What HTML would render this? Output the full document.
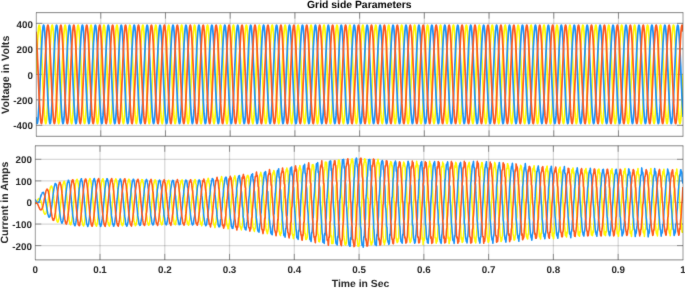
<!DOCTYPE html>
<html><head><meta charset="utf-8"><title>Grid side Parameters</title>
<style>html,body{margin:0;padding:0;background:#fff;overflow:hidden}svg{display:block}</style>
</head><body>
<svg width="685" height="288" viewBox="0 0 685 288" text-rendering="geometricPrecision">
<defs><clipPath id="c1"><rect x="36.3" y="12.65" width="646.7" height="123.65"/></clipPath><clipPath id="c2"><rect x="35.3" y="145.8" width="647.7" height="114.09999999999997"/></clipPath><filter id="sm" x="0" y="0" width="1" height="1" color-interpolation-filters="sRGB"><feConvolveMatrix order="3" kernelMatrix="1 10 1 10 100 10 1 10 1" divisor="144" edgeMode="duplicate"/></filter></defs>
<g filter="url(#sm)">
<rect width="685" height="288" fill="#fff"/>
<g stroke="rgba(38,38,38,0.18)" stroke-width="1.25"><line x1="100.76" y1="12.65" x2="100.76" y2="136.3"/><line x1="165.47" y1="12.65" x2="165.47" y2="136.3"/><line x1="230.18" y1="12.65" x2="230.18" y2="136.3"/><line x1="294.90" y1="12.65" x2="294.90" y2="136.3"/><line x1="359.61" y1="12.65" x2="359.61" y2="136.3"/><line x1="424.32" y1="12.65" x2="424.32" y2="136.3"/><line x1="489.04" y1="12.65" x2="489.04" y2="136.3"/><line x1="553.75" y1="12.65" x2="553.75" y2="136.3"/><line x1="618.46" y1="12.65" x2="618.46" y2="136.3"/><line x1="36.3" y1="23.35" x2="683.0" y2="23.35"/><line x1="36.3" y1="48.85" x2="683.0" y2="48.85"/><line x1="36.3" y1="74.35" x2="683.0" y2="74.35"/><line x1="36.3" y1="99.85" x2="683.0" y2="99.85"/><line x1="36.3" y1="125.35" x2="683.0" y2="125.35"/></g>
<g stroke="rgba(38,38,38,0.18)" stroke-width="1.25"><line x1="100.00" y1="145.8" x2="100.00" y2="259.9"/><line x1="164.77" y1="145.8" x2="164.77" y2="259.9"/><line x1="229.54" y1="145.8" x2="229.54" y2="259.9"/><line x1="294.31" y1="145.8" x2="294.31" y2="259.9"/><line x1="359.08" y1="145.8" x2="359.08" y2="259.9"/><line x1="423.85" y1="145.8" x2="423.85" y2="259.9"/><line x1="488.62" y1="145.8" x2="488.62" y2="259.9"/><line x1="553.39" y1="145.8" x2="553.39" y2="259.9"/><line x1="618.16" y1="145.8" x2="618.16" y2="259.9"/><line x1="35.3" y1="159.31" x2="683.0" y2="159.31"/><line x1="35.3" y1="180.88" x2="683.0" y2="180.88"/><line x1="35.3" y1="202.45" x2="683.0" y2="202.45"/><line x1="35.3" y1="224.02" x2="683.0" y2="224.02"/><line x1="35.3" y1="245.59" x2="683.0" y2="245.59"/></g>
<g stroke="#333333" stroke-width="0.45"><line x1="100.76" y1="12.65" x2="100.76" y2="18.65"/><line x1="100.76" y1="136.3" x2="100.76" y2="130.3"/><line x1="165.47" y1="12.65" x2="165.47" y2="18.65"/><line x1="165.47" y1="136.3" x2="165.47" y2="130.3"/><line x1="230.18" y1="12.65" x2="230.18" y2="18.65"/><line x1="230.18" y1="136.3" x2="230.18" y2="130.3"/><line x1="294.90" y1="12.65" x2="294.90" y2="18.65"/><line x1="294.90" y1="136.3" x2="294.90" y2="130.3"/><line x1="359.61" y1="12.65" x2="359.61" y2="18.65"/><line x1="359.61" y1="136.3" x2="359.61" y2="130.3"/><line x1="424.32" y1="12.65" x2="424.32" y2="18.65"/><line x1="424.32" y1="136.3" x2="424.32" y2="130.3"/><line x1="489.04" y1="12.65" x2="489.04" y2="18.65"/><line x1="489.04" y1="136.3" x2="489.04" y2="130.3"/><line x1="553.75" y1="12.65" x2="553.75" y2="18.65"/><line x1="553.75" y1="136.3" x2="553.75" y2="130.3"/><line x1="618.46" y1="12.65" x2="618.46" y2="18.65"/><line x1="618.46" y1="136.3" x2="618.46" y2="130.3"/><line x1="36.3" y1="23.35" x2="42.3" y2="23.35"/><line x1="683.0" y1="23.35" x2="677.0" y2="23.35"/><line x1="36.3" y1="48.85" x2="42.3" y2="48.85"/><line x1="683.0" y1="48.85" x2="677.0" y2="48.85"/><line x1="36.3" y1="74.35" x2="42.3" y2="74.35"/><line x1="683.0" y1="74.35" x2="677.0" y2="74.35"/><line x1="36.3" y1="99.85" x2="42.3" y2="99.85"/><line x1="683.0" y1="99.85" x2="677.0" y2="99.85"/><line x1="36.3" y1="125.35" x2="42.3" y2="125.35"/><line x1="683.0" y1="125.35" x2="677.0" y2="125.35"/></g>
<g stroke="#333333" stroke-width="0.45"><line x1="100.00" y1="145.8" x2="100.00" y2="151.8"/><line x1="100.00" y1="259.9" x2="100.00" y2="253.89999999999998"/><line x1="164.77" y1="145.8" x2="164.77" y2="151.8"/><line x1="164.77" y1="259.9" x2="164.77" y2="253.89999999999998"/><line x1="229.54" y1="145.8" x2="229.54" y2="151.8"/><line x1="229.54" y1="259.9" x2="229.54" y2="253.89999999999998"/><line x1="294.31" y1="145.8" x2="294.31" y2="151.8"/><line x1="294.31" y1="259.9" x2="294.31" y2="253.89999999999998"/><line x1="359.08" y1="145.8" x2="359.08" y2="151.8"/><line x1="359.08" y1="259.9" x2="359.08" y2="253.89999999999998"/><line x1="423.85" y1="145.8" x2="423.85" y2="151.8"/><line x1="423.85" y1="259.9" x2="423.85" y2="253.89999999999998"/><line x1="488.62" y1="145.8" x2="488.62" y2="151.8"/><line x1="488.62" y1="259.9" x2="488.62" y2="253.89999999999998"/><line x1="553.39" y1="145.8" x2="553.39" y2="151.8"/><line x1="553.39" y1="259.9" x2="553.39" y2="253.89999999999998"/><line x1="618.16" y1="145.8" x2="618.16" y2="151.8"/><line x1="618.16" y1="259.9" x2="618.16" y2="253.89999999999998"/><line x1="35.3" y1="159.31" x2="41.3" y2="159.31"/><line x1="683.0" y1="159.31" x2="677.0" y2="159.31"/><line x1="35.3" y1="180.88" x2="41.3" y2="180.88"/><line x1="683.0" y1="180.88" x2="677.0" y2="180.88"/><line x1="35.3" y1="202.45" x2="41.3" y2="202.45"/><line x1="683.0" y1="202.45" x2="677.0" y2="202.45"/><line x1="35.3" y1="224.02" x2="41.3" y2="224.02"/><line x1="683.0" y1="224.02" x2="677.0" y2="224.02"/><line x1="35.3" y1="245.59" x2="41.3" y2="245.59"/><line x1="683.0" y1="245.59" x2="677.0" y2="245.59"/></g>
<g clip-path="url(#c1)"><polyline points="36.0,74.3 36.3,68.4 36.5,62.6 36.8,56.9 37.0,51.5 37.3,46.4 37.5,41.7 37.8,37.5 38.0,33.8 38.3,30.8 38.5,28.3 38.8,26.6 39.0,25.5 39.3,25.1 39.5,25.5 39.8,26.6 40.0,28.3 40.3,30.8 40.5,33.8 40.8,37.5 41.0,41.7 41.3,46.4 41.5,51.5 41.8,56.9 42.0,62.6 42.3,68.4 42.5,74.3 42.8,80.3 43.0,86.1 43.3,91.8 43.5,97.2 43.8,102.3 44.0,107.0 44.3,111.2 44.5,114.9 44.8,117.9 45.0,120.4 45.3,122.1 45.5,123.2 45.8,123.6 46.0,123.2 46.2,122.1 46.5,120.4 46.7,117.9 47.0,114.9 47.2,111.2 47.5,107.0 47.7,102.3 48.0,97.2 48.2,91.8 48.5,86.1 48.7,80.3 49.0,74.4 49.2,68.4 49.5,62.6 49.7,56.9 50.0,51.5 50.2,46.4 50.5,41.7 50.7,37.5 51.0,33.8 51.2,30.8 51.5,28.3 51.7,26.6 52.0,25.5 52.2,25.1 52.5,25.5 52.7,26.6 53.0,28.3 53.2,30.8 53.5,33.8 53.7,37.5 54.0,41.7 54.2,46.4 54.5,51.5 54.7,56.9 55.0,62.6 55.2,68.4 55.5,74.3 55.7,80.3 56.0,86.1 56.2,91.8 56.5,97.2 56.7,102.3 57.0,107.0 57.2,111.2 57.5,114.9 57.7,117.9 57.9,120.4 58.2,122.1 58.4,123.2 58.7,123.6 58.9,123.2 59.2,122.1 59.4,120.4 59.7,117.9 59.9,114.9 60.2,111.2 60.4,107.0 60.7,102.3 60.9,97.2 61.2,91.8 61.4,86.1 61.7,80.3 61.9,74.4 62.2,68.4 62.4,62.6 62.7,56.9 62.9,51.5 63.2,46.4 63.4,41.7 63.7,37.5 63.9,33.8 64.2,30.8 64.4,28.3 64.7,26.6 64.9,25.5 65.2,25.1 65.4,25.5 65.7,26.6 65.9,28.3 66.2,30.8 66.4,33.8 66.7,37.5 66.9,41.7 67.2,46.4 67.4,51.5 67.7,56.9 67.9,62.6 68.2,68.4 68.4,74.4 68.7,80.3 68.9,86.1 69.1,91.8 69.4,97.2 69.6,102.3 69.9,107.0 70.1,111.2 70.4,114.9 70.6,117.9 70.9,120.4 71.1,122.1 71.4,123.2 71.6,123.6 71.9,123.2 72.1,122.1 72.4,120.4 72.6,117.9 72.9,114.9 73.1,111.2 73.4,107.0 73.6,102.3 73.9,97.2 74.1,91.8 74.4,86.1 74.6,80.3 74.9,74.4 75.1,68.4 75.4,62.6 75.6,56.9 75.9,51.5 76.1,46.4 76.4,41.7 76.6,37.5 76.9,33.8 77.1,30.8 77.4,28.3 77.6,26.6 77.9,25.5 78.1,25.1 78.4,25.5 78.6,26.6 78.9,28.3 79.1,30.8 79.4,33.8 79.6,37.5 79.9,41.7 80.1,46.4 80.3,51.5 80.6,56.9 80.8,62.6 81.1,68.4 81.3,74.4 81.6,80.3 81.8,86.1 82.1,91.8 82.3,97.2 82.6,102.3 82.8,107.0 83.1,111.2 83.3,114.9 83.6,117.9 83.8,120.4 84.1,122.1 84.3,123.2 84.6,123.6 84.8,123.2 85.1,122.1 85.3,120.4 85.6,117.9 85.8,114.9 86.1,111.2 86.3,107.0 86.6,102.3 86.8,97.2 87.1,91.8 87.3,86.1 87.6,80.3 87.8,74.4 88.1,68.4 88.3,62.6 88.6,56.9 88.8,51.5 89.1,46.4 89.3,41.7 89.6,37.5 89.8,33.8 90.1,30.8 90.3,28.3 90.6,26.6 90.8,25.5 91.1,25.1 91.3,25.5 91.5,26.6 91.8,28.3 92.0,30.8 92.3,33.8 92.5,37.5 92.8,41.7 93.0,46.4 93.3,51.5 93.5,56.9 93.8,62.6 94.0,68.4 94.3,74.3 94.5,80.3 94.8,86.1 95.0,91.8 95.3,97.2 95.5,102.3 95.8,107.0 96.0,111.2 96.3,114.9 96.5,117.9 96.8,120.4 97.0,122.1 97.3,123.2 97.5,123.6 97.8,123.2 98.0,122.1 98.3,120.4 98.5,117.9 98.8,114.9 99.0,111.2 99.3,107.0 99.5,102.3 99.8,97.2 100.0,91.8 100.3,86.1 100.5,80.3 100.8,74.3 101.0,68.4 101.3,62.6 101.5,56.9 101.8,51.5 102.0,46.4 102.3,41.7 102.5,37.5 102.7,33.8 103.0,30.8 103.2,28.3 103.5,26.6 103.7,25.5 104.0,25.1 104.2,25.5 104.5,26.6 104.7,28.3 105.0,30.8 105.2,33.8 105.5,37.5 105.7,41.7 106.0,46.4 106.2,51.5 106.5,56.9 106.7,62.6 107.0,68.4 107.2,74.4 107.5,80.3 107.7,86.1 108.0,91.8 108.2,97.2 108.5,102.3 108.7,107.0 109.0,111.2 109.2,114.9 109.5,117.9 109.7,120.4 110.0,122.1 110.2,123.2 110.5,123.6 110.7,123.2 111.0,122.1 111.2,120.4 111.5,117.9 111.7,114.9 112.0,111.2 112.2,107.0 112.5,102.3 112.7,97.2 113.0,91.8 113.2,86.1 113.5,80.3 113.7,74.4 113.9,68.4 114.2,62.6 114.4,56.9 114.7,51.5 114.9,46.4 115.2,41.7 115.4,37.5 115.7,33.8 115.9,30.8 116.2,28.3 116.4,26.6 116.7,25.5 116.9,25.1 117.2,25.5 117.4,26.6 117.7,28.3 117.9,30.8 118.2,33.8 118.4,37.5 118.7,41.7 118.9,46.4 119.2,51.5 119.4,56.9 119.7,62.6 119.9,68.4 120.2,74.4 120.4,80.3 120.7,86.1 120.9,91.8 121.2,97.2 121.4,102.3 121.7,107.0 121.9,111.2 122.2,114.9 122.4,117.9 122.7,120.4 122.9,122.1 123.2,123.2 123.4,123.6 123.7,123.2 123.9,122.1 124.2,120.4 124.4,117.9 124.7,114.9 124.9,111.2 125.1,107.0 125.4,102.3 125.6,97.2 125.9,91.8 126.1,86.1 126.4,80.3 126.6,74.3 126.9,68.4 127.1,62.6 127.4,56.9 127.6,51.5 127.9,46.4 128.1,41.7 128.4,37.5 128.6,33.8 128.9,30.8 129.1,28.3 129.4,26.6 129.6,25.5 129.9,25.1 130.1,25.5 130.4,26.6 130.6,28.3 130.9,30.8 131.1,33.8 131.4,37.5 131.6,41.7 131.9,46.4 132.1,51.5 132.4,56.9 132.6,62.6 132.9,68.4 133.1,74.4 133.4,80.3 133.6,86.1 133.9,91.8 134.1,97.2 134.4,102.3 134.6,107.0 134.9,111.2 135.1,114.9 135.4,117.9 135.6,120.4 135.9,122.1 136.1,123.2 136.4,123.6 136.6,123.2 136.8,122.1 137.1,120.4 137.3,117.9 137.6,114.9 137.8,111.2 138.1,107.0 138.3,102.3 138.6,97.2 138.8,91.8 139.1,86.1 139.3,80.3 139.6,74.4 139.8,68.4 140.1,62.6 140.3,56.9 140.6,51.5 140.8,46.4 141.1,41.7 141.3,37.5 141.6,33.8 141.8,30.8 142.1,28.3 142.3,26.6 142.6,25.5 142.8,25.1 143.1,25.5 143.3,26.6 143.6,28.3 143.8,30.8 144.1,33.8 144.3,37.5 144.6,41.7 144.8,46.4 145.1,51.5 145.3,56.9 145.6,62.6 145.8,68.4 146.1,74.4 146.3,80.3 146.6,86.1 146.8,91.8 147.1,97.2 147.3,102.3 147.6,107.0 147.8,111.2 148.0,114.9 148.3,117.9 148.5,120.4 148.8,122.1 149.0,123.2 149.3,123.6 149.5,123.2 149.8,122.1 150.0,120.4 150.3,117.9 150.5,114.9 150.8,111.2 151.0,107.0 151.3,102.3 151.5,97.2 151.8,91.8 152.0,86.1 152.3,80.3 152.5,74.4 152.8,68.4 153.0,62.6 153.3,56.9 153.5,51.5 153.8,46.4 154.0,41.7 154.3,37.5 154.5,33.8 154.8,30.8 155.0,28.3 155.3,26.6 155.5,25.5 155.8,25.1 156.0,25.5 156.3,26.6 156.5,28.3 156.8,30.8 157.0,33.8 157.3,37.5 157.5,41.7 157.8,46.4 158.0,51.5 158.3,56.9 158.5,62.6 158.8,68.4 159.0,74.4 159.2,80.3 159.5,86.1 159.7,91.8 160.0,97.2 160.2,102.3 160.5,107.0 160.7,111.2 161.0,114.9 161.2,117.9 161.5,120.4 161.7,122.1 162.0,123.2 162.2,123.6 162.5,123.2 162.7,122.1 163.0,120.4 163.2,117.9 163.5,114.9 163.7,111.2 164.0,107.0 164.2,102.3 164.5,97.2 164.7,91.8 165.0,86.1 165.2,80.3 165.5,74.3 165.7,68.4 166.0,62.6 166.2,56.9 166.5,51.5 166.7,46.4 167.0,41.7 167.2,37.5 167.5,33.8 167.7,30.8 168.0,28.3 168.2,26.6 168.5,25.5 168.7,25.1 169.0,25.5 169.2,26.6 169.5,28.3 169.7,30.8 170.0,33.8 170.2,37.5 170.4,41.7 170.7,46.4 170.9,51.5 171.2,56.9 171.4,62.6 171.7,68.4 171.9,74.4 172.2,80.3 172.4,86.1 172.7,91.8 172.9,97.2 173.2,102.3 173.4,107.0 173.7,111.2 173.9,114.9 174.2,117.9 174.4,120.4 174.7,122.1 174.9,123.2 175.2,123.6 175.4,123.2 175.7,122.1 175.9,120.4 176.2,117.9 176.4,114.9 176.7,111.2 176.9,107.0 177.2,102.3 177.4,97.2 177.7,91.8 177.9,86.1 178.2,80.3 178.4,74.3 178.7,68.4 178.9,62.6 179.2,56.9 179.4,51.5 179.7,46.4 179.9,41.7 180.2,37.5 180.4,33.8 180.7,30.8 180.9,28.3 181.2,26.6 181.4,25.5 181.6,25.1 181.9,25.5 182.1,26.6 182.4,28.3 182.6,30.8 182.9,33.8 183.1,37.5 183.4,41.7 183.6,46.4 183.9,51.5 184.1,56.9 184.4,62.6 184.6,68.4 184.9,74.4 185.1,80.3 185.4,86.1 185.6,91.8 185.9,97.2 186.1,102.3 186.4,107.0 186.6,111.2 186.9,114.9 187.1,117.9 187.4,120.4 187.6,122.1 187.9,123.2 188.1,123.6 188.4,123.2 188.6,122.1 188.9,120.4 189.1,117.9 189.4,114.9 189.6,111.2 189.9,107.0 190.1,102.3 190.4,97.2 190.6,91.8 190.9,86.1 191.1,80.3 191.4,74.4 191.6,68.4 191.9,62.6 192.1,56.9 192.4,51.5 192.6,46.4 192.8,41.7 193.1,37.5 193.3,33.8 193.6,30.8 193.8,28.3 194.1,26.6 194.3,25.5 194.6,25.1 194.8,25.5 195.1,26.6 195.3,28.3 195.6,30.8 195.8,33.8 196.1,37.5 196.3,41.7 196.6,46.4 196.8,51.5 197.1,56.9 197.3,62.6 197.6,68.4 197.8,74.4 198.1,80.3 198.3,86.1 198.6,91.8 198.8,97.2 199.1,102.3 199.3,107.0 199.6,111.2 199.8,114.9 200.1,117.9 200.3,120.4 200.6,122.1 200.8,123.2 201.1,123.6 201.3,123.2 201.6,122.1 201.8,120.4 202.1,117.9 202.3,114.9 202.6,111.2 202.8,107.0 203.1,102.3 203.3,97.2 203.6,91.8 203.8,86.1 204.0,80.3 204.3,74.3 204.5,68.4 204.8,62.6 205.0,56.9 205.3,51.5 205.5,46.4 205.8,41.7 206.0,37.5 206.3,33.8 206.5,30.8 206.8,28.3 207.0,26.6 207.3,25.5 207.5,25.1 207.8,25.5 208.0,26.6 208.3,28.3 208.5,30.8 208.8,33.8 209.0,37.5 209.3,41.7 209.5,46.4 209.8,51.5 210.0,56.9 210.3,62.6 210.5,68.4 210.8,74.4 211.0,80.3 211.3,86.1 211.5,91.8 211.8,97.2 212.0,102.3 212.3,107.0 212.5,111.2 212.8,114.9 213.0,117.9 213.3,120.4 213.5,122.1 213.8,123.2 214.0,123.6 214.3,123.2 214.5,122.1 214.8,120.4 215.0,117.9 215.3,114.9 215.5,111.2 215.7,107.0 216.0,102.3 216.2,97.2 216.5,91.8 216.7,86.1 217.0,80.3 217.2,74.3 217.5,68.4 217.7,62.6 218.0,56.9 218.2,51.5 218.5,46.4 218.7,41.7 219.0,37.5 219.2,33.8 219.5,30.8 219.7,28.3 220.0,26.6 220.2,25.5 220.5,25.1 220.7,25.5 221.0,26.6 221.2,28.3 221.5,30.8 221.7,33.8 222.0,37.5 222.2,41.7 222.5,46.4 222.7,51.5 223.0,56.9 223.2,62.6 223.5,68.4 223.7,74.3 224.0,80.3 224.2,86.1 224.5,91.8 224.7,97.2 225.0,102.3 225.2,107.0 225.5,111.2 225.7,114.9 226.0,117.9 226.2,120.4 226.5,122.1 226.7,123.2 226.9,123.6 227.2,123.2 227.4,122.1 227.7,120.4 227.9,117.9 228.2,114.9 228.4,111.2 228.7,107.0 228.9,102.3 229.2,97.2 229.4,91.8 229.7,86.1 229.9,80.3 230.2,74.3 230.4,68.4 230.7,62.6 230.9,56.9 231.2,51.5 231.4,46.4 231.7,41.7 231.9,37.5 232.2,33.8 232.4,30.8 232.7,28.3 232.9,26.6 233.2,25.5 233.4,25.1 233.7,25.5 233.9,26.6 234.2,28.3 234.4,30.8 234.7,33.8 234.9,37.5 235.2,41.7 235.4,46.4 235.7,51.5 235.9,56.9 236.2,62.6 236.4,68.4 236.7,74.4 236.9,80.3 237.2,86.1 237.4,91.8 237.7,97.2 237.9,102.3 238.1,107.0 238.4,111.2 238.6,114.9 238.9,117.9 239.1,120.4 239.4,122.1 239.6,123.2 239.9,123.6 240.1,123.2 240.4,122.1 240.6,120.4 240.9,117.9 241.1,114.9 241.4,111.2 241.6,107.0 241.9,102.3 242.1,97.2 242.4,91.8 242.6,86.1 242.9,80.3 243.1,74.4 243.4,68.4 243.6,62.6 243.9,56.9 244.1,51.5 244.4,46.4 244.6,41.7 244.9,37.5 245.1,33.8 245.4,30.8 245.6,28.3 245.9,26.6 246.1,25.5 246.4,25.1 246.6,25.5 246.9,26.6 247.1,28.3 247.4,30.8 247.6,33.8 247.9,37.5 248.1,41.7 248.4,46.4 248.6,51.5 248.9,56.9 249.1,62.6 249.3,68.4 249.6,74.3 249.8,80.3 250.1,86.1 250.3,91.8 250.6,97.2 250.8,102.3 251.1,107.0 251.3,111.2 251.6,114.9 251.8,117.9 252.1,120.4 252.3,122.1 252.6,123.2 252.8,123.6 253.1,123.2 253.3,122.1 253.6,120.4 253.8,117.9 254.1,114.9 254.3,111.2 254.6,107.0 254.8,102.3 255.1,97.2 255.3,91.8 255.6,86.1 255.8,80.3 256.1,74.3 256.3,68.4 256.6,62.6 256.8,56.9 257.1,51.5 257.3,46.4 257.6,41.7 257.8,37.5 258.1,33.8 258.3,30.8 258.6,28.3 258.8,26.6 259.1,25.5 259.3,25.1 259.6,25.5 259.8,26.6 260.1,28.3 260.3,30.8 260.5,33.8 260.8,37.5 261.0,41.7 261.3,46.4 261.5,51.5 261.8,56.9 262.0,62.6 262.3,68.4 262.5,74.3 262.8,80.3 263.0,86.1 263.3,91.8 263.5,97.2 263.8,102.3 264.0,107.0 264.3,111.2 264.5,114.9 264.8,117.9 265.0,120.4 265.3,122.1 265.5,123.2 265.8,123.6 266.0,123.2 266.3,122.1 266.5,120.4 266.8,117.9 267.0,114.9 267.3,111.2 267.5,107.0 267.8,102.3 268.0,97.2 268.3,91.8 268.5,86.1 268.8,80.3 269.0,74.4 269.3,68.4 269.5,62.6 269.8,56.9 270.0,51.5 270.3,46.4 270.5,41.7 270.8,37.5 271.0,33.8 271.3,30.8 271.5,28.3 271.7,26.6 272.0,25.5 272.2,25.1 272.5,25.5 272.7,26.6 273.0,28.3 273.2,30.8 273.5,33.8 273.7,37.5 274.0,41.7 274.2,46.4 274.5,51.5 274.7,56.9 275.0,62.6 275.2,68.4 275.5,74.3 275.7,80.3 276.0,86.1 276.2,91.8 276.5,97.2 276.7,102.3 277.0,107.0 277.2,111.2 277.5,114.9 277.7,117.9 278.0,120.4 278.2,122.1 278.5,123.2 278.7,123.6 279.0,123.2 279.2,122.1 279.5,120.4 279.7,117.9 280.0,114.9 280.2,111.2 280.5,107.0 280.7,102.3 281.0,97.2 281.2,91.8 281.5,86.1 281.7,80.3 282.0,74.3 282.2,68.4 282.5,62.6 282.7,56.9 282.9,51.5 283.2,46.4 283.4,41.7 283.7,37.5 283.9,33.8 284.2,30.8 284.4,28.3 284.7,26.6 284.9,25.5 285.2,25.1 285.4,25.5 285.7,26.6 285.9,28.3 286.2,30.8 286.4,33.8 286.7,37.5 286.9,41.7 287.2,46.4 287.4,51.5 287.7,56.9 287.9,62.6 288.2,68.4 288.4,74.4 288.7,80.3 288.9,86.1 289.2,91.8 289.4,97.2 289.7,102.3 289.9,107.0 290.2,111.2 290.4,114.9 290.7,117.9 290.9,120.4 291.2,122.1 291.4,123.2 291.7,123.6 291.9,123.2 292.2,122.1 292.4,120.4 292.7,117.9 292.9,114.9 293.2,111.2 293.4,107.0 293.7,102.3 293.9,97.2 294.2,91.8 294.4,86.1 294.6,80.3 294.9,74.3 295.1,68.4 295.4,62.6 295.6,56.9 295.9,51.5 296.1,46.4 296.4,41.7 296.6,37.5 296.9,33.8 297.1,30.8 297.4,28.3 297.6,26.6 297.9,25.5 298.1,25.1 298.4,25.5 298.6,26.6 298.9,28.3 299.1,30.8 299.4,33.8 299.6,37.5 299.9,41.7 300.1,46.4 300.4,51.5 300.6,56.9 300.9,62.6 301.1,68.4 301.4,74.3 301.6,80.3 301.9,86.1 302.1,91.8 302.4,97.2 302.6,102.3 302.9,107.0 303.1,111.2 303.4,114.9 303.6,117.9 303.9,120.4 304.1,122.1 304.4,123.2 304.6,123.6 304.9,123.2 305.1,122.1 305.4,120.4 305.6,117.9 305.8,114.9 306.1,111.2 306.3,107.0 306.6,102.3 306.8,97.2 307.1,91.8 307.3,86.1 307.6,80.3 307.8,74.3 308.1,68.4 308.3,62.6 308.6,56.9 308.8,51.5 309.1,46.4 309.3,41.7 309.6,37.5 309.8,33.8 310.1,30.8 310.3,28.3 310.6,26.6 310.8,25.5 311.1,25.1 311.3,25.5 311.6,26.6 311.8,28.3 312.1,30.8 312.3,33.8 312.6,37.5 312.8,41.7 313.1,46.4 313.3,51.5 313.6,56.9 313.8,62.6 314.1,68.4 314.3,74.3 314.6,80.3 314.8,86.1 315.1,91.8 315.3,97.2 315.6,102.3 315.8,107.0 316.1,111.2 316.3,114.9 316.6,117.9 316.8,120.4 317.0,122.1 317.3,123.2 317.5,123.6 317.8,123.2 318.0,122.1 318.3,120.4 318.5,117.9 318.8,114.9 319.0,111.2 319.3,107.0 319.5,102.3 319.8,97.2 320.0,91.8 320.3,86.1 320.5,80.3 320.8,74.3 321.0,68.4 321.3,62.6 321.5,56.9 321.8,51.5 322.0,46.4 322.3,41.7 322.5,37.5 322.8,33.8 323.0,30.8 323.3,28.3 323.5,26.6 323.8,25.5 324.0,25.1 324.3,25.5 324.5,26.6 324.8,28.3 325.0,30.8 325.3,33.8 325.5,37.5 325.8,41.7 326.0,46.4 326.3,51.5 326.5,56.9 326.8,62.6 327.0,68.4 327.3,74.3 327.5,80.3 327.8,86.1 328.0,91.8 328.2,97.2 328.5,102.3 328.7,107.0 329.0,111.2 329.2,114.9 329.5,117.9 329.7,120.4 330.0,122.1 330.2,123.2 330.5,123.6 330.7,123.2 331.0,122.1 331.2,120.4 331.5,117.9 331.7,114.9 332.0,111.2 332.2,107.0 332.5,102.3 332.7,97.2 333.0,91.8 333.2,86.1 333.5,80.3 333.7,74.3 334.0,68.4 334.2,62.6 334.5,56.9 334.7,51.5 335.0,46.4 335.2,41.7 335.5,37.5 335.7,33.8 336.0,30.8 336.2,28.3 336.5,26.6 336.7,25.5 337.0,25.1 337.2,25.5 337.5,26.6 337.7,28.3 338.0,30.8 338.2,33.8 338.5,37.5 338.7,41.7 339.0,46.4 339.2,51.5 339.4,56.9 339.7,62.6 339.9,68.4 340.2,74.4 340.4,80.3 340.7,86.1 340.9,91.8 341.2,97.2 341.4,102.3 341.7,107.0 341.9,111.2 342.2,114.9 342.4,117.9 342.7,120.4 342.9,122.1 343.2,123.2 343.4,123.6 343.7,123.2 343.9,122.1 344.2,120.4 344.4,117.9 344.7,114.9 344.9,111.2 345.2,107.0 345.4,102.3 345.7,97.2 345.9,91.8 346.2,86.1 346.4,80.3 346.7,74.4 346.9,68.4 347.2,62.6 347.4,56.9 347.7,51.5 347.9,46.4 348.2,41.7 348.4,37.5 348.7,33.8 348.9,30.8 349.2,28.3 349.4,26.6 349.7,25.5 349.9,25.1 350.2,25.5 350.4,26.6 350.6,28.3 350.9,30.8 351.1,33.8 351.4,37.5 351.6,41.7 351.9,46.4 352.1,51.5 352.4,56.9 352.6,62.6 352.9,68.4 353.1,74.4 353.4,80.3 353.6,86.1 353.9,91.8 354.1,97.2 354.4,102.3 354.6,107.0 354.9,111.2 355.1,114.9 355.4,117.9 355.6,120.4 355.9,122.1 356.1,123.2 356.4,123.6 356.6,123.2 356.9,122.1 357.1,120.4 357.4,117.9 357.6,114.9 357.9,111.2 358.1,107.0 358.4,102.3 358.6,97.2 358.9,91.8 359.1,86.1 359.4,80.3 359.6,74.3 359.9,68.4 360.1,62.6 360.4,56.9 360.6,51.5 360.9,46.4 361.1,41.7 361.4,37.5 361.6,33.8 361.9,30.8 362.1,28.3 362.3,26.6 362.6,25.5 362.8,25.1 363.1,25.5 363.3,26.6 363.6,28.3 363.8,30.8 364.1,33.8 364.3,37.5 364.6,41.7 364.8,46.4 365.1,51.5 365.3,56.9 365.6,62.6 365.8,68.4 366.1,74.3 366.3,80.3 366.6,86.1 366.8,91.8 367.1,97.2 367.3,102.3 367.6,107.0 367.8,111.2 368.1,114.9 368.3,117.9 368.6,120.4 368.8,122.1 369.1,123.2 369.3,123.6 369.6,123.2 369.8,122.1 370.1,120.4 370.3,117.9 370.6,114.9 370.8,111.2 371.1,107.0 371.3,102.3 371.6,97.2 371.8,91.8 372.1,86.1 372.3,80.3 372.6,74.3 372.8,68.4 373.1,62.6 373.3,56.9 373.5,51.5 373.8,46.4 374.0,41.7 374.3,37.5 374.5,33.8 374.8,30.8 375.0,28.3 375.3,26.6 375.5,25.5 375.8,25.1 376.0,25.5 376.3,26.6 376.5,28.3 376.8,30.8 377.0,33.8 377.3,37.5 377.5,41.7 377.8,46.4 378.0,51.5 378.3,56.9 378.5,62.6 378.8,68.4 379.0,74.3 379.3,80.3 379.5,86.1 379.8,91.8 380.0,97.2 380.3,102.3 380.5,107.0 380.8,111.2 381.0,114.9 381.3,117.9 381.5,120.4 381.8,122.1 382.0,123.2 382.3,123.6 382.5,123.2 382.8,122.1 383.0,120.4 383.3,117.9 383.5,114.9 383.8,111.2 384.0,107.0 384.3,102.3 384.5,97.2 384.7,91.8 385.0,86.1 385.2,80.3 385.5,74.3 385.7,68.4 386.0,62.6 386.2,56.9 386.5,51.5 386.7,46.4 387.0,41.7 387.2,37.5 387.5,33.8 387.7,30.8 388.0,28.3 388.2,26.6 388.5,25.5 388.7,25.1 389.0,25.5 389.2,26.6 389.5,28.3 389.7,30.8 390.0,33.8 390.2,37.5 390.5,41.7 390.7,46.4 391.0,51.5 391.2,56.9 391.5,62.6 391.7,68.4 392.0,74.4 392.2,80.3 392.5,86.1 392.7,91.8 393.0,97.2 393.2,102.3 393.5,107.0 393.7,111.2 394.0,114.9 394.2,117.9 394.5,120.4 394.7,122.1 395.0,123.2 395.2,123.6 395.5,123.2 395.7,122.1 395.9,120.4 396.2,117.9 396.4,114.9 396.7,111.2 396.9,107.0 397.2,102.3 397.4,97.2 397.7,91.8 397.9,86.1 398.2,80.3 398.4,74.3 398.7,68.4 398.9,62.6 399.2,56.9 399.4,51.5 399.7,46.4 399.9,41.7 400.2,37.5 400.4,33.8 400.7,30.8 400.9,28.3 401.2,26.6 401.4,25.5 401.7,25.1 401.9,25.5 402.2,26.6 402.4,28.3 402.7,30.8 402.9,33.8 403.2,37.5 403.4,41.7 403.7,46.4 403.9,51.5 404.2,56.9 404.4,62.6 404.7,68.4 404.9,74.3 405.2,80.3 405.4,86.1 405.7,91.8 405.9,97.2 406.2,102.3 406.4,107.0 406.7,111.2 406.9,114.9 407.1,117.9 407.4,120.4 407.6,122.1 407.9,123.2 408.1,123.6 408.4,123.2 408.6,122.1 408.9,120.4 409.1,117.9 409.4,114.9 409.6,111.2 409.9,107.0 410.1,102.3 410.4,97.2 410.6,91.8 410.9,86.1 411.1,80.3 411.4,74.3 411.6,68.4 411.9,62.6 412.1,56.9 412.4,51.5 412.6,46.4 412.9,41.7 413.1,37.5 413.4,33.8 413.6,30.8 413.9,28.3 414.1,26.6 414.4,25.5 414.6,25.1 414.9,25.5 415.1,26.6 415.4,28.3 415.6,30.8 415.9,33.8 416.1,37.5 416.4,41.7 416.6,46.4 416.9,51.5 417.1,56.9 417.4,62.6 417.6,68.4 417.9,74.3 418.1,80.3 418.3,86.1 418.6,91.8 418.8,97.2 419.1,102.3 419.3,107.0 419.6,111.2 419.8,114.9 420.1,117.9 420.3,120.4 420.6,122.1 420.8,123.2 421.1,123.6 421.3,123.2 421.6,122.1 421.8,120.4 422.1,117.9 422.3,114.9 422.6,111.2 422.8,107.0 423.1,102.3 423.3,97.2 423.6,91.8 423.8,86.1 424.1,80.3 424.3,74.3 424.6,68.4 424.8,62.6 425.1,56.9 425.3,51.5 425.6,46.4 425.8,41.7 426.1,37.5 426.3,33.8 426.6,30.8 426.8,28.3 427.1,26.6 427.3,25.5 427.6,25.1 427.8,25.5 428.1,26.6 428.3,28.3 428.6,30.8 428.8,33.8 429.1,37.5 429.3,41.7 429.5,46.4 429.8,51.5 430.0,56.9 430.3,62.6 430.5,68.4 430.8,74.3 431.0,80.3 431.3,86.1 431.5,91.8 431.8,97.2 432.0,102.3 432.3,107.0 432.5,111.2 432.8,114.9 433.0,117.9 433.3,120.4 433.5,122.1 433.8,123.2 434.0,123.6 434.3,123.2 434.5,122.1 434.8,120.4 435.0,117.9 435.3,114.9 435.5,111.2 435.8,107.0 436.0,102.3 436.3,97.2 436.5,91.8 436.8,86.1 437.0,80.3 437.3,74.3 437.5,68.4 437.8,62.6 438.0,56.9 438.3,51.5 438.5,46.4 438.8,41.7 439.0,37.5 439.3,33.8 439.5,30.8 439.8,28.3 440.0,26.6 440.3,25.5 440.5,25.1 440.8,25.5 441.0,26.6 441.2,28.3 441.5,30.8 441.7,33.8 442.0,37.5 442.2,41.7 442.5,46.4 442.7,51.5 443.0,56.9 443.2,62.6 443.5,68.4 443.7,74.4 444.0,80.3 444.2,86.1 444.5,91.8 444.7,97.2 445.0,102.3 445.2,107.0 445.5,111.2 445.7,114.9 446.0,117.9 446.2,120.4 446.5,122.1 446.7,123.2 447.0,123.6 447.2,123.2 447.5,122.1 447.7,120.4 448.0,117.9 448.2,114.9 448.5,111.2 448.7,107.0 449.0,102.3 449.2,97.2 449.5,91.8 449.7,86.1 450.0,80.3 450.2,74.4 450.5,68.4 450.7,62.6 451.0,56.9 451.2,51.5 451.5,46.4 451.7,41.7 452.0,37.5 452.2,33.8 452.4,30.8 452.7,28.3 452.9,26.6 453.2,25.5 453.4,25.1 453.7,25.5 453.9,26.6 454.2,28.3 454.4,30.8 454.7,33.8 454.9,37.5 455.2,41.7 455.4,46.4 455.7,51.5 455.9,56.9 456.2,62.6 456.4,68.4 456.7,74.4 456.9,80.3 457.2,86.1 457.4,91.8 457.7,97.2 457.9,102.3 458.2,107.0 458.4,111.2 458.7,114.9 458.9,117.9 459.2,120.4 459.4,122.1 459.7,123.2 459.9,123.6 460.2,123.2 460.4,122.1 460.7,120.4 460.9,117.9 461.2,114.9 461.4,111.2 461.7,107.0 461.9,102.3 462.2,97.2 462.4,91.8 462.7,86.1 462.9,80.3 463.2,74.4 463.4,68.4 463.6,62.6 463.9,56.9 464.1,51.5 464.4,46.4 464.6,41.7 464.9,37.5 465.1,33.8 465.4,30.8 465.6,28.3 465.9,26.6 466.1,25.5 466.4,25.1 466.6,25.5 466.9,26.6 467.1,28.3 467.4,30.8 467.6,33.8 467.9,37.5 468.1,41.7 468.4,46.4 468.6,51.5 468.9,56.9 469.1,62.6 469.4,68.4 469.6,74.4 469.9,80.3 470.1,86.1 470.4,91.8 470.6,97.2 470.9,102.3 471.1,107.0 471.4,111.2 471.6,114.9 471.9,117.9 472.1,120.4 472.4,122.1 472.6,123.2 472.9,123.6 473.1,123.2 473.4,122.1 473.6,120.4 473.9,117.9 474.1,114.9 474.4,111.2 474.6,107.0 474.8,102.3 475.1,97.2 475.3,91.8 475.6,86.1 475.8,80.3 476.1,74.3 476.3,68.4 476.6,62.6 476.8,56.9 477.1,51.5 477.3,46.4 477.6,41.7 477.8,37.5 478.1,33.8 478.3,30.8 478.6,28.3 478.8,26.6 479.1,25.5 479.3,25.1 479.6,25.5 479.8,26.6 480.1,28.3 480.3,30.8 480.6,33.8 480.8,37.5 481.1,41.7 481.3,46.4 481.6,51.5 481.8,56.9 482.1,62.6 482.3,68.4 482.6,74.3 482.8,80.3 483.1,86.1 483.3,91.8 483.6,97.2 483.8,102.3 484.1,107.0 484.3,111.2 484.6,114.9 484.8,117.9 485.1,120.4 485.3,122.1 485.6,123.2 485.8,123.6 486.0,123.2 486.3,122.1 486.5,120.4 486.8,117.9 487.0,114.9 487.3,111.2 487.5,107.0 487.8,102.3 488.0,97.2 488.3,91.8 488.5,86.1 488.8,80.3 489.0,74.4 489.3,68.4 489.5,62.6 489.8,56.9 490.0,51.5 490.3,46.4 490.5,41.7 490.8,37.5 491.0,33.8 491.3,30.8 491.5,28.3 491.8,26.6 492.0,25.5 492.3,25.1 492.5,25.5 492.8,26.6 493.0,28.3 493.3,30.8 493.5,33.8 493.8,37.5 494.0,41.7 494.3,46.4 494.5,51.5 494.8,56.9 495.0,62.6 495.3,68.4 495.5,74.4 495.8,80.3 496.0,86.1 496.3,91.8 496.5,97.2 496.8,102.3 497.0,107.0 497.2,111.2 497.5,114.9 497.7,117.9 498.0,120.4 498.2,122.1 498.5,123.2 498.7,123.6 499.0,123.2 499.2,122.1 499.5,120.4 499.7,117.9 500.0,114.9 500.2,111.2 500.5,107.0 500.7,102.3 501.0,97.2 501.2,91.8 501.5,86.1 501.7,80.3 502.0,74.4 502.2,68.4 502.5,62.6 502.7,56.9 503.0,51.5 503.2,46.4 503.5,41.7 503.7,37.5 504.0,33.8 504.2,30.8 504.5,28.3 504.7,26.6 505.0,25.5 505.2,25.1 505.5,25.5 505.7,26.6 506.0,28.3 506.2,30.8 506.5,33.8 506.7,37.5 507.0,41.7 507.2,46.4 507.5,51.5 507.7,56.9 508.0,62.6 508.2,68.4 508.4,74.4 508.7,80.3 508.9,86.1 509.2,91.8 509.4,97.2 509.7,102.3 509.9,107.0 510.2,111.2 510.4,114.9 510.7,117.9 510.9,120.4 511.2,122.1 511.4,123.2 511.7,123.6 511.9,123.2 512.2,122.1 512.4,120.4 512.7,117.9 512.9,114.9 513.2,111.2 513.4,107.0 513.7,102.3 513.9,97.2 514.2,91.8 514.4,86.1 514.7,80.3 514.9,74.4 515.2,68.4 515.4,62.6 515.7,56.9 515.9,51.5 516.2,46.4 516.4,41.7 516.7,37.5 516.9,33.8 517.2,30.8 517.4,28.3 517.7,26.6 517.9,25.5 518.2,25.1 518.4,25.5 518.7,26.6 518.9,28.3 519.2,30.8 519.4,33.8 519.7,37.5 519.9,41.7 520.1,46.4 520.4,51.5 520.6,56.9 520.9,62.6 521.1,68.4 521.4,74.3 521.6,80.3 521.9,86.1 522.1,91.8 522.4,97.2 522.6,102.3 522.9,107.0 523.1,111.2 523.4,114.9 523.6,117.9 523.9,120.4 524.1,122.1 524.4,123.2 524.6,123.6 524.9,123.2 525.1,122.1 525.4,120.4 525.6,117.9 525.9,114.9 526.1,111.2 526.4,107.0 526.6,102.3 526.9,97.2 527.1,91.8 527.4,86.1 527.6,80.3 527.9,74.3 528.1,68.4 528.4,62.6 528.6,56.9 528.9,51.5 529.1,46.4 529.4,41.7 529.6,37.5 529.9,33.8 530.1,30.8 530.4,28.3 530.6,26.6 530.9,25.5 531.1,25.1 531.3,25.5 531.6,26.6 531.8,28.3 532.1,30.8 532.3,33.8 532.6,37.5 532.8,41.7 533.1,46.4 533.3,51.5 533.6,56.9 533.8,62.6 534.1,68.4 534.3,74.3 534.6,80.3 534.8,86.1 535.1,91.8 535.3,97.2 535.6,102.3 535.8,107.0 536.1,111.2 536.3,114.9 536.6,117.9 536.8,120.4 537.1,122.1 537.3,123.2 537.6,123.6 537.8,123.2 538.1,122.1 538.3,120.4 538.6,117.9 538.8,114.9 539.1,111.2 539.3,107.0 539.6,102.3 539.8,97.2 540.1,91.8 540.3,86.1 540.6,80.3 540.8,74.3 541.1,68.4 541.3,62.6 541.6,56.9 541.8,51.5 542.1,46.4 542.3,41.7 542.5,37.5 542.8,33.8 543.0,30.8 543.3,28.3 543.5,26.6 543.8,25.5 544.0,25.1 544.3,25.5 544.5,26.6 544.8,28.3 545.0,30.8 545.3,33.8 545.5,37.5 545.8,41.7 546.0,46.4 546.3,51.5 546.5,56.9 546.8,62.6 547.0,68.4 547.3,74.4 547.5,80.3 547.8,86.1 548.0,91.8 548.3,97.2 548.5,102.3 548.8,107.0 549.0,111.2 549.3,114.9 549.5,117.9 549.8,120.4 550.0,122.1 550.3,123.2 550.5,123.6 550.8,123.2 551.0,122.1 551.3,120.4 551.5,117.9 551.8,114.9 552.0,111.2 552.3,107.0 552.5,102.3 552.8,97.2 553.0,91.8 553.3,86.1 553.5,80.3 553.7,74.3 554.0,68.4 554.2,62.6 554.5,56.9 554.7,51.5 555.0,46.4 555.2,41.7 555.5,37.5 555.7,33.8 556.0,30.8 556.2,28.3 556.5,26.6 556.7,25.5 557.0,25.1 557.2,25.5 557.5,26.6 557.7,28.3 558.0,30.8 558.2,33.8 558.5,37.5 558.7,41.7 559.0,46.4 559.2,51.5 559.5,56.9 559.7,62.6 560.0,68.4 560.2,74.4 560.5,80.3 560.7,86.1 561.0,91.8 561.2,97.2 561.5,102.3 561.7,107.0 562.0,111.2 562.2,114.9 562.5,117.9 562.7,120.4 563.0,122.1 563.2,123.2 563.5,123.6 563.7,123.2 564.0,122.1 564.2,120.4 564.5,117.9 564.7,114.9 564.9,111.2 565.2,107.0 565.4,102.3 565.7,97.2 565.9,91.8 566.2,86.1 566.4,80.3 566.7,74.4 566.9,68.4 567.2,62.6 567.4,56.9 567.7,51.5 567.9,46.4 568.2,41.7 568.4,37.5 568.7,33.8 568.9,30.8 569.2,28.3 569.4,26.6 569.7,25.5 569.9,25.1 570.2,25.5 570.4,26.6 570.7,28.3 570.9,30.8 571.2,33.8 571.4,37.5 571.7,41.7 571.9,46.4 572.2,51.5 572.4,56.9 572.7,62.6 572.9,68.4 573.2,74.4 573.4,80.3 573.7,86.1 573.9,91.8 574.2,97.2 574.4,102.3 574.7,107.0 574.9,111.2 575.2,114.9 575.4,117.9 575.7,120.4 575.9,122.1 576.1,123.2 576.4,123.6 576.6,123.2 576.9,122.1 577.1,120.4 577.4,117.9 577.6,114.9 577.9,111.2 578.1,107.0 578.4,102.3 578.6,97.2 578.9,91.8 579.1,86.1 579.4,80.3 579.6,74.3 579.9,68.4 580.1,62.6 580.4,56.9 580.6,51.5 580.9,46.4 581.1,41.7 581.4,37.5 581.6,33.8 581.9,30.8 582.1,28.3 582.4,26.6 582.6,25.5 582.9,25.1 583.1,25.5 583.4,26.6 583.6,28.3 583.9,30.8 584.1,33.8 584.4,37.5 584.6,41.7 584.9,46.4 585.1,51.5 585.4,56.9 585.6,62.6 585.9,68.4 586.1,74.3 586.4,80.3 586.6,86.1 586.9,91.8 587.1,97.2 587.3,102.3 587.6,107.0 587.8,111.2 588.1,114.9 588.3,117.9 588.6,120.4 588.8,122.1 589.1,123.2 589.3,123.6 589.6,123.2 589.8,122.1 590.1,120.4 590.3,117.9 590.6,114.9 590.8,111.2 591.1,107.0 591.3,102.3 591.6,97.2 591.8,91.8 592.1,86.1 592.3,80.3 592.6,74.4 592.8,68.4 593.1,62.6 593.3,56.9 593.6,51.5 593.8,46.4 594.1,41.7 594.3,37.5 594.6,33.8 594.8,30.8 595.1,28.3 595.3,26.6 595.6,25.5 595.8,25.1 596.1,25.5 596.3,26.6 596.6,28.3 596.8,30.8 597.1,33.8 597.3,37.5 597.6,41.7 597.8,46.4 598.1,51.5 598.3,56.9 598.6,62.6 598.8,68.4 599.0,74.4 599.3,80.3 599.5,86.1 599.8,91.8 600.0,97.2 600.3,102.3 600.5,107.0 600.8,111.2 601.0,114.9 601.3,117.9 601.5,120.4 601.8,122.1 602.0,123.2 602.3,123.6 602.5,123.2 602.8,122.1 603.0,120.4 603.3,117.9 603.5,114.9 603.8,111.2 604.0,107.0 604.3,102.3 604.5,97.2 604.8,91.8 605.0,86.1 605.3,80.3 605.5,74.3 605.8,68.4 606.0,62.6 606.3,56.9 606.5,51.5 606.8,46.4 607.0,41.7 607.3,37.5 607.5,33.8 607.8,30.8 608.0,28.3 608.3,26.6 608.5,25.5 608.8,25.1 609.0,25.5 609.3,26.6 609.5,28.3 609.8,30.8 610.0,33.8 610.2,37.5 610.5,41.7 610.7,46.4 611.0,51.5 611.2,56.9 611.5,62.6 611.7,68.4 612.0,74.4 612.2,80.3 612.5,86.1 612.7,91.8 613.0,97.2 613.2,102.3 613.5,107.0 613.7,111.2 614.0,114.9 614.2,117.9 614.5,120.4 614.7,122.1 615.0,123.2 615.2,123.6 615.5,123.2 615.7,122.1 616.0,120.4 616.2,117.9 616.5,114.9 616.7,111.2 617.0,107.0 617.2,102.3 617.5,97.2 617.7,91.8 618.0,86.1 618.2,80.3 618.5,74.4 618.7,68.4 619.0,62.6 619.2,56.9 619.5,51.5 619.7,46.4 620.0,41.7 620.2,37.5 620.5,33.8 620.7,30.8 621.0,28.3 621.2,26.6 621.4,25.5 621.7,25.1 621.9,25.5 622.2,26.6 622.4,28.3 622.7,30.8 622.9,33.8 623.2,37.5 623.4,41.7 623.7,46.4 623.9,51.5 624.2,56.9 624.4,62.6 624.7,68.4 624.9,74.3 625.2,80.3 625.4,86.1 625.7,91.8 625.9,97.2 626.2,102.3 626.4,107.0 626.7,111.2 626.9,114.9 627.2,117.9 627.4,120.4 627.7,122.1 627.9,123.2 628.2,123.6 628.4,123.2 628.7,122.1 628.9,120.4 629.2,117.9 629.4,114.9 629.7,111.2 629.9,107.0 630.2,102.3 630.4,97.2 630.7,91.8 630.9,86.1 631.2,80.3 631.4,74.3 631.7,68.4 631.9,62.6 632.2,56.9 632.4,51.5 632.6,46.4 632.9,41.7 633.1,37.5 633.4,33.8 633.6,30.8 633.9,28.3 634.1,26.6 634.4,25.5 634.6,25.1 634.9,25.5 635.1,26.6 635.4,28.3 635.6,30.8 635.9,33.8 636.1,37.5 636.4,41.7 636.6,46.4 636.9,51.5 637.1,56.9 637.4,62.6 637.6,68.4 637.9,74.4 638.1,80.3 638.4,86.1 638.6,91.8 638.9,97.2 639.1,102.3 639.4,107.0 639.6,111.2 639.9,114.9 640.1,117.9 640.4,120.4 640.6,122.1 640.9,123.2 641.1,123.6 641.4,123.2 641.6,122.1 641.9,120.4 642.1,117.9 642.4,114.9 642.6,111.2 642.9,107.0 643.1,102.3 643.4,97.2 643.6,91.8 643.8,86.1 644.1,80.3 644.3,74.3 644.6,68.4 644.8,62.6 645.1,56.9 645.3,51.5 645.6,46.4 645.8,41.7 646.1,37.5 646.3,33.8 646.6,30.8 646.8,28.3 647.1,26.6 647.3,25.5 647.6,25.1 647.8,25.5 648.1,26.6 648.3,28.3 648.6,30.8 648.8,33.8 649.1,37.5 649.3,41.7 649.6,46.4 649.8,51.5 650.1,56.9 650.3,62.6 650.6,68.4 650.8,74.3 651.1,80.3 651.3,86.1 651.6,91.8 651.8,97.2 652.1,102.3 652.3,107.0 652.6,111.2 652.8,114.9 653.1,117.9 653.3,120.4 653.6,122.1 653.8,123.2 654.1,123.6 654.3,123.2 654.6,122.1 654.8,120.4 655.0,117.9 655.3,114.9 655.5,111.2 655.8,107.0 656.0,102.3 656.3,97.2 656.5,91.8 656.8,86.1 657.0,80.3 657.3,74.4 657.5,68.4 657.8,62.6 658.0,56.9 658.3,51.5 658.5,46.4 658.8,41.7 659.0,37.5 659.3,33.8 659.5,30.8 659.8,28.3 660.0,26.6 660.3,25.5 660.5,25.1 660.8,25.5 661.0,26.6 661.3,28.3 661.5,30.8 661.8,33.8 662.0,37.5 662.3,41.7 662.5,46.4 662.8,51.5 663.0,56.9 663.3,62.6 663.5,68.4 663.8,74.3 664.0,80.3 664.3,86.1 664.5,91.8 664.8,97.2 665.0,102.3 665.3,107.0 665.5,111.2 665.8,114.9 666.0,117.9 666.3,120.4 666.5,122.1 666.7,123.2 667.0,123.6 667.2,123.2 667.5,122.1 667.7,120.4 668.0,117.9 668.2,114.9 668.5,111.2 668.7,107.0 669.0,102.3 669.2,97.2 669.5,91.8 669.7,86.1 670.0,80.3 670.2,74.3 670.5,68.4 670.7,62.6 671.0,56.9 671.2,51.5 671.5,46.4 671.7,41.7 672.0,37.5 672.2,33.8 672.5,30.8 672.7,28.3 673.0,26.6 673.2,25.5 673.5,25.1 673.7,25.5 674.0,26.6 674.2,28.3 674.5,30.8 674.7,33.8 675.0,37.5 675.2,41.7 675.5,46.4 675.7,51.5 676.0,56.9 676.2,62.6 676.5,68.4 676.7,74.4 677.0,80.3 677.2,86.1 677.5,91.8 677.7,97.2 677.9,102.3 678.2,107.0 678.4,111.2 678.7,114.9 678.9,117.9 679.2,120.4 679.4,122.1 679.7,123.2 679.9,123.6 680.2,123.2 680.4,122.1 680.7,120.4 680.9,117.9 681.2,114.9 681.4,111.2 681.7,107.0 681.9,102.3 682.2,97.2 682.4,91.8 682.7,86.1 682.9,80.3 683.2,74.3" fill="none" stroke="#FFF900" stroke-width="1.75" stroke-linejoin="round"/><polyline points="36.0,117.0 36.3,119.6 36.5,121.6 36.8,122.9 37.0,123.5 37.3,123.4 37.5,122.6 37.8,121.0 38.0,118.8 38.3,115.9 38.5,112.5 38.8,108.4 39.0,103.9 39.3,99.0 39.5,93.6 39.8,88.0 40.0,82.2 40.3,76.3 40.5,70.4 40.8,64.5 41.0,58.8 41.3,53.3 41.5,48.0 41.8,43.2 42.0,38.9 42.3,35.0 42.5,31.7 42.8,29.1 43.0,27.1 43.3,25.8 43.5,25.2 43.8,25.3 44.0,26.1 44.3,27.7 44.5,29.9 44.8,32.8 45.0,36.2 45.3,40.3 45.5,44.8 45.8,49.7 46.0,55.1 46.2,60.7 46.5,66.5 46.7,72.4 47.0,78.3 47.2,84.2 47.5,89.9 47.7,95.4 48.0,100.7 48.2,105.5 48.5,109.8 48.7,113.7 49.0,117.0 49.2,119.6 49.5,121.6 49.7,122.9 50.0,123.5 50.2,123.4 50.5,122.6 50.7,121.0 51.0,118.8 51.2,115.9 51.5,112.5 51.7,108.4 52.0,103.9 52.2,99.0 52.5,93.6 52.7,88.0 53.0,82.2 53.2,76.3 53.5,70.4 53.7,64.5 54.0,58.8 54.2,53.3 54.5,48.0 54.7,43.2 55.0,38.9 55.2,35.0 55.5,31.7 55.7,29.1 56.0,27.1 56.2,25.8 56.5,25.2 56.7,25.3 57.0,26.1 57.2,27.7 57.5,29.9 57.7,32.8 57.9,36.2 58.2,40.3 58.4,44.8 58.7,49.7 58.9,55.1 59.2,60.7 59.4,66.5 59.7,72.4 59.9,78.3 60.2,84.2 60.4,89.9 60.7,95.4 60.9,100.7 61.2,105.5 61.4,109.8 61.7,113.7 61.9,117.0 62.2,119.6 62.4,121.6 62.7,122.9 62.9,123.5 63.2,123.4 63.4,122.6 63.7,121.0 63.9,118.8 64.2,115.9 64.4,112.5 64.7,108.4 64.9,103.9 65.2,99.0 65.4,93.6 65.7,88.0 65.9,82.2 66.2,76.3 66.4,70.4 66.7,64.5 66.9,58.8 67.2,53.3 67.4,48.0 67.7,43.2 67.9,38.9 68.2,35.0 68.4,31.7 68.7,29.1 68.9,27.1 69.1,25.8 69.4,25.2 69.6,25.3 69.9,26.1 70.1,27.7 70.4,29.9 70.6,32.8 70.9,36.2 71.1,40.3 71.4,44.8 71.6,49.7 71.9,55.1 72.1,60.7 72.4,66.5 72.6,72.4 72.9,78.3 73.1,84.2 73.4,89.9 73.6,95.4 73.9,100.7 74.1,105.5 74.4,109.8 74.6,113.7 74.9,117.0 75.1,119.6 75.4,121.6 75.6,122.9 75.9,123.5 76.1,123.4 76.4,122.6 76.6,121.0 76.9,118.8 77.1,115.9 77.4,112.5 77.6,108.4 77.9,103.9 78.1,99.0 78.4,93.6 78.6,88.0 78.9,82.2 79.1,76.3 79.4,70.4 79.6,64.5 79.9,58.8 80.1,53.3 80.3,48.0 80.6,43.2 80.8,38.9 81.1,35.0 81.3,31.7 81.6,29.1 81.8,27.1 82.1,25.8 82.3,25.2 82.6,25.3 82.8,26.1 83.1,27.7 83.3,29.9 83.6,32.8 83.8,36.2 84.1,40.3 84.3,44.8 84.6,49.7 84.8,55.1 85.1,60.7 85.3,66.5 85.6,72.4 85.8,78.3 86.1,84.2 86.3,89.9 86.6,95.4 86.8,100.7 87.1,105.5 87.3,109.8 87.6,113.7 87.8,117.0 88.1,119.6 88.3,121.6 88.6,122.9 88.8,123.5 89.1,123.4 89.3,122.6 89.6,121.0 89.8,118.8 90.1,115.9 90.3,112.5 90.6,108.4 90.8,103.9 91.1,99.0 91.3,93.6 91.5,88.0 91.8,82.2 92.0,76.3 92.3,70.4 92.5,64.5 92.8,58.8 93.0,53.3 93.3,48.0 93.5,43.2 93.8,38.9 94.0,35.0 94.3,31.7 94.5,29.1 94.8,27.1 95.0,25.8 95.3,25.2 95.5,25.3 95.8,26.1 96.0,27.7 96.3,29.9 96.5,32.8 96.8,36.2 97.0,40.3 97.3,44.8 97.5,49.7 97.8,55.1 98.0,60.7 98.3,66.5 98.5,72.4 98.8,78.3 99.0,84.2 99.3,89.9 99.5,95.4 99.8,100.7 100.0,105.5 100.3,109.8 100.5,113.7 100.8,117.0 101.0,119.6 101.3,121.6 101.5,122.9 101.8,123.5 102.0,123.4 102.3,122.6 102.5,121.0 102.7,118.8 103.0,115.9 103.2,112.5 103.5,108.4 103.7,103.9 104.0,99.0 104.2,93.6 104.5,88.0 104.7,82.2 105.0,76.3 105.2,70.4 105.5,64.5 105.7,58.8 106.0,53.3 106.2,48.0 106.5,43.2 106.7,38.9 107.0,35.0 107.2,31.7 107.5,29.1 107.7,27.1 108.0,25.8 108.2,25.2 108.5,25.3 108.7,26.1 109.0,27.7 109.2,29.9 109.5,32.8 109.7,36.2 110.0,40.3 110.2,44.8 110.5,49.7 110.7,55.1 111.0,60.7 111.2,66.5 111.5,72.4 111.7,78.3 112.0,84.2 112.2,89.9 112.5,95.4 112.7,100.7 113.0,105.5 113.2,109.8 113.5,113.7 113.7,117.0 113.9,119.6 114.2,121.6 114.4,122.9 114.7,123.5 114.9,123.4 115.2,122.6 115.4,121.0 115.7,118.8 115.9,115.9 116.2,112.5 116.4,108.4 116.7,103.9 116.9,99.0 117.2,93.6 117.4,88.0 117.7,82.2 117.9,76.3 118.2,70.4 118.4,64.5 118.7,58.8 118.9,53.3 119.2,48.0 119.4,43.2 119.7,38.9 119.9,35.0 120.2,31.7 120.4,29.1 120.7,27.1 120.9,25.8 121.2,25.2 121.4,25.3 121.7,26.1 121.9,27.7 122.2,29.9 122.4,32.8 122.7,36.2 122.9,40.3 123.2,44.8 123.4,49.7 123.7,55.1 123.9,60.7 124.2,66.5 124.4,72.4 124.7,78.3 124.9,84.2 125.1,89.9 125.4,95.4 125.6,100.7 125.9,105.5 126.1,109.8 126.4,113.7 126.6,117.0 126.9,119.6 127.1,121.6 127.4,122.9 127.6,123.5 127.9,123.4 128.1,122.6 128.4,121.0 128.6,118.8 128.9,115.9 129.1,112.5 129.4,108.4 129.6,103.9 129.9,99.0 130.1,93.6 130.4,88.0 130.6,82.2 130.9,76.3 131.1,70.4 131.4,64.5 131.6,58.8 131.9,53.3 132.1,48.0 132.4,43.2 132.6,38.9 132.9,35.0 133.1,31.7 133.4,29.1 133.6,27.1 133.9,25.8 134.1,25.2 134.4,25.3 134.6,26.1 134.9,27.7 135.1,29.9 135.4,32.8 135.6,36.2 135.9,40.3 136.1,44.8 136.4,49.7 136.6,55.1 136.8,60.7 137.1,66.5 137.3,72.4 137.6,78.3 137.8,84.2 138.1,89.9 138.3,95.4 138.6,100.7 138.8,105.5 139.1,109.8 139.3,113.7 139.6,117.0 139.8,119.6 140.1,121.6 140.3,122.9 140.6,123.5 140.8,123.4 141.1,122.6 141.3,121.0 141.6,118.8 141.8,115.9 142.1,112.5 142.3,108.4 142.6,103.9 142.8,99.0 143.1,93.6 143.3,88.0 143.6,82.2 143.8,76.3 144.1,70.4 144.3,64.5 144.6,58.8 144.8,53.3 145.1,48.0 145.3,43.2 145.6,38.9 145.8,35.0 146.1,31.7 146.3,29.1 146.6,27.1 146.8,25.8 147.1,25.2 147.3,25.3 147.6,26.1 147.8,27.7 148.0,29.9 148.3,32.8 148.5,36.2 148.8,40.3 149.0,44.8 149.3,49.7 149.5,55.1 149.8,60.7 150.0,66.5 150.3,72.4 150.5,78.3 150.8,84.2 151.0,89.9 151.3,95.4 151.5,100.7 151.8,105.5 152.0,109.8 152.3,113.7 152.5,117.0 152.8,119.6 153.0,121.6 153.3,122.9 153.5,123.5 153.8,123.4 154.0,122.6 154.3,121.0 154.5,118.8 154.8,115.9 155.0,112.5 155.3,108.4 155.5,103.9 155.8,99.0 156.0,93.6 156.3,88.0 156.5,82.2 156.8,76.3 157.0,70.4 157.3,64.5 157.5,58.8 157.8,53.3 158.0,48.0 158.3,43.2 158.5,38.9 158.8,35.0 159.0,31.7 159.2,29.1 159.5,27.1 159.7,25.8 160.0,25.2 160.2,25.3 160.5,26.1 160.7,27.7 161.0,29.9 161.2,32.8 161.5,36.2 161.7,40.3 162.0,44.8 162.2,49.7 162.5,55.1 162.7,60.7 163.0,66.5 163.2,72.4 163.5,78.3 163.7,84.2 164.0,89.9 164.2,95.4 164.5,100.7 164.7,105.5 165.0,109.8 165.2,113.7 165.5,117.0 165.7,119.6 166.0,121.6 166.2,122.9 166.5,123.5 166.7,123.4 167.0,122.6 167.2,121.0 167.5,118.8 167.7,115.9 168.0,112.5 168.2,108.4 168.5,103.9 168.7,99.0 169.0,93.6 169.2,88.0 169.5,82.2 169.7,76.3 170.0,70.4 170.2,64.5 170.4,58.8 170.7,53.3 170.9,48.0 171.2,43.2 171.4,38.9 171.7,35.0 171.9,31.7 172.2,29.1 172.4,27.1 172.7,25.8 172.9,25.2 173.2,25.3 173.4,26.1 173.7,27.7 173.9,29.9 174.2,32.8 174.4,36.2 174.7,40.3 174.9,44.8 175.2,49.7 175.4,55.1 175.7,60.7 175.9,66.5 176.2,72.4 176.4,78.3 176.7,84.2 176.9,89.9 177.2,95.4 177.4,100.7 177.7,105.5 177.9,109.8 178.2,113.7 178.4,117.0 178.7,119.6 178.9,121.6 179.2,122.9 179.4,123.5 179.7,123.4 179.9,122.6 180.2,121.0 180.4,118.8 180.7,115.9 180.9,112.5 181.2,108.4 181.4,103.9 181.6,99.0 181.9,93.6 182.1,88.0 182.4,82.2 182.6,76.3 182.9,70.4 183.1,64.5 183.4,58.8 183.6,53.3 183.9,48.0 184.1,43.2 184.4,38.9 184.6,35.0 184.9,31.7 185.1,29.1 185.4,27.1 185.6,25.8 185.9,25.2 186.1,25.3 186.4,26.1 186.6,27.7 186.9,29.9 187.1,32.8 187.4,36.2 187.6,40.3 187.9,44.8 188.1,49.7 188.4,55.1 188.6,60.7 188.9,66.5 189.1,72.4 189.4,78.3 189.6,84.2 189.9,89.9 190.1,95.4 190.4,100.7 190.6,105.5 190.9,109.8 191.1,113.7 191.4,117.0 191.6,119.6 191.9,121.6 192.1,122.9 192.4,123.5 192.6,123.4 192.8,122.6 193.1,121.0 193.3,118.8 193.6,115.9 193.8,112.5 194.1,108.4 194.3,103.9 194.6,99.0 194.8,93.6 195.1,88.0 195.3,82.2 195.6,76.3 195.8,70.4 196.1,64.5 196.3,58.8 196.6,53.3 196.8,48.0 197.1,43.2 197.3,38.9 197.6,35.0 197.8,31.7 198.1,29.1 198.3,27.1 198.6,25.8 198.8,25.2 199.1,25.3 199.3,26.1 199.6,27.7 199.8,29.9 200.1,32.8 200.3,36.2 200.6,40.3 200.8,44.8 201.1,49.7 201.3,55.1 201.6,60.7 201.8,66.5 202.1,72.4 202.3,78.3 202.6,84.2 202.8,89.9 203.1,95.4 203.3,100.7 203.6,105.5 203.8,109.8 204.0,113.7 204.3,117.0 204.5,119.6 204.8,121.6 205.0,122.9 205.3,123.5 205.5,123.4 205.8,122.6 206.0,121.0 206.3,118.8 206.5,115.9 206.8,112.5 207.0,108.4 207.3,103.9 207.5,99.0 207.8,93.6 208.0,88.0 208.3,82.2 208.5,76.3 208.8,70.4 209.0,64.5 209.3,58.8 209.5,53.3 209.8,48.0 210.0,43.2 210.3,38.9 210.5,35.0 210.8,31.7 211.0,29.1 211.3,27.1 211.5,25.8 211.8,25.2 212.0,25.3 212.3,26.1 212.5,27.7 212.8,29.9 213.0,32.8 213.3,36.2 213.5,40.3 213.8,44.8 214.0,49.7 214.3,55.1 214.5,60.7 214.8,66.5 215.0,72.4 215.3,78.3 215.5,84.2 215.7,89.9 216.0,95.4 216.2,100.7 216.5,105.5 216.7,109.8 217.0,113.7 217.2,117.0 217.5,119.6 217.7,121.6 218.0,122.9 218.2,123.5 218.5,123.4 218.7,122.6 219.0,121.0 219.2,118.8 219.5,115.9 219.7,112.5 220.0,108.4 220.2,103.9 220.5,99.0 220.7,93.6 221.0,88.0 221.2,82.2 221.5,76.3 221.7,70.4 222.0,64.5 222.2,58.8 222.5,53.3 222.7,48.0 223.0,43.2 223.2,38.9 223.5,35.0 223.7,31.7 224.0,29.1 224.2,27.1 224.5,25.8 224.7,25.2 225.0,25.3 225.2,26.1 225.5,27.7 225.7,29.9 226.0,32.8 226.2,36.2 226.5,40.3 226.7,44.8 226.9,49.7 227.2,55.1 227.4,60.7 227.7,66.5 227.9,72.4 228.2,78.3 228.4,84.2 228.7,89.9 228.9,95.4 229.2,100.7 229.4,105.5 229.7,109.8 229.9,113.7 230.2,117.0 230.4,119.6 230.7,121.6 230.9,122.9 231.2,123.5 231.4,123.4 231.7,122.6 231.9,121.0 232.2,118.8 232.4,115.9 232.7,112.5 232.9,108.4 233.2,103.9 233.4,99.0 233.7,93.6 233.9,88.0 234.2,82.2 234.4,76.3 234.7,70.4 234.9,64.5 235.2,58.8 235.4,53.3 235.7,48.0 235.9,43.2 236.2,38.9 236.4,35.0 236.7,31.7 236.9,29.1 237.2,27.1 237.4,25.8 237.7,25.2 237.9,25.3 238.1,26.1 238.4,27.7 238.6,29.9 238.9,32.8 239.1,36.2 239.4,40.3 239.6,44.8 239.9,49.7 240.1,55.1 240.4,60.7 240.6,66.5 240.9,72.4 241.1,78.3 241.4,84.2 241.6,89.9 241.9,95.4 242.1,100.7 242.4,105.5 242.6,109.8 242.9,113.7 243.1,117.0 243.4,119.6 243.6,121.6 243.9,122.9 244.1,123.5 244.4,123.4 244.6,122.6 244.9,121.0 245.1,118.8 245.4,115.9 245.6,112.5 245.9,108.4 246.1,103.9 246.4,99.0 246.6,93.6 246.9,88.0 247.1,82.2 247.4,76.3 247.6,70.4 247.9,64.5 248.1,58.8 248.4,53.3 248.6,48.0 248.9,43.2 249.1,38.9 249.3,35.0 249.6,31.7 249.8,29.1 250.1,27.1 250.3,25.8 250.6,25.2 250.8,25.3 251.1,26.1 251.3,27.7 251.6,29.9 251.8,32.8 252.1,36.2 252.3,40.3 252.6,44.8 252.8,49.7 253.1,55.1 253.3,60.7 253.6,66.5 253.8,72.4 254.1,78.3 254.3,84.2 254.6,89.9 254.8,95.4 255.1,100.7 255.3,105.5 255.6,109.8 255.8,113.7 256.1,117.0 256.3,119.6 256.6,121.6 256.8,122.9 257.1,123.5 257.3,123.4 257.6,122.6 257.8,121.0 258.1,118.8 258.3,115.9 258.6,112.5 258.8,108.4 259.1,103.9 259.3,99.0 259.6,93.6 259.8,88.0 260.1,82.2 260.3,76.3 260.5,70.4 260.8,64.5 261.0,58.8 261.3,53.3 261.5,48.0 261.8,43.2 262.0,38.9 262.3,35.0 262.5,31.7 262.8,29.1 263.0,27.1 263.3,25.8 263.5,25.2 263.8,25.3 264.0,26.1 264.3,27.7 264.5,29.9 264.8,32.8 265.0,36.2 265.3,40.3 265.5,44.8 265.8,49.7 266.0,55.1 266.3,60.7 266.5,66.5 266.8,72.4 267.0,78.3 267.3,84.2 267.5,89.9 267.8,95.4 268.0,100.7 268.3,105.5 268.5,109.8 268.8,113.7 269.0,117.0 269.3,119.6 269.5,121.6 269.8,122.9 270.0,123.5 270.3,123.4 270.5,122.6 270.8,121.0 271.0,118.8 271.3,115.9 271.5,112.5 271.7,108.4 272.0,103.9 272.2,99.0 272.5,93.6 272.7,88.0 273.0,82.2 273.2,76.3 273.5,70.4 273.7,64.5 274.0,58.8 274.2,53.3 274.5,48.0 274.7,43.2 275.0,38.9 275.2,35.0 275.5,31.7 275.7,29.1 276.0,27.1 276.2,25.8 276.5,25.2 276.7,25.3 277.0,26.1 277.2,27.7 277.5,29.9 277.7,32.8 278.0,36.2 278.2,40.3 278.5,44.8 278.7,49.7 279.0,55.1 279.2,60.7 279.5,66.5 279.7,72.4 280.0,78.3 280.2,84.2 280.5,89.9 280.7,95.4 281.0,100.7 281.2,105.5 281.5,109.8 281.7,113.7 282.0,117.0 282.2,119.6 282.5,121.6 282.7,122.9 282.9,123.5 283.2,123.4 283.4,122.6 283.7,121.0 283.9,118.8 284.2,115.9 284.4,112.5 284.7,108.4 284.9,103.9 285.2,99.0 285.4,93.6 285.7,88.0 285.9,82.2 286.2,76.3 286.4,70.4 286.7,64.5 286.9,58.8 287.2,53.3 287.4,48.0 287.7,43.2 287.9,38.9 288.2,35.0 288.4,31.7 288.7,29.1 288.9,27.1 289.2,25.8 289.4,25.2 289.7,25.3 289.9,26.1 290.2,27.7 290.4,29.9 290.7,32.8 290.9,36.2 291.2,40.3 291.4,44.8 291.7,49.7 291.9,55.1 292.2,60.7 292.4,66.5 292.7,72.4 292.9,78.3 293.2,84.2 293.4,89.9 293.7,95.4 293.9,100.7 294.2,105.5 294.4,109.8 294.6,113.7 294.9,117.0 295.1,119.6 295.4,121.6 295.6,122.9 295.9,123.5 296.1,123.4 296.4,122.6 296.6,121.0 296.9,118.8 297.1,115.9 297.4,112.5 297.6,108.4 297.9,103.9 298.1,99.0 298.4,93.6 298.6,88.0 298.9,82.2 299.1,76.3 299.4,70.4 299.6,64.5 299.9,58.8 300.1,53.3 300.4,48.0 300.6,43.2 300.9,38.9 301.1,35.0 301.4,31.7 301.6,29.1 301.9,27.1 302.1,25.8 302.4,25.2 302.6,25.3 302.9,26.1 303.1,27.7 303.4,29.9 303.6,32.8 303.9,36.2 304.1,40.3 304.4,44.8 304.6,49.7 304.9,55.1 305.1,60.7 305.4,66.5 305.6,72.4 305.8,78.3 306.1,84.2 306.3,89.9 306.6,95.4 306.8,100.7 307.1,105.5 307.3,109.8 307.6,113.7 307.8,117.0 308.1,119.6 308.3,121.6 308.6,122.9 308.8,123.5 309.1,123.4 309.3,122.6 309.6,121.0 309.8,118.8 310.1,115.9 310.3,112.5 310.6,108.4 310.8,103.9 311.1,99.0 311.3,93.6 311.6,88.0 311.8,82.2 312.1,76.3 312.3,70.4 312.6,64.5 312.8,58.8 313.1,53.3 313.3,48.0 313.6,43.2 313.8,38.9 314.1,35.0 314.3,31.7 314.6,29.1 314.8,27.1 315.1,25.8 315.3,25.2 315.6,25.3 315.8,26.1 316.1,27.7 316.3,29.9 316.6,32.8 316.8,36.2 317.0,40.3 317.3,44.8 317.5,49.7 317.8,55.1 318.0,60.7 318.3,66.5 318.5,72.4 318.8,78.3 319.0,84.2 319.3,89.9 319.5,95.4 319.8,100.7 320.0,105.5 320.3,109.8 320.5,113.7 320.8,117.0 321.0,119.6 321.3,121.6 321.5,122.9 321.8,123.5 322.0,123.4 322.3,122.6 322.5,121.0 322.8,118.8 323.0,115.9 323.3,112.5 323.5,108.4 323.8,103.9 324.0,99.0 324.3,93.6 324.5,88.0 324.8,82.2 325.0,76.3 325.3,70.4 325.5,64.5 325.8,58.8 326.0,53.3 326.3,48.0 326.5,43.2 326.8,38.9 327.0,35.0 327.3,31.7 327.5,29.1 327.8,27.1 328.0,25.8 328.2,25.2 328.5,25.3 328.7,26.1 329.0,27.7 329.2,29.9 329.5,32.8 329.7,36.2 330.0,40.3 330.2,44.8 330.5,49.7 330.7,55.1 331.0,60.7 331.2,66.5 331.5,72.4 331.7,78.3 332.0,84.2 332.2,89.9 332.5,95.4 332.7,100.7 333.0,105.5 333.2,109.8 333.5,113.7 333.7,117.0 334.0,119.6 334.2,121.6 334.5,122.9 334.7,123.5 335.0,123.4 335.2,122.6 335.5,121.0 335.7,118.8 336.0,115.9 336.2,112.5 336.5,108.4 336.7,103.9 337.0,99.0 337.2,93.6 337.5,88.0 337.7,82.2 338.0,76.3 338.2,70.4 338.5,64.5 338.7,58.8 339.0,53.3 339.2,48.0 339.4,43.2 339.7,38.9 339.9,35.0 340.2,31.7 340.4,29.1 340.7,27.1 340.9,25.8 341.2,25.2 341.4,25.3 341.7,26.1 341.9,27.7 342.2,29.9 342.4,32.8 342.7,36.2 342.9,40.3 343.2,44.8 343.4,49.7 343.7,55.1 343.9,60.7 344.2,66.5 344.4,72.4 344.7,78.3 344.9,84.2 345.2,89.9 345.4,95.4 345.7,100.7 345.9,105.5 346.2,109.8 346.4,113.7 346.7,117.0 346.9,119.6 347.2,121.6 347.4,122.9 347.7,123.5 347.9,123.4 348.2,122.6 348.4,121.0 348.7,118.8 348.9,115.9 349.2,112.5 349.4,108.4 349.7,103.9 349.9,99.0 350.2,93.6 350.4,88.0 350.6,82.2 350.9,76.3 351.1,70.4 351.4,64.5 351.6,58.8 351.9,53.3 352.1,48.0 352.4,43.2 352.6,38.9 352.9,35.0 353.1,31.7 353.4,29.1 353.6,27.1 353.9,25.8 354.1,25.2 354.4,25.3 354.6,26.1 354.9,27.7 355.1,29.9 355.4,32.8 355.6,36.2 355.9,40.3 356.1,44.8 356.4,49.7 356.6,55.1 356.9,60.7 357.1,66.5 357.4,72.4 357.6,78.3 357.9,84.2 358.1,89.9 358.4,95.4 358.6,100.7 358.9,105.5 359.1,109.8 359.4,113.7 359.6,117.0 359.9,119.6 360.1,121.6 360.4,122.9 360.6,123.5 360.9,123.4 361.1,122.6 361.4,121.0 361.6,118.8 361.9,115.9 362.1,112.5 362.3,108.4 362.6,103.9 362.8,99.0 363.1,93.6 363.3,88.0 363.6,82.2 363.8,76.3 364.1,70.4 364.3,64.5 364.6,58.8 364.8,53.3 365.1,48.0 365.3,43.2 365.6,38.9 365.8,35.0 366.1,31.7 366.3,29.1 366.6,27.1 366.8,25.8 367.1,25.2 367.3,25.3 367.6,26.1 367.8,27.7 368.1,29.9 368.3,32.8 368.6,36.2 368.8,40.3 369.1,44.8 369.3,49.7 369.6,55.1 369.8,60.7 370.1,66.5 370.3,72.4 370.6,78.3 370.8,84.2 371.1,89.9 371.3,95.4 371.6,100.7 371.8,105.5 372.1,109.8 372.3,113.7 372.6,117.0 372.8,119.6 373.1,121.6 373.3,122.9 373.5,123.5 373.8,123.4 374.0,122.6 374.3,121.0 374.5,118.8 374.8,115.9 375.0,112.5 375.3,108.4 375.5,103.9 375.8,99.0 376.0,93.6 376.3,88.0 376.5,82.2 376.8,76.3 377.0,70.4 377.3,64.5 377.5,58.8 377.8,53.3 378.0,48.0 378.3,43.2 378.5,38.9 378.8,35.0 379.0,31.7 379.3,29.1 379.5,27.1 379.8,25.8 380.0,25.2 380.3,25.3 380.5,26.1 380.8,27.7 381.0,29.9 381.3,32.8 381.5,36.2 381.8,40.3 382.0,44.8 382.3,49.7 382.5,55.1 382.8,60.7 383.0,66.5 383.3,72.4 383.5,78.3 383.8,84.2 384.0,89.9 384.3,95.4 384.5,100.7 384.7,105.5 385.0,109.8 385.2,113.7 385.5,117.0 385.7,119.6 386.0,121.6 386.2,122.9 386.5,123.5 386.7,123.4 387.0,122.6 387.2,121.0 387.5,118.8 387.7,115.9 388.0,112.5 388.2,108.4 388.5,103.9 388.7,99.0 389.0,93.6 389.2,88.0 389.5,82.2 389.7,76.3 390.0,70.4 390.2,64.5 390.5,58.8 390.7,53.3 391.0,48.0 391.2,43.2 391.5,38.9 391.7,35.0 392.0,31.7 392.2,29.1 392.5,27.1 392.7,25.8 393.0,25.2 393.2,25.3 393.5,26.1 393.7,27.7 394.0,29.9 394.2,32.8 394.5,36.2 394.7,40.3 395.0,44.8 395.2,49.7 395.5,55.1 395.7,60.7 395.9,66.5 396.2,72.4 396.4,78.3 396.7,84.2 396.9,89.9 397.2,95.4 397.4,100.7 397.7,105.5 397.9,109.8 398.2,113.7 398.4,117.0 398.7,119.6 398.9,121.6 399.2,122.9 399.4,123.5 399.7,123.4 399.9,122.6 400.2,121.0 400.4,118.8 400.7,115.9 400.9,112.5 401.2,108.4 401.4,103.9 401.7,99.0 401.9,93.6 402.2,88.0 402.4,82.2 402.7,76.3 402.9,70.4 403.2,64.5 403.4,58.8 403.7,53.3 403.9,48.0 404.2,43.2 404.4,38.9 404.7,35.0 404.9,31.7 405.2,29.1 405.4,27.1 405.7,25.8 405.9,25.2 406.2,25.3 406.4,26.1 406.7,27.7 406.9,29.9 407.1,32.8 407.4,36.2 407.6,40.3 407.9,44.8 408.1,49.7 408.4,55.1 408.6,60.7 408.9,66.5 409.1,72.4 409.4,78.3 409.6,84.2 409.9,89.9 410.1,95.4 410.4,100.7 410.6,105.5 410.9,109.8 411.1,113.7 411.4,117.0 411.6,119.6 411.9,121.6 412.1,122.9 412.4,123.5 412.6,123.4 412.9,122.6 413.1,121.0 413.4,118.8 413.6,115.9 413.9,112.5 414.1,108.4 414.4,103.9 414.6,99.0 414.9,93.6 415.1,88.0 415.4,82.2 415.6,76.3 415.9,70.4 416.1,64.5 416.4,58.8 416.6,53.3 416.9,48.0 417.1,43.2 417.4,38.9 417.6,35.0 417.9,31.7 418.1,29.1 418.3,27.1 418.6,25.8 418.8,25.2 419.1,25.3 419.3,26.1 419.6,27.7 419.8,29.9 420.1,32.8 420.3,36.2 420.6,40.3 420.8,44.8 421.1,49.7 421.3,55.1 421.6,60.7 421.8,66.5 422.1,72.4 422.3,78.3 422.6,84.2 422.8,89.9 423.1,95.4 423.3,100.7 423.6,105.5 423.8,109.8 424.1,113.7 424.3,117.0 424.6,119.6 424.8,121.6 425.1,122.9 425.3,123.5 425.6,123.4 425.8,122.6 426.1,121.0 426.3,118.8 426.6,115.9 426.8,112.5 427.1,108.4 427.3,103.9 427.6,99.0 427.8,93.6 428.1,88.0 428.3,82.2 428.6,76.3 428.8,70.4 429.1,64.5 429.3,58.8 429.5,53.3 429.8,48.0 430.0,43.2 430.3,38.9 430.5,35.0 430.8,31.7 431.0,29.1 431.3,27.1 431.5,25.8 431.8,25.2 432.0,25.3 432.3,26.1 432.5,27.7 432.8,29.9 433.0,32.8 433.3,36.2 433.5,40.3 433.8,44.8 434.0,49.7 434.3,55.1 434.5,60.7 434.8,66.5 435.0,72.4 435.3,78.3 435.5,84.2 435.8,89.9 436.0,95.4 436.3,100.7 436.5,105.5 436.8,109.8 437.0,113.7 437.3,117.0 437.5,119.6 437.8,121.6 438.0,122.9 438.3,123.5 438.5,123.4 438.8,122.6 439.0,121.0 439.3,118.8 439.5,115.9 439.8,112.5 440.0,108.4 440.3,103.9 440.5,99.0 440.8,93.6 441.0,88.0 441.2,82.2 441.5,76.3 441.7,70.4 442.0,64.5 442.2,58.8 442.5,53.3 442.7,48.0 443.0,43.2 443.2,38.9 443.5,35.0 443.7,31.7 444.0,29.1 444.2,27.1 444.5,25.8 444.7,25.2 445.0,25.3 445.2,26.1 445.5,27.7 445.7,29.9 446.0,32.8 446.2,36.2 446.5,40.3 446.7,44.8 447.0,49.7 447.2,55.1 447.5,60.7 447.7,66.5 448.0,72.4 448.2,78.3 448.5,84.2 448.7,89.9 449.0,95.4 449.2,100.7 449.5,105.5 449.7,109.8 450.0,113.7 450.2,117.0 450.5,119.6 450.7,121.6 451.0,122.9 451.2,123.5 451.5,123.4 451.7,122.6 452.0,121.0 452.2,118.8 452.4,115.9 452.7,112.5 452.9,108.4 453.2,103.9 453.4,99.0 453.7,93.6 453.9,88.0 454.2,82.2 454.4,76.3 454.7,70.4 454.9,64.5 455.2,58.8 455.4,53.3 455.7,48.0 455.9,43.2 456.2,38.9 456.4,35.0 456.7,31.7 456.9,29.1 457.2,27.1 457.4,25.8 457.7,25.2 457.9,25.3 458.2,26.1 458.4,27.7 458.7,29.9 458.9,32.8 459.2,36.2 459.4,40.3 459.7,44.8 459.9,49.7 460.2,55.1 460.4,60.7 460.7,66.5 460.9,72.4 461.2,78.3 461.4,84.2 461.7,89.9 461.9,95.4 462.2,100.7 462.4,105.5 462.7,109.8 462.9,113.7 463.2,117.0 463.4,119.6 463.6,121.6 463.9,122.9 464.1,123.5 464.4,123.4 464.6,122.6 464.9,121.0 465.1,118.8 465.4,115.9 465.6,112.5 465.9,108.4 466.1,103.9 466.4,99.0 466.6,93.6 466.9,88.0 467.1,82.2 467.4,76.3 467.6,70.4 467.9,64.5 468.1,58.8 468.4,53.3 468.6,48.0 468.9,43.2 469.1,38.9 469.4,35.0 469.6,31.7 469.9,29.1 470.1,27.1 470.4,25.8 470.6,25.2 470.9,25.3 471.1,26.1 471.4,27.7 471.6,29.9 471.9,32.8 472.1,36.2 472.4,40.3 472.6,44.8 472.9,49.7 473.1,55.1 473.4,60.7 473.6,66.5 473.9,72.4 474.1,78.3 474.4,84.2 474.6,89.9 474.8,95.4 475.1,100.7 475.3,105.5 475.6,109.8 475.8,113.7 476.1,117.0 476.3,119.6 476.6,121.6 476.8,122.9 477.1,123.5 477.3,123.4 477.6,122.6 477.8,121.0 478.1,118.8 478.3,115.9 478.6,112.5 478.8,108.4 479.1,103.9 479.3,99.0 479.6,93.6 479.8,88.0 480.1,82.2 480.3,76.3 480.6,70.4 480.8,64.5 481.1,58.8 481.3,53.3 481.6,48.0 481.8,43.2 482.1,38.9 482.3,35.0 482.6,31.7 482.8,29.1 483.1,27.1 483.3,25.8 483.6,25.2 483.8,25.3 484.1,26.1 484.3,27.7 484.6,29.9 484.8,32.8 485.1,36.2 485.3,40.3 485.6,44.8 485.8,49.7 486.0,55.1 486.3,60.7 486.5,66.5 486.8,72.4 487.0,78.3 487.3,84.2 487.5,89.9 487.8,95.4 488.0,100.7 488.3,105.5 488.5,109.8 488.8,113.7 489.0,117.0 489.3,119.6 489.5,121.6 489.8,122.9 490.0,123.5 490.3,123.4 490.5,122.6 490.8,121.0 491.0,118.8 491.3,115.9 491.5,112.5 491.8,108.4 492.0,103.9 492.3,99.0 492.5,93.6 492.8,88.0 493.0,82.2 493.3,76.3 493.5,70.4 493.8,64.5 494.0,58.8 494.3,53.3 494.5,48.0 494.8,43.2 495.0,38.9 495.3,35.0 495.5,31.7 495.8,29.1 496.0,27.1 496.3,25.8 496.5,25.2 496.8,25.3 497.0,26.1 497.2,27.7 497.5,29.9 497.7,32.8 498.0,36.2 498.2,40.3 498.5,44.8 498.7,49.7 499.0,55.1 499.2,60.7 499.5,66.5 499.7,72.4 500.0,78.3 500.2,84.2 500.5,89.9 500.7,95.4 501.0,100.7 501.2,105.5 501.5,109.8 501.7,113.7 502.0,117.0 502.2,119.6 502.5,121.6 502.7,122.9 503.0,123.5 503.2,123.4 503.5,122.6 503.7,121.0 504.0,118.8 504.2,115.9 504.5,112.5 504.7,108.4 505.0,103.9 505.2,99.0 505.5,93.6 505.7,88.0 506.0,82.2 506.2,76.3 506.5,70.4 506.7,64.5 507.0,58.8 507.2,53.3 507.5,48.0 507.7,43.2 508.0,38.9 508.2,35.0 508.4,31.7 508.7,29.1 508.9,27.1 509.2,25.8 509.4,25.2 509.7,25.3 509.9,26.1 510.2,27.7 510.4,29.9 510.7,32.8 510.9,36.2 511.2,40.3 511.4,44.8 511.7,49.7 511.9,55.1 512.2,60.7 512.4,66.5 512.7,72.4 512.9,78.3 513.2,84.2 513.4,89.9 513.7,95.4 513.9,100.7 514.2,105.5 514.4,109.8 514.7,113.7 514.9,117.0 515.2,119.6 515.4,121.6 515.7,122.9 515.9,123.5 516.2,123.4 516.4,122.6 516.7,121.0 516.9,118.8 517.2,115.9 517.4,112.5 517.7,108.4 517.9,103.9 518.2,99.0 518.4,93.6 518.7,88.0 518.9,82.2 519.2,76.3 519.4,70.4 519.7,64.5 519.9,58.8 520.1,53.3 520.4,48.0 520.6,43.2 520.9,38.9 521.1,35.0 521.4,31.7 521.6,29.1 521.9,27.1 522.1,25.8 522.4,25.2 522.6,25.3 522.9,26.1 523.1,27.7 523.4,29.9 523.6,32.8 523.9,36.2 524.1,40.3 524.4,44.8 524.6,49.7 524.9,55.1 525.1,60.7 525.4,66.5 525.6,72.4 525.9,78.3 526.1,84.2 526.4,89.9 526.6,95.4 526.9,100.7 527.1,105.5 527.4,109.8 527.6,113.7 527.9,117.0 528.1,119.6 528.4,121.6 528.6,122.9 528.9,123.5 529.1,123.4 529.4,122.6 529.6,121.0 529.9,118.8 530.1,115.9 530.4,112.5 530.6,108.4 530.9,103.9 531.1,99.0 531.3,93.6 531.6,88.0 531.8,82.2 532.1,76.3 532.3,70.4 532.6,64.5 532.8,58.8 533.1,53.3 533.3,48.0 533.6,43.2 533.8,38.9 534.1,35.0 534.3,31.7 534.6,29.1 534.8,27.1 535.1,25.8 535.3,25.2 535.6,25.3 535.8,26.1 536.1,27.7 536.3,29.9 536.6,32.8 536.8,36.2 537.1,40.3 537.3,44.8 537.6,49.7 537.8,55.1 538.1,60.7 538.3,66.5 538.6,72.4 538.8,78.3 539.1,84.2 539.3,89.9 539.6,95.4 539.8,100.7 540.1,105.5 540.3,109.8 540.6,113.7 540.8,117.0 541.1,119.6 541.3,121.6 541.6,122.9 541.8,123.5 542.1,123.4 542.3,122.6 542.5,121.0 542.8,118.8 543.0,115.9 543.3,112.5 543.5,108.4 543.8,103.9 544.0,99.0 544.3,93.6 544.5,88.0 544.8,82.2 545.0,76.3 545.3,70.4 545.5,64.5 545.8,58.8 546.0,53.3 546.3,48.0 546.5,43.2 546.8,38.9 547.0,35.0 547.3,31.7 547.5,29.1 547.8,27.1 548.0,25.8 548.3,25.2 548.5,25.3 548.8,26.1 549.0,27.7 549.3,29.9 549.5,32.8 549.8,36.2 550.0,40.3 550.3,44.8 550.5,49.7 550.8,55.1 551.0,60.7 551.3,66.5 551.5,72.4 551.8,78.3 552.0,84.2 552.3,89.9 552.5,95.4 552.8,100.7 553.0,105.5 553.3,109.8 553.5,113.7 553.7,117.0 554.0,119.6 554.2,121.6 554.5,122.9 554.7,123.5 555.0,123.4 555.2,122.6 555.5,121.0 555.7,118.8 556.0,115.9 556.2,112.5 556.5,108.4 556.7,103.9 557.0,99.0 557.2,93.6 557.5,88.0 557.7,82.2 558.0,76.3 558.2,70.4 558.5,64.5 558.7,58.8 559.0,53.3 559.2,48.0 559.5,43.2 559.7,38.9 560.0,35.0 560.2,31.7 560.5,29.1 560.7,27.1 561.0,25.8 561.2,25.2 561.5,25.3 561.7,26.1 562.0,27.7 562.2,29.9 562.5,32.8 562.7,36.2 563.0,40.3 563.2,44.8 563.5,49.7 563.7,55.1 564.0,60.7 564.2,66.5 564.5,72.4 564.7,78.3 564.9,84.2 565.2,89.9 565.4,95.4 565.7,100.7 565.9,105.5 566.2,109.8 566.4,113.7 566.7,117.0 566.9,119.6 567.2,121.6 567.4,122.9 567.7,123.5 567.9,123.4 568.2,122.6 568.4,121.0 568.7,118.8 568.9,115.9 569.2,112.5 569.4,108.4 569.7,103.9 569.9,99.0 570.2,93.6 570.4,88.0 570.7,82.2 570.9,76.3 571.2,70.4 571.4,64.5 571.7,58.8 571.9,53.3 572.2,48.0 572.4,43.2 572.7,38.9 572.9,35.0 573.2,31.7 573.4,29.1 573.7,27.1 573.9,25.8 574.2,25.2 574.4,25.3 574.7,26.1 574.9,27.7 575.2,29.9 575.4,32.8 575.7,36.2 575.9,40.3 576.1,44.8 576.4,49.7 576.6,55.1 576.9,60.7 577.1,66.5 577.4,72.4 577.6,78.3 577.9,84.2 578.1,89.9 578.4,95.4 578.6,100.7 578.9,105.5 579.1,109.8 579.4,113.7 579.6,117.0 579.9,119.6 580.1,121.6 580.4,122.9 580.6,123.5 580.9,123.4 581.1,122.6 581.4,121.0 581.6,118.8 581.9,115.9 582.1,112.5 582.4,108.4 582.6,103.9 582.9,99.0 583.1,93.6 583.4,88.0 583.6,82.2 583.9,76.3 584.1,70.4 584.4,64.5 584.6,58.8 584.9,53.3 585.1,48.0 585.4,43.2 585.6,38.9 585.9,35.0 586.1,31.7 586.4,29.1 586.6,27.1 586.9,25.8 587.1,25.2 587.3,25.3 587.6,26.1 587.8,27.7 588.1,29.9 588.3,32.8 588.6,36.2 588.8,40.3 589.1,44.8 589.3,49.7 589.6,55.1 589.8,60.7 590.1,66.5 590.3,72.4 590.6,78.3 590.8,84.2 591.1,89.9 591.3,95.4 591.6,100.7 591.8,105.5 592.1,109.8 592.3,113.7 592.6,117.0 592.8,119.6 593.1,121.6 593.3,122.9 593.6,123.5 593.8,123.4 594.1,122.6 594.3,121.0 594.6,118.8 594.8,115.9 595.1,112.5 595.3,108.4 595.6,103.9 595.8,99.0 596.1,93.6 596.3,88.0 596.6,82.2 596.8,76.3 597.1,70.4 597.3,64.5 597.6,58.8 597.8,53.3 598.1,48.0 598.3,43.2 598.6,38.9 598.8,35.0 599.0,31.7 599.3,29.1 599.5,27.1 599.8,25.8 600.0,25.2 600.3,25.3 600.5,26.1 600.8,27.7 601.0,29.9 601.3,32.8 601.5,36.2 601.8,40.3 602.0,44.8 602.3,49.7 602.5,55.1 602.8,60.7 603.0,66.5 603.3,72.4 603.5,78.3 603.8,84.2 604.0,89.9 604.3,95.4 604.5,100.7 604.8,105.5 605.0,109.8 605.3,113.7 605.5,117.0 605.8,119.6 606.0,121.6 606.3,122.9 606.5,123.5 606.8,123.4 607.0,122.6 607.3,121.0 607.5,118.8 607.8,115.9 608.0,112.5 608.3,108.4 608.5,103.9 608.8,99.0 609.0,93.6 609.3,88.0 609.5,82.2 609.8,76.3 610.0,70.4 610.2,64.5 610.5,58.8 610.7,53.3 611.0,48.0 611.2,43.2 611.5,38.9 611.7,35.0 612.0,31.7 612.2,29.1 612.5,27.1 612.7,25.8 613.0,25.2 613.2,25.3 613.5,26.1 613.7,27.7 614.0,29.9 614.2,32.8 614.5,36.2 614.7,40.3 615.0,44.8 615.2,49.7 615.5,55.1 615.7,60.7 616.0,66.5 616.2,72.4 616.5,78.3 616.7,84.2 617.0,89.9 617.2,95.4 617.5,100.7 617.7,105.5 618.0,109.8 618.2,113.7 618.5,117.0 618.7,119.6 619.0,121.6 619.2,122.9 619.5,123.5 619.7,123.4 620.0,122.6 620.2,121.0 620.5,118.8 620.7,115.9 621.0,112.5 621.2,108.4 621.4,103.9 621.7,99.0 621.9,93.6 622.2,88.0 622.4,82.2 622.7,76.3 622.9,70.4 623.2,64.5 623.4,58.8 623.7,53.3 623.9,48.0 624.2,43.2 624.4,38.9 624.7,35.0 624.9,31.7 625.2,29.1 625.4,27.1 625.7,25.8 625.9,25.2 626.2,25.3 626.4,26.1 626.7,27.7 626.9,29.9 627.2,32.8 627.4,36.2 627.7,40.3 627.9,44.8 628.2,49.7 628.4,55.1 628.7,60.7 628.9,66.5 629.2,72.4 629.4,78.3 629.7,84.2 629.9,89.9 630.2,95.4 630.4,100.7 630.7,105.5 630.9,109.8 631.2,113.7 631.4,117.0 631.7,119.6 631.9,121.6 632.2,122.9 632.4,123.5 632.6,123.4 632.9,122.6 633.1,121.0 633.4,118.8 633.6,115.9 633.9,112.5 634.1,108.4 634.4,103.9 634.6,99.0 634.9,93.6 635.1,88.0 635.4,82.2 635.6,76.3 635.9,70.4 636.1,64.5 636.4,58.8 636.6,53.3 636.9,48.0 637.1,43.2 637.4,38.9 637.6,35.0 637.9,31.7 638.1,29.1 638.4,27.1 638.6,25.8 638.9,25.2 639.1,25.3 639.4,26.1 639.6,27.7 639.9,29.9 640.1,32.8 640.4,36.2 640.6,40.3 640.9,44.8 641.1,49.7 641.4,55.1 641.6,60.7 641.9,66.5 642.1,72.4 642.4,78.3 642.6,84.2 642.9,89.9 643.1,95.4 643.4,100.7 643.6,105.5 643.8,109.8 644.1,113.7 644.3,117.0 644.6,119.6 644.8,121.6 645.1,122.9 645.3,123.5 645.6,123.4 645.8,122.6 646.1,121.0 646.3,118.8 646.6,115.9 646.8,112.5 647.1,108.4 647.3,103.9 647.6,99.0 647.8,93.6 648.1,88.0 648.3,82.2 648.6,76.3 648.8,70.4 649.1,64.5 649.3,58.8 649.6,53.3 649.8,48.0 650.1,43.2 650.3,38.9 650.6,35.0 650.8,31.7 651.1,29.1 651.3,27.1 651.6,25.8 651.8,25.2 652.1,25.3 652.3,26.1 652.6,27.7 652.8,29.9 653.1,32.8 653.3,36.2 653.6,40.3 653.8,44.8 654.1,49.7 654.3,55.1 654.6,60.7 654.8,66.5 655.0,72.4 655.3,78.3 655.5,84.2 655.8,89.9 656.0,95.4 656.3,100.7 656.5,105.5 656.8,109.8 657.0,113.7 657.3,117.0 657.5,119.6 657.8,121.6 658.0,122.9 658.3,123.5 658.5,123.4 658.8,122.6 659.0,121.0 659.3,118.8 659.5,115.9 659.8,112.5 660.0,108.4 660.3,103.9 660.5,99.0 660.8,93.6 661.0,88.0 661.3,82.2 661.5,76.3 661.8,70.4 662.0,64.5 662.3,58.8 662.5,53.3 662.8,48.0 663.0,43.2 663.3,38.9 663.5,35.0 663.8,31.7 664.0,29.1 664.3,27.1 664.5,25.8 664.8,25.2 665.0,25.3 665.3,26.1 665.5,27.7 665.8,29.9 666.0,32.8 666.3,36.2 666.5,40.3 666.7,44.8 667.0,49.7 667.2,55.1 667.5,60.7 667.7,66.5 668.0,72.4 668.2,78.3 668.5,84.2 668.7,89.9 669.0,95.4 669.2,100.7 669.5,105.5 669.7,109.8 670.0,113.7 670.2,117.0 670.5,119.6 670.7,121.6 671.0,122.9 671.2,123.5 671.5,123.4 671.7,122.6 672.0,121.0 672.2,118.8 672.5,115.9 672.7,112.5 673.0,108.4 673.2,103.9 673.5,99.0 673.7,93.6 674.0,88.0 674.2,82.2 674.5,76.3 674.7,70.4 675.0,64.5 675.2,58.8 675.5,53.3 675.7,48.0 676.0,43.2 676.2,38.9 676.5,35.0 676.7,31.7 677.0,29.1 677.2,27.1 677.5,25.8 677.7,25.2 677.9,25.3 678.2,26.1 678.4,27.7 678.7,29.9 678.9,32.8 679.2,36.2 679.4,40.3 679.7,44.8 679.9,49.7 680.2,55.1 680.4,60.7 680.7,66.5 680.9,72.4 681.2,78.3 681.4,84.2 681.7,89.9 681.9,95.4 682.2,100.7 682.4,105.5 682.7,109.8 682.9,113.7 683.2,117.0" fill="none" stroke="#1C93F6" stroke-width="1.75" stroke-linejoin="round"/><polyline points="36.0,31.7 36.3,35.0 36.5,38.9 36.8,43.2 37.0,48.0 37.3,53.3 37.5,58.8 37.8,64.5 38.0,70.4 38.3,76.3 38.5,82.2 38.8,88.0 39.0,93.6 39.3,99.0 39.5,103.9 39.8,108.4 40.0,112.5 40.3,115.9 40.5,118.8 40.8,121.0 41.0,122.6 41.3,123.4 41.5,123.5 41.8,122.9 42.0,121.6 42.3,119.6 42.5,117.0 42.8,113.7 43.0,109.8 43.3,105.5 43.5,100.7 43.8,95.4 44.0,89.9 44.3,84.2 44.5,78.3 44.8,72.4 45.0,66.5 45.3,60.7 45.5,55.1 45.8,49.7 46.0,44.8 46.2,40.3 46.5,36.2 46.7,32.8 47.0,29.9 47.2,27.7 47.5,26.1 47.7,25.3 48.0,25.2 48.2,25.8 48.5,27.1 48.7,29.1 49.0,31.7 49.2,35.0 49.5,38.9 49.7,43.2 50.0,48.0 50.2,53.3 50.5,58.8 50.7,64.5 51.0,70.4 51.2,76.3 51.5,82.2 51.7,88.0 52.0,93.6 52.2,99.0 52.5,103.9 52.7,108.4 53.0,112.5 53.2,115.9 53.5,118.8 53.7,121.0 54.0,122.6 54.2,123.4 54.5,123.5 54.7,122.9 55.0,121.6 55.2,119.6 55.5,117.0 55.7,113.7 56.0,109.8 56.2,105.5 56.5,100.7 56.7,95.4 57.0,89.9 57.2,84.2 57.5,78.3 57.7,72.4 57.9,66.5 58.2,60.7 58.4,55.1 58.7,49.7 58.9,44.8 59.2,40.3 59.4,36.2 59.7,32.8 59.9,29.9 60.2,27.7 60.4,26.1 60.7,25.3 60.9,25.2 61.2,25.8 61.4,27.1 61.7,29.1 61.9,31.7 62.2,35.0 62.4,38.9 62.7,43.2 62.9,48.0 63.2,53.3 63.4,58.8 63.7,64.5 63.9,70.4 64.2,76.3 64.4,82.2 64.7,88.0 64.9,93.6 65.2,99.0 65.4,103.9 65.7,108.4 65.9,112.5 66.2,115.9 66.4,118.8 66.7,121.0 66.9,122.6 67.2,123.4 67.4,123.5 67.7,122.9 67.9,121.6 68.2,119.6 68.4,117.0 68.7,113.7 68.9,109.8 69.1,105.5 69.4,100.7 69.6,95.4 69.9,89.9 70.1,84.2 70.4,78.3 70.6,72.4 70.9,66.5 71.1,60.7 71.4,55.1 71.6,49.7 71.9,44.8 72.1,40.3 72.4,36.2 72.6,32.8 72.9,29.9 73.1,27.7 73.4,26.1 73.6,25.3 73.9,25.2 74.1,25.8 74.4,27.1 74.6,29.1 74.9,31.7 75.1,35.0 75.4,38.9 75.6,43.2 75.9,48.0 76.1,53.3 76.4,58.8 76.6,64.5 76.9,70.4 77.1,76.3 77.4,82.2 77.6,88.0 77.9,93.6 78.1,99.0 78.4,103.9 78.6,108.4 78.9,112.5 79.1,115.9 79.4,118.8 79.6,121.0 79.9,122.6 80.1,123.4 80.3,123.5 80.6,122.9 80.8,121.6 81.1,119.6 81.3,117.0 81.6,113.7 81.8,109.8 82.1,105.5 82.3,100.7 82.6,95.4 82.8,89.9 83.1,84.2 83.3,78.3 83.6,72.4 83.8,66.5 84.1,60.7 84.3,55.1 84.6,49.7 84.8,44.8 85.1,40.3 85.3,36.2 85.6,32.8 85.8,29.9 86.1,27.7 86.3,26.1 86.6,25.3 86.8,25.2 87.1,25.8 87.3,27.1 87.6,29.1 87.8,31.7 88.1,35.0 88.3,38.9 88.6,43.2 88.8,48.0 89.1,53.3 89.3,58.8 89.6,64.5 89.8,70.4 90.1,76.3 90.3,82.2 90.6,88.0 90.8,93.6 91.1,99.0 91.3,103.9 91.5,108.4 91.8,112.5 92.0,115.9 92.3,118.8 92.5,121.0 92.8,122.6 93.0,123.4 93.3,123.5 93.5,122.9 93.8,121.6 94.0,119.6 94.3,117.0 94.5,113.7 94.8,109.8 95.0,105.5 95.3,100.7 95.5,95.4 95.8,89.9 96.0,84.2 96.3,78.3 96.5,72.4 96.8,66.5 97.0,60.7 97.3,55.1 97.5,49.7 97.8,44.8 98.0,40.3 98.3,36.2 98.5,32.8 98.8,29.9 99.0,27.7 99.3,26.1 99.5,25.3 99.8,25.2 100.0,25.8 100.3,27.1 100.5,29.1 100.8,31.7 101.0,35.0 101.3,38.9 101.5,43.2 101.8,48.0 102.0,53.3 102.3,58.8 102.5,64.5 102.7,70.4 103.0,76.3 103.2,82.2 103.5,88.0 103.7,93.6 104.0,99.0 104.2,103.9 104.5,108.4 104.7,112.5 105.0,115.9 105.2,118.8 105.5,121.0 105.7,122.6 106.0,123.4 106.2,123.5 106.5,122.9 106.7,121.6 107.0,119.6 107.2,117.0 107.5,113.7 107.7,109.8 108.0,105.5 108.2,100.7 108.5,95.4 108.7,89.9 109.0,84.2 109.2,78.3 109.5,72.4 109.7,66.5 110.0,60.7 110.2,55.1 110.5,49.7 110.7,44.8 111.0,40.3 111.2,36.2 111.5,32.8 111.7,29.9 112.0,27.7 112.2,26.1 112.5,25.3 112.7,25.2 113.0,25.8 113.2,27.1 113.5,29.1 113.7,31.7 113.9,35.0 114.2,38.9 114.4,43.2 114.7,48.0 114.9,53.3 115.2,58.8 115.4,64.5 115.7,70.4 115.9,76.3 116.2,82.2 116.4,88.0 116.7,93.6 116.9,99.0 117.2,103.9 117.4,108.4 117.7,112.5 117.9,115.9 118.2,118.8 118.4,121.0 118.7,122.6 118.9,123.4 119.2,123.5 119.4,122.9 119.7,121.6 119.9,119.6 120.2,117.0 120.4,113.7 120.7,109.8 120.9,105.5 121.2,100.7 121.4,95.4 121.7,89.9 121.9,84.2 122.2,78.3 122.4,72.4 122.7,66.5 122.9,60.7 123.2,55.1 123.4,49.7 123.7,44.8 123.9,40.3 124.2,36.2 124.4,32.8 124.7,29.9 124.9,27.7 125.1,26.1 125.4,25.3 125.6,25.2 125.9,25.8 126.1,27.1 126.4,29.1 126.6,31.7 126.9,35.0 127.1,38.9 127.4,43.2 127.6,48.0 127.9,53.3 128.1,58.8 128.4,64.5 128.6,70.4 128.9,76.3 129.1,82.2 129.4,88.0 129.6,93.6 129.9,99.0 130.1,103.9 130.4,108.4 130.6,112.5 130.9,115.9 131.1,118.8 131.4,121.0 131.6,122.6 131.9,123.4 132.1,123.5 132.4,122.9 132.6,121.6 132.9,119.6 133.1,117.0 133.4,113.7 133.6,109.8 133.9,105.5 134.1,100.7 134.4,95.4 134.6,89.9 134.9,84.2 135.1,78.3 135.4,72.4 135.6,66.5 135.9,60.7 136.1,55.1 136.4,49.7 136.6,44.8 136.8,40.3 137.1,36.2 137.3,32.8 137.6,29.9 137.8,27.7 138.1,26.1 138.3,25.3 138.6,25.2 138.8,25.8 139.1,27.1 139.3,29.1 139.6,31.7 139.8,35.0 140.1,38.9 140.3,43.2 140.6,48.0 140.8,53.3 141.1,58.8 141.3,64.5 141.6,70.4 141.8,76.3 142.1,82.2 142.3,88.0 142.6,93.6 142.8,99.0 143.1,103.9 143.3,108.4 143.6,112.5 143.8,115.9 144.1,118.8 144.3,121.0 144.6,122.6 144.8,123.4 145.1,123.5 145.3,122.9 145.6,121.6 145.8,119.6 146.1,117.0 146.3,113.7 146.6,109.8 146.8,105.5 147.1,100.7 147.3,95.4 147.6,89.9 147.8,84.2 148.0,78.3 148.3,72.4 148.5,66.5 148.8,60.7 149.0,55.1 149.3,49.7 149.5,44.8 149.8,40.3 150.0,36.2 150.3,32.8 150.5,29.9 150.8,27.7 151.0,26.1 151.3,25.3 151.5,25.2 151.8,25.8 152.0,27.1 152.3,29.1 152.5,31.7 152.8,35.0 153.0,38.9 153.3,43.2 153.5,48.0 153.8,53.3 154.0,58.8 154.3,64.5 154.5,70.4 154.8,76.3 155.0,82.2 155.3,88.0 155.5,93.6 155.8,99.0 156.0,103.9 156.3,108.4 156.5,112.5 156.8,115.9 157.0,118.8 157.3,121.0 157.5,122.6 157.8,123.4 158.0,123.5 158.3,122.9 158.5,121.6 158.8,119.6 159.0,117.0 159.2,113.7 159.5,109.8 159.7,105.5 160.0,100.7 160.2,95.4 160.5,89.9 160.7,84.2 161.0,78.3 161.2,72.4 161.5,66.5 161.7,60.7 162.0,55.1 162.2,49.7 162.5,44.8 162.7,40.3 163.0,36.2 163.2,32.8 163.5,29.9 163.7,27.7 164.0,26.1 164.2,25.3 164.5,25.2 164.7,25.8 165.0,27.1 165.2,29.1 165.5,31.7 165.7,35.0 166.0,38.9 166.2,43.2 166.5,48.0 166.7,53.3 167.0,58.8 167.2,64.5 167.5,70.4 167.7,76.3 168.0,82.2 168.2,88.0 168.5,93.6 168.7,99.0 169.0,103.9 169.2,108.4 169.5,112.5 169.7,115.9 170.0,118.8 170.2,121.0 170.4,122.6 170.7,123.4 170.9,123.5 171.2,122.9 171.4,121.6 171.7,119.6 171.9,117.0 172.2,113.7 172.4,109.8 172.7,105.5 172.9,100.7 173.2,95.4 173.4,89.9 173.7,84.2 173.9,78.3 174.2,72.4 174.4,66.5 174.7,60.7 174.9,55.1 175.2,49.7 175.4,44.8 175.7,40.3 175.9,36.2 176.2,32.8 176.4,29.9 176.7,27.7 176.9,26.1 177.2,25.3 177.4,25.2 177.7,25.8 177.9,27.1 178.2,29.1 178.4,31.7 178.7,35.0 178.9,38.9 179.2,43.2 179.4,48.0 179.7,53.3 179.9,58.8 180.2,64.5 180.4,70.4 180.7,76.3 180.9,82.2 181.2,88.0 181.4,93.6 181.6,99.0 181.9,103.9 182.1,108.4 182.4,112.5 182.6,115.9 182.9,118.8 183.1,121.0 183.4,122.6 183.6,123.4 183.9,123.5 184.1,122.9 184.4,121.6 184.6,119.6 184.9,117.0 185.1,113.7 185.4,109.8 185.6,105.5 185.9,100.7 186.1,95.4 186.4,89.9 186.6,84.2 186.9,78.3 187.1,72.4 187.4,66.5 187.6,60.7 187.9,55.1 188.1,49.7 188.4,44.8 188.6,40.3 188.9,36.2 189.1,32.8 189.4,29.9 189.6,27.7 189.9,26.1 190.1,25.3 190.4,25.2 190.6,25.8 190.9,27.1 191.1,29.1 191.4,31.7 191.6,35.0 191.9,38.9 192.1,43.2 192.4,48.0 192.6,53.3 192.8,58.8 193.1,64.5 193.3,70.4 193.6,76.3 193.8,82.2 194.1,88.0 194.3,93.6 194.6,99.0 194.8,103.9 195.1,108.4 195.3,112.5 195.6,115.9 195.8,118.8 196.1,121.0 196.3,122.6 196.6,123.4 196.8,123.5 197.1,122.9 197.3,121.6 197.6,119.6 197.8,117.0 198.1,113.7 198.3,109.8 198.6,105.5 198.8,100.7 199.1,95.4 199.3,89.9 199.6,84.2 199.8,78.3 200.1,72.4 200.3,66.5 200.6,60.7 200.8,55.1 201.1,49.7 201.3,44.8 201.6,40.3 201.8,36.2 202.1,32.8 202.3,29.9 202.6,27.7 202.8,26.1 203.1,25.3 203.3,25.2 203.6,25.8 203.8,27.1 204.0,29.1 204.3,31.7 204.5,35.0 204.8,38.9 205.0,43.2 205.3,48.0 205.5,53.3 205.8,58.8 206.0,64.5 206.3,70.4 206.5,76.3 206.8,82.2 207.0,88.0 207.3,93.6 207.5,99.0 207.8,103.9 208.0,108.4 208.3,112.5 208.5,115.9 208.8,118.8 209.0,121.0 209.3,122.6 209.5,123.4 209.8,123.5 210.0,122.9 210.3,121.6 210.5,119.6 210.8,117.0 211.0,113.7 211.3,109.8 211.5,105.5 211.8,100.7 212.0,95.4 212.3,89.9 212.5,84.2 212.8,78.3 213.0,72.4 213.3,66.5 213.5,60.7 213.8,55.1 214.0,49.7 214.3,44.8 214.5,40.3 214.8,36.2 215.0,32.8 215.3,29.9 215.5,27.7 215.7,26.1 216.0,25.3 216.2,25.2 216.5,25.8 216.7,27.1 217.0,29.1 217.2,31.7 217.5,35.0 217.7,38.9 218.0,43.2 218.2,48.0 218.5,53.3 218.7,58.8 219.0,64.5 219.2,70.4 219.5,76.3 219.7,82.2 220.0,88.0 220.2,93.6 220.5,99.0 220.7,103.9 221.0,108.4 221.2,112.5 221.5,115.9 221.7,118.8 222.0,121.0 222.2,122.6 222.5,123.4 222.7,123.5 223.0,122.9 223.2,121.6 223.5,119.6 223.7,117.0 224.0,113.7 224.2,109.8 224.5,105.5 224.7,100.7 225.0,95.4 225.2,89.9 225.5,84.2 225.7,78.3 226.0,72.4 226.2,66.5 226.5,60.7 226.7,55.1 226.9,49.7 227.2,44.8 227.4,40.3 227.7,36.2 227.9,32.8 228.2,29.9 228.4,27.7 228.7,26.1 228.9,25.3 229.2,25.2 229.4,25.8 229.7,27.1 229.9,29.1 230.2,31.7 230.4,35.0 230.7,38.9 230.9,43.2 231.2,48.0 231.4,53.3 231.7,58.8 231.9,64.5 232.2,70.4 232.4,76.3 232.7,82.2 232.9,88.0 233.2,93.6 233.4,99.0 233.7,103.9 233.9,108.4 234.2,112.5 234.4,115.9 234.7,118.8 234.9,121.0 235.2,122.6 235.4,123.4 235.7,123.5 235.9,122.9 236.2,121.6 236.4,119.6 236.7,117.0 236.9,113.7 237.2,109.8 237.4,105.5 237.7,100.7 237.9,95.4 238.1,89.9 238.4,84.2 238.6,78.3 238.9,72.4 239.1,66.5 239.4,60.7 239.6,55.1 239.9,49.7 240.1,44.8 240.4,40.3 240.6,36.2 240.9,32.8 241.1,29.9 241.4,27.7 241.6,26.1 241.9,25.3 242.1,25.2 242.4,25.8 242.6,27.1 242.9,29.1 243.1,31.7 243.4,35.0 243.6,38.9 243.9,43.2 244.1,48.0 244.4,53.3 244.6,58.8 244.9,64.5 245.1,70.4 245.4,76.3 245.6,82.2 245.9,88.0 246.1,93.6 246.4,99.0 246.6,103.9 246.9,108.4 247.1,112.5 247.4,115.9 247.6,118.8 247.9,121.0 248.1,122.6 248.4,123.4 248.6,123.5 248.9,122.9 249.1,121.6 249.3,119.6 249.6,117.0 249.8,113.7 250.1,109.8 250.3,105.5 250.6,100.7 250.8,95.4 251.1,89.9 251.3,84.2 251.6,78.3 251.8,72.4 252.1,66.5 252.3,60.7 252.6,55.1 252.8,49.7 253.1,44.8 253.3,40.3 253.6,36.2 253.8,32.8 254.1,29.9 254.3,27.7 254.6,26.1 254.8,25.3 255.1,25.2 255.3,25.8 255.6,27.1 255.8,29.1 256.1,31.7 256.3,35.0 256.6,38.9 256.8,43.2 257.1,48.0 257.3,53.3 257.6,58.8 257.8,64.5 258.1,70.4 258.3,76.3 258.6,82.2 258.8,88.0 259.1,93.6 259.3,99.0 259.6,103.9 259.8,108.4 260.1,112.5 260.3,115.9 260.5,118.8 260.8,121.0 261.0,122.6 261.3,123.4 261.5,123.5 261.8,122.9 262.0,121.6 262.3,119.6 262.5,117.0 262.8,113.7 263.0,109.8 263.3,105.5 263.5,100.7 263.8,95.4 264.0,89.9 264.3,84.2 264.5,78.3 264.8,72.4 265.0,66.5 265.3,60.7 265.5,55.1 265.8,49.7 266.0,44.8 266.3,40.3 266.5,36.2 266.8,32.8 267.0,29.9 267.3,27.7 267.5,26.1 267.8,25.3 268.0,25.2 268.3,25.8 268.5,27.1 268.8,29.1 269.0,31.7 269.3,35.0 269.5,38.9 269.8,43.2 270.0,48.0 270.3,53.3 270.5,58.8 270.8,64.5 271.0,70.4 271.3,76.3 271.5,82.2 271.7,88.0 272.0,93.6 272.2,99.0 272.5,103.9 272.7,108.4 273.0,112.5 273.2,115.9 273.5,118.8 273.7,121.0 274.0,122.6 274.2,123.4 274.5,123.5 274.7,122.9 275.0,121.6 275.2,119.6 275.5,117.0 275.7,113.7 276.0,109.8 276.2,105.5 276.5,100.7 276.7,95.4 277.0,89.9 277.2,84.2 277.5,78.3 277.7,72.4 278.0,66.5 278.2,60.7 278.5,55.1 278.7,49.7 279.0,44.8 279.2,40.3 279.5,36.2 279.7,32.8 280.0,29.9 280.2,27.7 280.5,26.1 280.7,25.3 281.0,25.2 281.2,25.8 281.5,27.1 281.7,29.1 282.0,31.7 282.2,35.0 282.5,38.9 282.7,43.2 282.9,48.0 283.2,53.3 283.4,58.8 283.7,64.5 283.9,70.4 284.2,76.3 284.4,82.2 284.7,88.0 284.9,93.6 285.2,99.0 285.4,103.9 285.7,108.4 285.9,112.5 286.2,115.9 286.4,118.8 286.7,121.0 286.9,122.6 287.2,123.4 287.4,123.5 287.7,122.9 287.9,121.6 288.2,119.6 288.4,117.0 288.7,113.7 288.9,109.8 289.2,105.5 289.4,100.7 289.7,95.4 289.9,89.9 290.2,84.2 290.4,78.3 290.7,72.4 290.9,66.5 291.2,60.7 291.4,55.1 291.7,49.7 291.9,44.8 292.2,40.3 292.4,36.2 292.7,32.8 292.9,29.9 293.2,27.7 293.4,26.1 293.7,25.3 293.9,25.2 294.2,25.8 294.4,27.1 294.6,29.1 294.9,31.7 295.1,35.0 295.4,38.9 295.6,43.2 295.9,48.0 296.1,53.3 296.4,58.8 296.6,64.5 296.9,70.4 297.1,76.3 297.4,82.2 297.6,88.0 297.9,93.6 298.1,99.0 298.4,103.9 298.6,108.4 298.9,112.5 299.1,115.9 299.4,118.8 299.6,121.0 299.9,122.6 300.1,123.4 300.4,123.5 300.6,122.9 300.9,121.6 301.1,119.6 301.4,117.0 301.6,113.7 301.9,109.8 302.1,105.5 302.4,100.7 302.6,95.4 302.9,89.9 303.1,84.2 303.4,78.3 303.6,72.4 303.9,66.5 304.1,60.7 304.4,55.1 304.6,49.7 304.9,44.8 305.1,40.3 305.4,36.2 305.6,32.8 305.8,29.9 306.1,27.7 306.3,26.1 306.6,25.3 306.8,25.2 307.1,25.8 307.3,27.1 307.6,29.1 307.8,31.7 308.1,35.0 308.3,38.9 308.6,43.2 308.8,48.0 309.1,53.3 309.3,58.8 309.6,64.5 309.8,70.4 310.1,76.3 310.3,82.2 310.6,88.0 310.8,93.6 311.1,99.0 311.3,103.9 311.6,108.4 311.8,112.5 312.1,115.9 312.3,118.8 312.6,121.0 312.8,122.6 313.1,123.4 313.3,123.5 313.6,122.9 313.8,121.6 314.1,119.6 314.3,117.0 314.6,113.7 314.8,109.8 315.1,105.5 315.3,100.7 315.6,95.4 315.8,89.9 316.1,84.2 316.3,78.3 316.6,72.4 316.8,66.5 317.0,60.7 317.3,55.1 317.5,49.7 317.8,44.8 318.0,40.3 318.3,36.2 318.5,32.8 318.8,29.9 319.0,27.7 319.3,26.1 319.5,25.3 319.8,25.2 320.0,25.8 320.3,27.1 320.5,29.1 320.8,31.7 321.0,35.0 321.3,38.9 321.5,43.2 321.8,48.0 322.0,53.3 322.3,58.8 322.5,64.5 322.8,70.4 323.0,76.3 323.3,82.2 323.5,88.0 323.8,93.6 324.0,99.0 324.3,103.9 324.5,108.4 324.8,112.5 325.0,115.9 325.3,118.8 325.5,121.0 325.8,122.6 326.0,123.4 326.3,123.5 326.5,122.9 326.8,121.6 327.0,119.6 327.3,117.0 327.5,113.7 327.8,109.8 328.0,105.5 328.2,100.7 328.5,95.4 328.7,89.9 329.0,84.2 329.2,78.3 329.5,72.4 329.7,66.5 330.0,60.7 330.2,55.1 330.5,49.7 330.7,44.8 331.0,40.3 331.2,36.2 331.5,32.8 331.7,29.9 332.0,27.7 332.2,26.1 332.5,25.3 332.7,25.2 333.0,25.8 333.2,27.1 333.5,29.1 333.7,31.7 334.0,35.0 334.2,38.9 334.5,43.2 334.7,48.0 335.0,53.3 335.2,58.8 335.5,64.5 335.7,70.4 336.0,76.3 336.2,82.2 336.5,88.0 336.7,93.6 337.0,99.0 337.2,103.9 337.5,108.4 337.7,112.5 338.0,115.9 338.2,118.8 338.5,121.0 338.7,122.6 339.0,123.4 339.2,123.5 339.4,122.9 339.7,121.6 339.9,119.6 340.2,117.0 340.4,113.7 340.7,109.8 340.9,105.5 341.2,100.7 341.4,95.4 341.7,89.9 341.9,84.2 342.2,78.3 342.4,72.4 342.7,66.5 342.9,60.7 343.2,55.1 343.4,49.7 343.7,44.8 343.9,40.3 344.2,36.2 344.4,32.8 344.7,29.9 344.9,27.7 345.2,26.1 345.4,25.3 345.7,25.2 345.9,25.8 346.2,27.1 346.4,29.1 346.7,31.7 346.9,35.0 347.2,38.9 347.4,43.2 347.7,48.0 347.9,53.3 348.2,58.8 348.4,64.5 348.7,70.4 348.9,76.3 349.2,82.2 349.4,88.0 349.7,93.6 349.9,99.0 350.2,103.9 350.4,108.4 350.6,112.5 350.9,115.9 351.1,118.8 351.4,121.0 351.6,122.6 351.9,123.4 352.1,123.5 352.4,122.9 352.6,121.6 352.9,119.6 353.1,117.0 353.4,113.7 353.6,109.8 353.9,105.5 354.1,100.7 354.4,95.4 354.6,89.9 354.9,84.2 355.1,78.3 355.4,72.4 355.6,66.5 355.9,60.7 356.1,55.1 356.4,49.7 356.6,44.8 356.9,40.3 357.1,36.2 357.4,32.8 357.6,29.9 357.9,27.7 358.1,26.1 358.4,25.3 358.6,25.2 358.9,25.8 359.1,27.1 359.4,29.1 359.6,31.7 359.9,35.0 360.1,38.9 360.4,43.2 360.6,48.0 360.9,53.3 361.1,58.8 361.4,64.5 361.6,70.4 361.9,76.3 362.1,82.2 362.3,88.0 362.6,93.6 362.8,99.0 363.1,103.9 363.3,108.4 363.6,112.5 363.8,115.9 364.1,118.8 364.3,121.0 364.6,122.6 364.8,123.4 365.1,123.5 365.3,122.9 365.6,121.6 365.8,119.6 366.1,117.0 366.3,113.7 366.6,109.8 366.8,105.5 367.1,100.7 367.3,95.4 367.6,89.9 367.8,84.2 368.1,78.3 368.3,72.4 368.6,66.5 368.8,60.7 369.1,55.1 369.3,49.7 369.6,44.8 369.8,40.3 370.1,36.2 370.3,32.8 370.6,29.9 370.8,27.7 371.1,26.1 371.3,25.3 371.6,25.2 371.8,25.8 372.1,27.1 372.3,29.1 372.6,31.7 372.8,35.0 373.1,38.9 373.3,43.2 373.5,48.0 373.8,53.3 374.0,58.8 374.3,64.5 374.5,70.4 374.8,76.3 375.0,82.2 375.3,88.0 375.5,93.6 375.8,99.0 376.0,103.9 376.3,108.4 376.5,112.5 376.8,115.9 377.0,118.8 377.3,121.0 377.5,122.6 377.8,123.4 378.0,123.5 378.3,122.9 378.5,121.6 378.8,119.6 379.0,117.0 379.3,113.7 379.5,109.8 379.8,105.5 380.0,100.7 380.3,95.4 380.5,89.9 380.8,84.2 381.0,78.3 381.3,72.4 381.5,66.5 381.8,60.7 382.0,55.1 382.3,49.7 382.5,44.8 382.8,40.3 383.0,36.2 383.3,32.8 383.5,29.9 383.8,27.7 384.0,26.1 384.3,25.3 384.5,25.2 384.7,25.8 385.0,27.1 385.2,29.1 385.5,31.7 385.7,35.0 386.0,38.9 386.2,43.2 386.5,48.0 386.7,53.3 387.0,58.8 387.2,64.5 387.5,70.4 387.7,76.3 388.0,82.2 388.2,88.0 388.5,93.6 388.7,99.0 389.0,103.9 389.2,108.4 389.5,112.5 389.7,115.9 390.0,118.8 390.2,121.0 390.5,122.6 390.7,123.4 391.0,123.5 391.2,122.9 391.5,121.6 391.7,119.6 392.0,117.0 392.2,113.7 392.5,109.8 392.7,105.5 393.0,100.7 393.2,95.4 393.5,89.9 393.7,84.2 394.0,78.3 394.2,72.4 394.5,66.5 394.7,60.7 395.0,55.1 395.2,49.7 395.5,44.8 395.7,40.3 395.9,36.2 396.2,32.8 396.4,29.9 396.7,27.7 396.9,26.1 397.2,25.3 397.4,25.2 397.7,25.8 397.9,27.1 398.2,29.1 398.4,31.7 398.7,35.0 398.9,38.9 399.2,43.2 399.4,48.0 399.7,53.3 399.9,58.8 400.2,64.5 400.4,70.4 400.7,76.3 400.9,82.2 401.2,88.0 401.4,93.6 401.7,99.0 401.9,103.9 402.2,108.4 402.4,112.5 402.7,115.9 402.9,118.8 403.2,121.0 403.4,122.6 403.7,123.4 403.9,123.5 404.2,122.9 404.4,121.6 404.7,119.6 404.9,117.0 405.2,113.7 405.4,109.8 405.7,105.5 405.9,100.7 406.2,95.4 406.4,89.9 406.7,84.2 406.9,78.3 407.1,72.4 407.4,66.5 407.6,60.7 407.9,55.1 408.1,49.7 408.4,44.8 408.6,40.3 408.9,36.2 409.1,32.8 409.4,29.9 409.6,27.7 409.9,26.1 410.1,25.3 410.4,25.2 410.6,25.8 410.9,27.1 411.1,29.1 411.4,31.7 411.6,35.0 411.9,38.9 412.1,43.2 412.4,48.0 412.6,53.3 412.9,58.8 413.1,64.5 413.4,70.4 413.6,76.3 413.9,82.2 414.1,88.0 414.4,93.6 414.6,99.0 414.9,103.9 415.1,108.4 415.4,112.5 415.6,115.9 415.9,118.8 416.1,121.0 416.4,122.6 416.6,123.4 416.9,123.5 417.1,122.9 417.4,121.6 417.6,119.6 417.9,117.0 418.1,113.7 418.3,109.8 418.6,105.5 418.8,100.7 419.1,95.4 419.3,89.9 419.6,84.2 419.8,78.3 420.1,72.4 420.3,66.5 420.6,60.7 420.8,55.1 421.1,49.7 421.3,44.8 421.6,40.3 421.8,36.2 422.1,32.8 422.3,29.9 422.6,27.7 422.8,26.1 423.1,25.3 423.3,25.2 423.6,25.8 423.8,27.1 424.1,29.1 424.3,31.7 424.6,35.0 424.8,38.9 425.1,43.2 425.3,48.0 425.6,53.3 425.8,58.8 426.1,64.5 426.3,70.4 426.6,76.3 426.8,82.2 427.1,88.0 427.3,93.6 427.6,99.0 427.8,103.9 428.1,108.4 428.3,112.5 428.6,115.9 428.8,118.8 429.1,121.0 429.3,122.6 429.5,123.4 429.8,123.5 430.0,122.9 430.3,121.6 430.5,119.6 430.8,117.0 431.0,113.7 431.3,109.8 431.5,105.5 431.8,100.7 432.0,95.4 432.3,89.9 432.5,84.2 432.8,78.3 433.0,72.4 433.3,66.5 433.5,60.7 433.8,55.1 434.0,49.7 434.3,44.8 434.5,40.3 434.8,36.2 435.0,32.8 435.3,29.9 435.5,27.7 435.8,26.1 436.0,25.3 436.3,25.2 436.5,25.8 436.8,27.1 437.0,29.1 437.3,31.7 437.5,35.0 437.8,38.9 438.0,43.2 438.3,48.0 438.5,53.3 438.8,58.8 439.0,64.5 439.3,70.4 439.5,76.3 439.8,82.2 440.0,88.0 440.3,93.6 440.5,99.0 440.8,103.9 441.0,108.4 441.2,112.5 441.5,115.9 441.7,118.8 442.0,121.0 442.2,122.6 442.5,123.4 442.7,123.5 443.0,122.9 443.2,121.6 443.5,119.6 443.7,117.0 444.0,113.7 444.2,109.8 444.5,105.5 444.7,100.7 445.0,95.4 445.2,89.9 445.5,84.2 445.7,78.3 446.0,72.4 446.2,66.5 446.5,60.7 446.7,55.1 447.0,49.7 447.2,44.8 447.5,40.3 447.7,36.2 448.0,32.8 448.2,29.9 448.5,27.7 448.7,26.1 449.0,25.3 449.2,25.2 449.5,25.8 449.7,27.1 450.0,29.1 450.2,31.7 450.5,35.0 450.7,38.9 451.0,43.2 451.2,48.0 451.5,53.3 451.7,58.8 452.0,64.5 452.2,70.4 452.4,76.3 452.7,82.2 452.9,88.0 453.2,93.6 453.4,99.0 453.7,103.9 453.9,108.4 454.2,112.5 454.4,115.9 454.7,118.8 454.9,121.0 455.2,122.6 455.4,123.4 455.7,123.5 455.9,122.9 456.2,121.6 456.4,119.6 456.7,117.0 456.9,113.7 457.2,109.8 457.4,105.5 457.7,100.7 457.9,95.4 458.2,89.9 458.4,84.2 458.7,78.3 458.9,72.4 459.2,66.5 459.4,60.7 459.7,55.1 459.9,49.7 460.2,44.8 460.4,40.3 460.7,36.2 460.9,32.8 461.2,29.9 461.4,27.7 461.7,26.1 461.9,25.3 462.2,25.2 462.4,25.8 462.7,27.1 462.9,29.1 463.2,31.7 463.4,35.0 463.6,38.9 463.9,43.2 464.1,48.0 464.4,53.3 464.6,58.8 464.9,64.5 465.1,70.4 465.4,76.3 465.6,82.2 465.9,88.0 466.1,93.6 466.4,99.0 466.6,103.9 466.9,108.4 467.1,112.5 467.4,115.9 467.6,118.8 467.9,121.0 468.1,122.6 468.4,123.4 468.6,123.5 468.9,122.9 469.1,121.6 469.4,119.6 469.6,117.0 469.9,113.7 470.1,109.8 470.4,105.5 470.6,100.7 470.9,95.4 471.1,89.9 471.4,84.2 471.6,78.3 471.9,72.4 472.1,66.5 472.4,60.7 472.6,55.1 472.9,49.7 473.1,44.8 473.4,40.3 473.6,36.2 473.9,32.8 474.1,29.9 474.4,27.7 474.6,26.1 474.8,25.3 475.1,25.2 475.3,25.8 475.6,27.1 475.8,29.1 476.1,31.7 476.3,35.0 476.6,38.9 476.8,43.2 477.1,48.0 477.3,53.3 477.6,58.8 477.8,64.5 478.1,70.4 478.3,76.3 478.6,82.2 478.8,88.0 479.1,93.6 479.3,99.0 479.6,103.9 479.8,108.4 480.1,112.5 480.3,115.9 480.6,118.8 480.8,121.0 481.1,122.6 481.3,123.4 481.6,123.5 481.8,122.9 482.1,121.6 482.3,119.6 482.6,117.0 482.8,113.7 483.1,109.8 483.3,105.5 483.6,100.7 483.8,95.4 484.1,89.9 484.3,84.2 484.6,78.3 484.8,72.4 485.1,66.5 485.3,60.7 485.6,55.1 485.8,49.7 486.0,44.8 486.3,40.3 486.5,36.2 486.8,32.8 487.0,29.9 487.3,27.7 487.5,26.1 487.8,25.3 488.0,25.2 488.3,25.8 488.5,27.1 488.8,29.1 489.0,31.7 489.3,35.0 489.5,38.9 489.8,43.2 490.0,48.0 490.3,53.3 490.5,58.8 490.8,64.5 491.0,70.4 491.3,76.3 491.5,82.2 491.8,88.0 492.0,93.6 492.3,99.0 492.5,103.9 492.8,108.4 493.0,112.5 493.3,115.9 493.5,118.8 493.8,121.0 494.0,122.6 494.3,123.4 494.5,123.5 494.8,122.9 495.0,121.6 495.3,119.6 495.5,117.0 495.8,113.7 496.0,109.8 496.3,105.5 496.5,100.7 496.8,95.4 497.0,89.9 497.2,84.2 497.5,78.3 497.7,72.4 498.0,66.5 498.2,60.7 498.5,55.1 498.7,49.7 499.0,44.8 499.2,40.3 499.5,36.2 499.7,32.8 500.0,29.9 500.2,27.7 500.5,26.1 500.7,25.3 501.0,25.2 501.2,25.8 501.5,27.1 501.7,29.1 502.0,31.7 502.2,35.0 502.5,38.9 502.7,43.2 503.0,48.0 503.2,53.3 503.5,58.8 503.7,64.5 504.0,70.4 504.2,76.3 504.5,82.2 504.7,88.0 505.0,93.6 505.2,99.0 505.5,103.9 505.7,108.4 506.0,112.5 506.2,115.9 506.5,118.8 506.7,121.0 507.0,122.6 507.2,123.4 507.5,123.5 507.7,122.9 508.0,121.6 508.2,119.6 508.4,117.0 508.7,113.7 508.9,109.8 509.2,105.5 509.4,100.7 509.7,95.4 509.9,89.9 510.2,84.2 510.4,78.3 510.7,72.4 510.9,66.5 511.2,60.7 511.4,55.1 511.7,49.7 511.9,44.8 512.2,40.3 512.4,36.2 512.7,32.8 512.9,29.9 513.2,27.7 513.4,26.1 513.7,25.3 513.9,25.2 514.2,25.8 514.4,27.1 514.7,29.1 514.9,31.7 515.2,35.0 515.4,38.9 515.7,43.2 515.9,48.0 516.2,53.3 516.4,58.8 516.7,64.5 516.9,70.4 517.2,76.3 517.4,82.2 517.7,88.0 517.9,93.6 518.2,99.0 518.4,103.9 518.7,108.4 518.9,112.5 519.2,115.9 519.4,118.8 519.7,121.0 519.9,122.6 520.1,123.4 520.4,123.5 520.6,122.9 520.9,121.6 521.1,119.6 521.4,117.0 521.6,113.7 521.9,109.8 522.1,105.5 522.4,100.7 522.6,95.4 522.9,89.9 523.1,84.2 523.4,78.3 523.6,72.4 523.9,66.5 524.1,60.7 524.4,55.1 524.6,49.7 524.9,44.8 525.1,40.3 525.4,36.2 525.6,32.8 525.9,29.9 526.1,27.7 526.4,26.1 526.6,25.3 526.9,25.2 527.1,25.8 527.4,27.1 527.6,29.1 527.9,31.7 528.1,35.0 528.4,38.9 528.6,43.2 528.9,48.0 529.1,53.3 529.4,58.8 529.6,64.5 529.9,70.4 530.1,76.3 530.4,82.2 530.6,88.0 530.9,93.6 531.1,99.0 531.3,103.9 531.6,108.4 531.8,112.5 532.1,115.9 532.3,118.8 532.6,121.0 532.8,122.6 533.1,123.4 533.3,123.5 533.6,122.9 533.8,121.6 534.1,119.6 534.3,117.0 534.6,113.7 534.8,109.8 535.1,105.5 535.3,100.7 535.6,95.4 535.8,89.9 536.1,84.2 536.3,78.3 536.6,72.4 536.8,66.5 537.1,60.7 537.3,55.1 537.6,49.7 537.8,44.8 538.1,40.3 538.3,36.2 538.6,32.8 538.8,29.9 539.1,27.7 539.3,26.1 539.6,25.3 539.8,25.2 540.1,25.8 540.3,27.1 540.6,29.1 540.8,31.7 541.1,35.0 541.3,38.9 541.6,43.2 541.8,48.0 542.1,53.3 542.3,58.8 542.5,64.5 542.8,70.4 543.0,76.3 543.3,82.2 543.5,88.0 543.8,93.6 544.0,99.0 544.3,103.9 544.5,108.4 544.8,112.5 545.0,115.9 545.3,118.8 545.5,121.0 545.8,122.6 546.0,123.4 546.3,123.5 546.5,122.9 546.8,121.6 547.0,119.6 547.3,117.0 547.5,113.7 547.8,109.8 548.0,105.5 548.3,100.7 548.5,95.4 548.8,89.9 549.0,84.2 549.3,78.3 549.5,72.4 549.8,66.5 550.0,60.7 550.3,55.1 550.5,49.7 550.8,44.8 551.0,40.3 551.3,36.2 551.5,32.8 551.8,29.9 552.0,27.7 552.3,26.1 552.5,25.3 552.8,25.2 553.0,25.8 553.3,27.1 553.5,29.1 553.7,31.7 554.0,35.0 554.2,38.9 554.5,43.2 554.7,48.0 555.0,53.3 555.2,58.8 555.5,64.5 555.7,70.4 556.0,76.3 556.2,82.2 556.5,88.0 556.7,93.6 557.0,99.0 557.2,103.9 557.5,108.4 557.7,112.5 558.0,115.9 558.2,118.8 558.5,121.0 558.7,122.6 559.0,123.4 559.2,123.5 559.5,122.9 559.7,121.6 560.0,119.6 560.2,117.0 560.5,113.7 560.7,109.8 561.0,105.5 561.2,100.7 561.5,95.4 561.7,89.9 562.0,84.2 562.2,78.3 562.5,72.4 562.7,66.5 563.0,60.7 563.2,55.1 563.5,49.7 563.7,44.8 564.0,40.3 564.2,36.2 564.5,32.8 564.7,29.9 564.9,27.7 565.2,26.1 565.4,25.3 565.7,25.2 565.9,25.8 566.2,27.1 566.4,29.1 566.7,31.7 566.9,35.0 567.2,38.9 567.4,43.2 567.7,48.0 567.9,53.3 568.2,58.8 568.4,64.5 568.7,70.4 568.9,76.3 569.2,82.2 569.4,88.0 569.7,93.6 569.9,99.0 570.2,103.9 570.4,108.4 570.7,112.5 570.9,115.9 571.2,118.8 571.4,121.0 571.7,122.6 571.9,123.4 572.2,123.5 572.4,122.9 572.7,121.6 572.9,119.6 573.2,117.0 573.4,113.7 573.7,109.8 573.9,105.5 574.2,100.7 574.4,95.4 574.7,89.9 574.9,84.2 575.2,78.3 575.4,72.4 575.7,66.5 575.9,60.7 576.1,55.1 576.4,49.7 576.6,44.8 576.9,40.3 577.1,36.2 577.4,32.8 577.6,29.9 577.9,27.7 578.1,26.1 578.4,25.3 578.6,25.2 578.9,25.8 579.1,27.1 579.4,29.1 579.6,31.7 579.9,35.0 580.1,38.9 580.4,43.2 580.6,48.0 580.9,53.3 581.1,58.8 581.4,64.5 581.6,70.4 581.9,76.3 582.1,82.2 582.4,88.0 582.6,93.6 582.9,99.0 583.1,103.9 583.4,108.4 583.6,112.5 583.9,115.9 584.1,118.8 584.4,121.0 584.6,122.6 584.9,123.4 585.1,123.5 585.4,122.9 585.6,121.6 585.9,119.6 586.1,117.0 586.4,113.7 586.6,109.8 586.9,105.5 587.1,100.7 587.3,95.4 587.6,89.9 587.8,84.2 588.1,78.3 588.3,72.4 588.6,66.5 588.8,60.7 589.1,55.1 589.3,49.7 589.6,44.8 589.8,40.3 590.1,36.2 590.3,32.8 590.6,29.9 590.8,27.7 591.1,26.1 591.3,25.3 591.6,25.2 591.8,25.8 592.1,27.1 592.3,29.1 592.6,31.7 592.8,35.0 593.1,38.9 593.3,43.2 593.6,48.0 593.8,53.3 594.1,58.8 594.3,64.5 594.6,70.4 594.8,76.3 595.1,82.2 595.3,88.0 595.6,93.6 595.8,99.0 596.1,103.9 596.3,108.4 596.6,112.5 596.8,115.9 597.1,118.8 597.3,121.0 597.6,122.6 597.8,123.4 598.1,123.5 598.3,122.9 598.6,121.6 598.8,119.6 599.0,117.0 599.3,113.7 599.5,109.8 599.8,105.5 600.0,100.7 600.3,95.4 600.5,89.9 600.8,84.2 601.0,78.3 601.3,72.4 601.5,66.5 601.8,60.7 602.0,55.1 602.3,49.7 602.5,44.8 602.8,40.3 603.0,36.2 603.3,32.8 603.5,29.9 603.8,27.7 604.0,26.1 604.3,25.3 604.5,25.2 604.8,25.8 605.0,27.1 605.3,29.1 605.5,31.7 605.8,35.0 606.0,38.9 606.3,43.2 606.5,48.0 606.8,53.3 607.0,58.8 607.3,64.5 607.5,70.4 607.8,76.3 608.0,82.2 608.3,88.0 608.5,93.6 608.8,99.0 609.0,103.9 609.3,108.4 609.5,112.5 609.8,115.9 610.0,118.8 610.2,121.0 610.5,122.6 610.7,123.4 611.0,123.5 611.2,122.9 611.5,121.6 611.7,119.6 612.0,117.0 612.2,113.7 612.5,109.8 612.7,105.5 613.0,100.7 613.2,95.4 613.5,89.9 613.7,84.2 614.0,78.3 614.2,72.4 614.5,66.5 614.7,60.7 615.0,55.1 615.2,49.7 615.5,44.8 615.7,40.3 616.0,36.2 616.2,32.8 616.5,29.9 616.7,27.7 617.0,26.1 617.2,25.3 617.5,25.2 617.7,25.8 618.0,27.1 618.2,29.1 618.5,31.7 618.7,35.0 619.0,38.9 619.2,43.2 619.5,48.0 619.7,53.3 620.0,58.8 620.2,64.5 620.5,70.4 620.7,76.3 621.0,82.2 621.2,88.0 621.4,93.6 621.7,99.0 621.9,103.9 622.2,108.4 622.4,112.5 622.7,115.9 622.9,118.8 623.2,121.0 623.4,122.6 623.7,123.4 623.9,123.5 624.2,122.9 624.4,121.6 624.7,119.6 624.9,117.0 625.2,113.7 625.4,109.8 625.7,105.5 625.9,100.7 626.2,95.4 626.4,89.9 626.7,84.2 626.9,78.3 627.2,72.4 627.4,66.5 627.7,60.7 627.9,55.1 628.2,49.7 628.4,44.8 628.7,40.3 628.9,36.2 629.2,32.8 629.4,29.9 629.7,27.7 629.9,26.1 630.2,25.3 630.4,25.2 630.7,25.8 630.9,27.1 631.2,29.1 631.4,31.7 631.7,35.0 631.9,38.9 632.2,43.2 632.4,48.0 632.6,53.3 632.9,58.8 633.1,64.5 633.4,70.4 633.6,76.3 633.9,82.2 634.1,88.0 634.4,93.6 634.6,99.0 634.9,103.9 635.1,108.4 635.4,112.5 635.6,115.9 635.9,118.8 636.1,121.0 636.4,122.6 636.6,123.4 636.9,123.5 637.1,122.9 637.4,121.6 637.6,119.6 637.9,117.0 638.1,113.7 638.4,109.8 638.6,105.5 638.9,100.7 639.1,95.4 639.4,89.9 639.6,84.2 639.9,78.3 640.1,72.4 640.4,66.5 640.6,60.7 640.9,55.1 641.1,49.7 641.4,44.8 641.6,40.3 641.9,36.2 642.1,32.8 642.4,29.9 642.6,27.7 642.9,26.1 643.1,25.3 643.4,25.2 643.6,25.8 643.8,27.1 644.1,29.1 644.3,31.7 644.6,35.0 644.8,38.9 645.1,43.2 645.3,48.0 645.6,53.3 645.8,58.8 646.1,64.5 646.3,70.4 646.6,76.3 646.8,82.2 647.1,88.0 647.3,93.6 647.6,99.0 647.8,103.9 648.1,108.4 648.3,112.5 648.6,115.9 648.8,118.8 649.1,121.0 649.3,122.6 649.6,123.4 649.8,123.5 650.1,122.9 650.3,121.6 650.6,119.6 650.8,117.0 651.1,113.7 651.3,109.8 651.6,105.5 651.8,100.7 652.1,95.4 652.3,89.9 652.6,84.2 652.8,78.3 653.1,72.4 653.3,66.5 653.6,60.7 653.8,55.1 654.1,49.7 654.3,44.8 654.6,40.3 654.8,36.2 655.0,32.8 655.3,29.9 655.5,27.7 655.8,26.1 656.0,25.3 656.3,25.2 656.5,25.8 656.8,27.1 657.0,29.1 657.3,31.7 657.5,35.0 657.8,38.9 658.0,43.2 658.3,48.0 658.5,53.3 658.8,58.8 659.0,64.5 659.3,70.4 659.5,76.3 659.8,82.2 660.0,88.0 660.3,93.6 660.5,99.0 660.8,103.9 661.0,108.4 661.3,112.5 661.5,115.9 661.8,118.8 662.0,121.0 662.3,122.6 662.5,123.4 662.8,123.5 663.0,122.9 663.3,121.6 663.5,119.6 663.8,117.0 664.0,113.7 664.3,109.8 664.5,105.5 664.8,100.7 665.0,95.4 665.3,89.9 665.5,84.2 665.8,78.3 666.0,72.4 666.3,66.5 666.5,60.7 666.7,55.1 667.0,49.7 667.2,44.8 667.5,40.3 667.7,36.2 668.0,32.8 668.2,29.9 668.5,27.7 668.7,26.1 669.0,25.3 669.2,25.2 669.5,25.8 669.7,27.1 670.0,29.1 670.2,31.7 670.5,35.0 670.7,38.9 671.0,43.2 671.2,48.0 671.5,53.3 671.7,58.8 672.0,64.5 672.2,70.4 672.5,76.3 672.7,82.2 673.0,88.0 673.2,93.6 673.5,99.0 673.7,103.9 674.0,108.4 674.2,112.5 674.5,115.9 674.7,118.8 675.0,121.0 675.2,122.6 675.5,123.4 675.7,123.5 676.0,122.9 676.2,121.6 676.5,119.6 676.7,117.0 677.0,113.7 677.2,109.8 677.5,105.5 677.7,100.7 677.9,95.4 678.2,89.9 678.4,84.2 678.7,78.3 678.9,72.4 679.2,66.5 679.4,60.7 679.7,55.1 679.9,49.7 680.2,44.8 680.4,40.3 680.7,36.2 680.9,32.8 681.2,29.9 681.4,27.7 681.7,26.1 681.9,25.3 682.2,25.2 682.4,25.8 682.7,27.1 682.9,29.1 683.2,31.7" fill="none" stroke="#FF5A1C" stroke-width="1.75" stroke-linejoin="round"/></g>
<g clip-path="url(#c2)"><polyline points="35.2,203.7 35.4,203.7 35.6,203.5 35.8,203.4 35.9,203.2 36.1,202.9 36.3,202.6 36.5,202.3 36.7,202.0 36.8,201.7 37.0,201.3 37.2,200.9 37.4,200.6 37.6,200.3 37.7,200.0 37.9,199.7 38.1,199.4 38.3,199.1 38.5,198.8 38.6,198.7 38.8,198.6 39.0,198.5 39.2,198.5 39.4,198.5 39.5,198.5 39.7,198.6 39.9,198.9 40.1,199.3 40.3,199.6 40.4,199.9 40.6,200.3 40.8,200.8 41.0,201.4 41.2,202.0 41.3,202.7 41.5,203.3 41.7,203.8 41.9,204.5 42.1,205.3 42.2,206.0 42.4,206.7 42.6,207.5 42.8,208.3 43.0,209.0 43.1,209.7 43.3,210.4 43.5,211.1 43.7,211.7 43.9,212.3 44.0,212.8 44.2,213.1 44.4,213.4 44.6,213.7 44.8,214.1 44.9,214.3 45.1,214.2 45.3,214.0 45.5,213.9 45.7,213.6 45.8,213.4 46.0,213.1 46.2,212.5 46.4,211.6 46.6,210.7 46.7,210.0 46.9,209.2 47.1,208.2 47.3,207.0 47.5,205.7 47.6,204.4 47.8,203.1 48.0,202.1 48.2,201.1 48.4,199.7 48.5,198.3 48.7,197.1 48.9,195.9 49.1,194.6 49.3,193.3 49.4,192.2 49.6,191.1 49.8,190.1 50.0,189.2 50.2,188.4 50.3,187.7 50.5,187.1 50.7,186.9 50.9,186.7 51.1,186.3 51.2,185.9 51.4,185.9 51.6,186.2 51.8,186.6 52.0,187.2 52.1,187.7 52.3,188.1 52.5,188.7 52.7,189.7 52.9,191.1 53.0,192.3 53.2,193.3 53.4,194.4 53.6,195.7 53.8,197.2 53.9,198.9 54.1,200.8 54.3,202.3 54.5,203.4 54.7,204.8 54.8,206.5 55.0,208.2 55.2,209.8 55.4,211.4 55.6,212.8 55.7,214.0 55.9,215.3 56.1,216.8 56.3,218.0 56.5,218.8 56.6,219.5 56.8,220.3 57.0,221.0 57.2,221.3 57.4,221.5 57.5,222.0 57.7,222.1 57.9,222.0 58.1,221.7 58.3,221.2 58.4,220.6 58.6,219.7 58.8,219.1 59.0,218.4 59.2,217.2 59.3,215.6 59.5,214.1 59.7,212.9 59.9,211.6 60.1,210.0 60.2,208.3 60.4,206.3 60.6,204.2 60.8,202.5 61.0,201.3 61.1,199.8 61.3,197.9 61.5,195.9 61.7,194.1 61.9,192.6 62.0,191.1 62.2,189.7 62.4,188.3 62.6,186.8 62.8,185.4 62.9,184.5 63.1,183.9 63.3,183.2 63.5,182.5 63.7,182.1 63.8,181.9 64.0,181.6 64.2,181.4 64.4,181.6 64.6,182.1 64.7,182.6 64.9,183.5 65.1,184.4 65.3,185.0 65.5,185.6 65.6,187.0 65.8,188.8 66.0,190.4 66.2,191.7 66.4,193.2 66.5,194.8 66.7,196.6 66.9,198.7 67.1,201.0 67.3,202.8 67.4,204.1 67.6,205.6 67.8,207.6 68.0,209.8 68.2,211.6 68.3,213.3 68.5,214.9 68.7,216.3 68.9,217.7 69.0,219.4 69.2,220.8 69.4,221.6 69.6,222.2 69.8,223.1 69.9,223.8 70.1,224.1 70.3,224.3 70.5,224.7 70.7,224.8 70.8,224.4 71.0,223.9 71.2,223.3 71.4,222.4 71.6,221.7 71.7,221.1 71.9,220.1 72.1,218.3 72.3,216.5 72.5,215.1 72.6,213.9 72.8,212.2 73.0,210.3 73.2,208.1 73.4,205.7 73.5,203.7 73.7,202.3 73.9,200.9 74.1,198.8 74.3,196.3 74.4,194.3 74.6,192.7 74.8,191.0 75.0,189.2 75.2,187.6 75.3,186.0 75.5,184.4 75.7,183.2 75.9,182.5 76.1,181.7 76.2,180.8 76.4,180.3 76.6,180.1 76.8,179.7 77.0,179.3 77.1,179.4 77.3,179.9 77.5,180.5 77.7,181.1 77.9,181.9 78.0,182.6 78.2,183.3 78.4,184.7 78.6,186.7 78.8,188.4 78.9,189.6 79.1,190.8 79.3,192.7 79.5,195.0 79.7,197.3 79.8,199.5 80.0,201.4 80.2,202.8 80.4,204.3 80.6,206.5 80.7,209.0 80.9,211.1 81.1,212.6 81.3,214.2 81.5,216.1 81.6,217.9 81.8,219.5 82.0,221.0 82.2,222.1 82.4,222.7 82.5,223.4 82.7,224.3 82.9,225.0 83.1,225.2 83.3,225.4 83.4,225.9 83.6,225.9 83.8,225.3 84.0,224.5 84.2,224.0 84.3,223.4 84.5,222.6 84.7,221.4 84.9,220.0 85.1,218.1 85.2,216.3 85.4,215.1 85.6,214.1 85.8,212.1 86.0,209.6 86.1,207.3 86.3,205.4 86.5,203.6 86.7,201.9 86.9,200.1 87.0,197.8 87.2,195.4 87.4,193.5 87.6,192.0 87.8,190.3 87.9,188.2 88.1,186.6 88.3,185.1 88.5,183.7 88.7,182.4 88.8,181.5 89.0,180.9 89.2,180.3 89.4,179.9 89.6,179.7 89.7,179.2 89.9,178.6 90.1,178.6 90.3,179.5 90.5,180.4 90.6,180.8 90.8,181.3 91.0,182.3 91.2,183.4 91.4,185.1 91.5,187.1 91.7,188.8 91.9,189.8 92.1,191.0 92.3,193.1 92.4,195.7 92.6,197.9 92.8,199.8 93.0,201.7 93.2,203.4 93.3,205.1 93.5,207.4 93.7,209.7 93.9,211.6 94.1,213.2 94.2,215.0 94.4,217.0 94.6,218.7 94.8,219.9 95.0,221.3 95.1,222.7 95.3,223.5 95.5,224.0 95.7,224.5 95.9,225.0 96.0,225.4 96.2,225.7 96.4,226.2 96.6,226.2 96.8,225.3 96.9,224.3 97.1,223.8 97.3,223.4 97.5,222.5 97.7,221.0 97.8,219.3 98.0,217.5 98.2,215.9 98.4,214.8 98.6,213.7 98.7,211.6 98.9,208.8 99.1,206.5 99.3,204.8 99.5,203.1 99.6,201.4 99.8,199.6 100.0,197.2 100.2,194.6 100.4,192.7 100.5,191.4 100.7,189.9 100.9,187.9 101.1,186.1 101.3,184.5 101.4,183.2 101.6,182.1 101.8,181.7 102.0,181.1 102.2,180.2 102.3,179.7 102.5,179.6 102.7,179.2 102.9,178.7 103.1,178.9 103.2,179.8 103.4,180.5 103.6,181.1 103.8,181.9 104.0,182.9 104.1,184.1 104.3,185.7 104.5,187.7 104.7,189.3 104.9,190.3 105.0,191.6 105.2,193.8 105.4,196.3 105.6,198.6 105.8,200.6 105.9,202.3 106.1,203.6 106.3,205.5 106.5,208.3 106.7,210.7 106.8,212.2 107.0,213.5 107.2,215.3 107.4,217.2 107.6,218.8 107.7,220.5 107.9,221.9 108.1,222.6 108.3,223.1 108.5,223.8 108.6,224.7 108.8,225.0 109.0,225.2 109.2,225.7 109.4,226.1 109.5,225.9 109.7,225.2 109.9,224.5 110.1,223.8 110.3,223.0 110.4,222.2 110.6,221.3 110.8,219.7 111.0,217.4 111.2,215.8 111.3,214.9 111.5,213.8 111.7,211.8 111.9,209.5 112.1,207.2 112.2,204.9 112.4,203.2 112.6,202.1 112.8,200.4 113.0,197.8 113.1,195.2 113.3,193.5 113.5,192.1 113.7,190.4 113.8,188.7 114.0,187.0 114.2,185.1 114.4,183.5 114.6,182.9 114.7,182.4 114.9,181.5 115.1,180.6 115.3,180.2 115.5,179.9 115.6,179.3 115.8,178.9 116.0,179.1 116.2,179.5 116.4,180.0 116.5,180.7 116.7,181.6 116.9,182.3 117.1,183.1 117.3,184.6 117.4,186.7 117.6,188.4 117.8,189.3 118.0,190.5 118.2,192.2 118.3,194.2 118.5,196.5 118.7,199.1 118.9,201.0 119.1,202.2 119.2,203.6 119.4,205.9 119.6,208.6 119.8,210.6 120.0,212.2 120.1,213.8 120.3,215.4 120.5,216.9 120.7,218.9 120.9,220.7 121.0,221.8 121.2,222.2 121.4,222.8 121.6,223.8 121.8,224.5 121.9,224.8 122.1,225.3 122.3,225.8 122.5,225.8 122.7,225.5 122.8,225.2 123.0,224.6 123.2,223.6 123.4,222.8 123.6,222.3 123.7,221.0 123.9,219.0 124.1,217.2 124.3,216.0 124.5,214.9 124.6,213.5 124.8,211.6 125.0,209.4 125.2,206.9 125.4,204.7 125.5,203.3 125.7,202.2 125.9,200.2 126.1,197.5 126.3,195.2 126.4,193.4 126.6,191.8 126.8,190.4 127.0,189.0 127.2,187.1 127.3,184.9 127.5,183.5 127.7,183.0 127.9,182.5 128.1,181.6 128.2,180.9 128.4,180.3 128.6,179.6 128.8,179.2 129.0,179.3 129.1,179.5 129.3,179.5 129.5,179.9 129.7,180.9 129.9,181.8 130.0,182.4 130.2,183.5 130.4,185.2 130.6,186.7 130.8,188.1 130.9,189.6 131.1,191.1 131.3,192.4 131.5,194.2 131.7,196.8 131.8,199.4 132.0,201.1 132.2,202.3 132.4,203.9 132.6,205.9 132.7,208.1 132.9,210.6 133.1,212.8 133.3,214.2 133.5,215.1 133.6,216.7 133.8,219.0 134.0,220.9 134.2,221.7 134.4,222.1 134.5,222.7 134.7,223.2 134.9,224.0 135.1,225.1 135.3,225.8 135.4,225.7 135.6,225.2 135.8,225.2 136.0,225.1 136.2,224.3 136.3,223.3 136.5,222.6 136.7,221.7 136.9,220.3 137.1,218.9 137.2,217.5 137.4,215.8 137.6,214.1 137.8,212.9 138.0,211.7 138.1,209.5 138.3,206.7 138.5,204.5 138.7,203.1 138.9,201.7 139.0,200.0 139.2,198.1 139.4,195.7 139.6,193.1 139.8,191.2 139.9,190.3 140.1,189.1 140.3,187.0 140.5,185.1 140.7,183.9 140.8,183.1 141.0,182.3 141.2,181.9 141.4,181.5 141.6,180.7 141.7,179.8 141.9,179.6 142.1,179.7 142.3,179.7 142.5,179.8 142.6,180.4 142.8,181.5 143.0,182.4 143.2,182.9 143.4,183.8 143.5,185.4 143.7,187.1 143.9,188.7 144.1,190.4 144.3,191.7 144.4,192.8 144.6,194.4 144.8,197.1 145.0,199.9 145.2,201.6 145.3,202.8 145.5,204.2 145.7,206.3 145.9,208.5 146.1,210.8 146.2,212.9 146.4,214.4 146.6,215.5 146.8,217.0 147.0,219.0 147.1,220.7 147.3,221.4 147.5,222.0 147.7,222.9 147.9,223.5 148.0,223.8 148.2,224.3 148.4,224.9 148.6,225.3 148.8,225.2 148.9,225.0 149.1,224.5 149.3,223.3 149.5,222.3 149.7,221.7 149.8,221.3 150.0,219.8 150.2,217.7 150.4,215.9 150.6,214.7 150.7,213.5 150.9,212.3 151.1,210.7 151.3,208.4 151.5,205.6 151.6,203.4 151.8,202.3 152.0,201.0 152.2,198.9 152.4,196.6 152.5,194.4 152.7,192.4 152.9,190.8 153.1,189.7 153.3,188.5 153.4,186.4 153.6,184.6 153.8,183.8 154.0,183.3 154.2,182.5 154.3,181.8 154.5,181.3 154.7,180.8 154.9,180.1 155.1,179.8 155.2,180.0 155.4,180.1 155.6,180.4 155.8,181.2 156.0,182.5 156.1,183.3 156.3,183.8 156.5,184.8 156.7,186.6 156.9,188.3 157.0,189.7 157.2,191.0 157.4,192.3 157.6,193.4 157.8,195.1 157.9,197.8 158.1,200.5 158.3,202.2 158.5,203.2 158.6,204.7 158.8,206.6 159.0,208.7 159.2,211.0 159.4,213.2 159.5,214.6 159.7,215.3 159.9,216.5 160.1,218.5 160.3,220.2 160.4,221.3 160.6,221.7 160.8,222.4 161.0,223.0 161.2,223.3 161.3,223.9 161.5,224.6 161.7,224.9 161.9,224.7 162.1,224.6 162.2,224.5 162.4,223.7 162.6,222.3 162.8,221.1 163.0,220.5 163.1,219.9 163.3,218.5 163.5,216.8 163.7,215.1 163.9,213.5 164.0,212.2 164.2,211.3 164.4,210.0 164.6,207.7 164.8,204.7 164.9,202.5 165.1,201.3 165.3,200.0 165.5,198.3 165.7,196.2 165.8,194.2 166.0,192.1 166.2,190.4 166.4,189.3 166.6,188.3 166.7,186.7 166.9,184.9 167.1,183.9 167.3,183.4 167.5,182.6 167.6,181.7 167.8,181.4 168.0,181.2 168.2,180.7 168.4,180.3 168.5,180.3 168.7,180.3 168.9,180.4 169.1,181.2 169.3,182.9 169.4,184.1 169.6,184.5 169.8,185.0 170.0,186.4 170.2,188.2 170.3,189.9 170.5,191.6 170.7,193.0 170.9,194.0 171.1,195.1 171.2,197.3 171.4,200.3 171.6,202.5 171.8,204.0 172.0,205.4 172.1,207.1 172.3,208.9 172.5,210.9 172.7,213.1 172.9,214.8 173.0,215.9 173.2,217.1 173.4,218.7 173.6,220.1 173.8,220.9 173.9,221.6 174.1,222.7 174.3,223.6 174.5,223.8 174.7,223.9 174.8,224.2 175.0,224.4 175.2,224.4 175.4,224.8 175.6,224.8 175.7,223.6 175.9,221.6 176.1,220.5 176.3,220.1 176.5,219.5 176.6,218.2 176.8,216.6 177.0,214.7 177.2,212.7 177.4,211.4 177.5,210.7 177.7,209.3 177.9,206.7 178.1,204.0 178.3,202.0 178.4,200.6 178.6,199.1 178.8,197.3 179.0,195.5 179.2,193.5 179.3,191.4 179.5,189.7 179.7,188.5 179.9,187.1 180.1,185.5 180.2,184.6 180.4,184.1 180.6,183.1 180.8,181.8 181.0,181.1 181.1,181.1 181.3,181.0 181.5,180.7 181.7,180.5 181.9,180.1 182.0,179.8 182.2,180.3 182.4,182.1 182.6,183.8 182.8,184.4 182.9,184.6 183.1,185.5 183.3,187.3 183.5,189.2 183.7,190.9 183.8,192.4 184.0,193.4 184.2,194.4 184.4,196.3 184.6,199.1 184.7,201.7 184.9,203.2 185.1,204.5 185.3,206.3 185.5,208.3 185.6,210.0 185.8,211.9 186.0,213.9 186.2,215.6 186.4,216.9 186.5,218.3 186.7,219.7 186.9,220.4 187.1,221.1 187.3,222.3 187.4,223.4 187.6,223.8 187.8,223.6 188.0,223.6 188.2,224.3 188.3,224.9 188.5,225.2 188.7,224.9 188.9,223.9 189.1,222.2 189.2,220.9 189.4,220.6 189.6,220.4 189.8,219.0 190.0,217.0 190.1,215.2 190.3,213.8 190.5,212.4 190.7,211.2 190.9,209.9 191.0,207.7 191.2,205.0 191.4,202.8 191.6,201.6 191.8,200.1 191.9,198.0 192.1,196.0 192.3,194.5 192.5,192.6 192.7,190.4 192.8,188.7 193.0,187.5 193.2,186.2 193.4,185.0 193.6,184.3 193.7,183.5 193.9,182.2 194.1,181.1 194.3,181.0 194.5,181.4 194.6,181.2 194.8,180.1 195.0,179.5 195.2,179.7 195.4,180.4 195.5,181.7 195.7,183.2 195.9,183.9 196.1,183.9 196.3,184.6 196.4,186.5 196.6,188.8 196.8,190.3 197.0,191.2 197.2,192.5 197.3,194.0 197.5,195.9 197.7,198.1 197.9,200.6 198.1,202.3 198.2,203.6 198.4,205.2 198.6,207.5 198.8,209.4 199.0,210.9 199.1,212.8 199.3,215.0 199.5,216.7 199.7,217.8 199.9,218.8 200.0,220.1 200.2,221.0 200.4,221.9 200.6,223.2 200.8,224.2 200.9,224.0 201.1,223.5 201.3,224.0 201.5,225.1 201.7,225.8 201.8,225.5 202.0,224.5 202.2,223.1 202.4,221.7 202.6,221.0 202.7,220.8 202.9,220.2 203.1,218.1 203.3,215.9 203.4,214.7 203.6,213.7 203.8,212.3 204.0,210.7 204.2,208.8 204.3,206.4 204.5,203.7 204.7,201.8 204.9,200.7 205.1,199.0 205.2,196.7 205.4,194.5 205.6,192.9 205.8,191.2 206.0,189.3 206.1,187.7 206.3,186.6 206.5,185.3 206.7,183.9 206.9,182.8 207.0,182.0 207.2,181.0 207.4,180.2 207.6,180.3 207.8,180.5 207.9,179.7 208.1,178.4 208.3,178.2 208.5,179.2 208.7,180.5 208.8,181.6 209.0,182.6 209.2,183.1 209.4,183.4 209.6,184.6 209.7,187.0 209.9,189.4 210.1,190.4 210.3,190.7 210.5,191.9 210.6,194.0 210.8,196.5 211.0,199.1 211.2,201.6 211.4,203.1 211.5,204.1 211.7,205.9 211.9,208.7 212.1,211.2 212.3,212.6 212.4,214.0 212.6,216.0 212.8,217.7 213.0,218.8 213.2,220.1 213.3,221.6 213.5,222.8 213.7,223.6 213.9,224.5 214.1,225.2 214.2,225.2 214.4,225.1 214.6,225.9 214.8,227.2 215.0,227.6 215.1,226.4 215.3,225.0 215.5,224.0 215.7,223.1 215.9,222.7 216.0,222.3 216.2,220.9 216.4,218.2 216.6,215.9 216.8,215.0 216.9,214.6 217.1,213.3 217.3,211.2 217.5,208.8 217.7,206.2 217.8,203.8 218.0,202.0 218.2,200.9 218.4,199.2 218.6,196.4 218.7,193.8 218.9,192.2 219.1,190.8 219.3,188.8 219.5,186.8 219.6,185.6 219.8,184.4 220.0,182.7 220.2,181.5 220.4,180.8 220.5,180.1 220.7,179.1 220.9,179.0 221.1,179.3 221.3,178.7 221.4,177.2 221.6,176.6 221.8,177.6 222.0,179.1 222.2,180.1 222.3,181.0 222.5,181.7 222.7,182.0 222.9,183.3 223.1,186.1 223.2,188.9 223.4,189.8 223.6,189.9 223.8,191.1 224.0,193.4 224.1,196.1 224.3,199.1 224.5,201.8 224.7,203.1 224.9,203.9 225.0,205.8 225.2,209.2 225.4,211.9 225.6,213.5 225.8,214.9 225.9,216.8 226.1,218.4 226.3,219.9 226.5,221.7 226.7,223.5 226.8,224.3 227.0,224.6 227.2,225.4 227.4,226.4 227.6,226.4 227.7,226.5 227.9,227.5 228.1,228.8 228.3,228.7 228.5,227.5 228.6,226.4 228.8,225.3 229.0,224.2 229.2,223.6 229.4,223.2 229.5,221.5 229.7,218.3 229.9,215.9 230.1,215.2 230.3,214.9 230.4,213.6 230.6,211.0 230.8,208.0 231.0,205.1 231.2,202.7 231.3,201.5 231.5,200.6 231.7,198.3 231.9,194.6 232.1,191.7 232.2,190.5 232.4,189.4 232.6,187.4 232.8,185.5 233.0,183.9 233.1,182.1 233.3,180.4 233.5,179.6 233.7,179.5 233.9,178.8 234.0,177.7 234.2,177.3 234.4,177.4 234.6,176.8 234.8,175.8 234.9,176.1 235.1,177.3 235.3,178.1 235.5,178.7 235.7,179.6 235.8,180.6 236.0,181.7 236.2,183.9 236.4,187.2 236.6,189.4 236.7,189.6 236.9,189.9 237.1,192.0 237.3,195.0 237.5,197.8 237.6,200.7 237.8,202.8 238.0,203.7 238.2,205.0 238.4,208.3 238.5,212.2 238.7,214.6 238.9,215.6 239.1,216.7 239.3,218.5 239.4,220.4 239.6,222.5 239.8,224.9 240.0,226.0 240.2,225.9 240.3,226.4 240.5,227.6 240.7,228.3 240.9,228.0 241.1,228.3 241.2,229.6 241.4,229.9 241.6,228.5 241.8,227.3 242.0,227.0 242.1,226.4 242.3,225.5 242.5,224.4 242.7,222.0 242.9,218.5 243.0,216.0 243.2,215.8 243.4,215.8 243.6,213.6 243.8,210.2 243.9,207.3 244.1,205.0 244.3,203.0 244.5,201.9 244.7,200.4 244.8,197.1 245.0,192.7 245.2,189.9 245.4,189.4 245.6,188.8 245.7,186.9 245.9,184.3 246.1,181.9 246.3,179.8 246.5,178.4 246.6,178.2 246.8,178.2 247.0,176.9 247.2,175.8 247.4,175.9 247.5,176.1 247.7,175.5 247.9,175.3 248.1,176.0 248.2,176.6 248.4,176.6 248.6,177.1 248.8,178.5 249.0,179.9 249.1,181.5 249.3,184.9 249.5,187.9 249.7,188.8 249.9,188.8 250.0,190.5 250.2,193.8 250.4,196.9 250.6,199.4 250.8,201.5 250.9,202.5 251.1,203.8 251.3,207.2 251.5,211.9 251.7,214.8 251.8,215.5 252.0,216.3 252.2,218.5 252.4,220.8 252.6,223.0 252.7,225.3 252.9,227.1 253.1,227.6 253.3,227.7 253.5,228.8 253.6,230.0 253.8,229.8 254.0,229.5 254.2,230.5 254.4,231.4 254.5,230.5 254.7,229.0 254.9,228.7 255.1,228.5 255.3,227.8 255.4,226.7 255.6,224.6 255.8,221.3 256.0,217.6 256.2,216.3 256.3,216.8 256.5,215.8 256.7,212.4 256.9,208.8 257.1,206.2 257.2,204.1 257.4,202.6 257.6,201.2 257.8,198.4 258.0,193.7 258.1,189.8 258.3,188.7 258.5,188.3 258.7,186.4 258.9,183.8 259.0,181.7 259.2,179.5 259.4,177.5 259.6,176.6 259.8,176.3 259.9,175.3 260.1,174.1 260.3,174.2 260.5,174.5 260.7,173.3 260.8,172.3 261.0,173.2 261.2,174.8 261.4,175.2 261.6,175.0 261.7,175.8 261.9,177.0 262.1,178.8 262.3,182.5 262.5,186.5 262.6,187.7 262.8,187.0 263.0,187.9 263.2,191.5 263.4,195.3 263.5,198.0 263.7,200.2 263.9,201.8 264.1,203.3 264.3,206.0 264.4,210.8 264.6,215.1 264.8,216.4 265.0,216.7 265.2,218.6 265.3,221.2 265.5,223.6 265.7,225.7 265.9,227.9 266.1,229.0 266.2,229.3 266.4,230.1 266.6,231.5 266.8,231.9 267.0,231.5 267.1,232.3 267.3,233.7 267.5,233.3 267.7,231.7 267.9,231.3 268.0,230.9 268.2,229.9 268.4,228.8 268.6,227.3 268.8,224.2 268.9,220.0 269.1,218.1 269.3,218.2 269.5,217.6 269.7,214.6 269.8,211.0 270.0,207.7 270.2,204.6 270.4,203.0 270.6,202.5 270.7,200.0 270.9,194.6 271.1,190.1 271.3,188.4 271.5,188.0 271.6,186.2 271.8,184.0 272.0,181.5 272.2,178.1 272.4,175.3 272.5,174.7 272.7,175.0 272.9,174.1 273.1,172.4 273.3,172.1 273.4,172.4 273.6,171.7 273.8,170.6 274.0,170.8 274.2,171.7 274.3,172.4 274.5,172.8 274.7,174.1 274.9,174.9 275.1,175.7 275.2,178.5 275.4,183.3 275.6,186.4 275.8,186.6 276.0,186.6 276.1,188.9 276.3,192.8 276.5,196.5 276.7,199.5 276.9,201.7 277.0,202.6 277.2,204.4 277.4,208.9 277.6,214.2 277.8,216.6 277.9,216.8 278.1,218.2 278.3,221.1 278.5,224.2 278.7,226.9 278.8,229.3 279.0,231.0 279.2,231.4 279.4,231.5 279.6,233.1 279.7,234.2 279.9,233.6 280.1,233.8 280.3,235.2 280.5,235.6 280.6,234.0 280.8,232.7 281.0,233.0 281.2,233.3 281.4,232.2 281.5,229.8 281.7,227.1 281.9,223.2 282.1,220.1 282.3,219.1 282.4,219.5 282.6,217.4 282.8,212.5 283.0,208.2 283.2,206.5 283.3,205.3 283.5,203.2 283.7,200.5 283.9,196.4 284.1,191.1 284.2,187.8 284.4,187.5 284.6,187.0 284.8,183.8 285.0,180.1 285.1,177.5 285.3,175.5 285.5,173.6 285.7,172.5 285.9,172.4 286.0,171.3 286.2,169.8 286.4,169.7 286.6,170.1 286.8,169.1 286.9,168.1 287.1,169.3 287.3,171.1 287.5,171.2 287.7,170.2 287.8,170.8 288.0,173.4 288.2,176.9 288.4,180.4 288.6,183.9 288.7,184.9 288.9,184.5 289.1,186.0 289.3,190.9 289.5,195.7 289.6,198.0 289.8,199.7 290.0,201.7 290.2,203.8 290.4,207.5 290.5,212.9 290.7,216.7 290.9,217.6 291.1,218.6 291.3,221.8 291.4,225.1 291.6,227.1 291.8,228.9 292.0,231.7 292.1,233.6 292.3,234.0 292.5,234.4 292.7,235.3 292.9,235.7 293.0,235.8 293.2,237.3 293.4,238.6 293.6,237.4 293.8,234.7 293.9,234.4 294.1,235.4 294.3,235.1 294.5,233.1 294.7,230.1 294.8,225.9 295.0,221.7 295.2,220.4 295.4,221.1 295.6,219.8 295.7,215.1 295.9,210.5 296.1,207.8 296.3,205.9 296.5,203.9 296.6,202.0 296.8,198.7 297.0,193.1 297.2,187.8 297.4,186.1 297.5,185.9 297.7,183.7 297.9,180.4 298.1,177.7 298.3,174.7 298.4,172.1 298.6,170.9 298.8,171.0 299.0,169.7 299.2,167.9 299.3,167.6 299.5,168.3 299.7,167.2 299.9,165.6 300.1,166.3 300.2,168.2 300.4,169.2 300.6,168.8 300.8,169.2 301.0,170.9 301.1,173.2 301.3,177.1 301.5,181.8 301.7,184.2 301.9,183.8 302.0,184.1 302.2,187.7 302.4,192.3 302.6,196.1 302.8,199.1 302.9,201.0 303.1,202.4 303.3,205.3 303.5,211.2 303.7,217.2 303.8,219.3 304.0,219.1 304.2,220.5 304.4,224.1 304.6,227.7 304.7,231.0 304.9,233.6 305.1,234.0 305.3,233.6 305.5,234.9 305.6,238.1 305.8,239.5 306.0,238.6 306.2,238.2 306.4,239.3 306.5,239.3 306.7,238.2 306.9,237.7 307.1,237.9 307.3,236.7 307.4,234.8 307.6,232.8 307.8,229.2 308.0,224.4 308.2,221.9 308.3,222.0 308.5,221.6 308.7,217.8 308.9,213.0 309.1,209.4 309.2,206.8 309.4,204.9 309.6,203.5 309.8,200.3 310.0,194.0 310.1,187.9 310.3,185.5 310.5,185.8 310.7,184.2 310.9,180.6 311.0,177.2 311.2,174.1 311.4,171.3 311.6,169.7 311.8,169.9 311.9,169.4 312.1,166.7 312.3,164.7 312.5,165.2 312.7,165.9 312.8,165.0 313.0,164.5 313.2,165.5 313.4,165.9 313.6,165.8 313.7,167.0 313.9,169.4 314.1,171.7 314.3,174.5 314.5,178.5 314.6,181.8 314.8,181.8 315.0,182.3 315.2,186.1 315.4,191.4 315.5,194.8 315.7,196.6 315.9,198.6 316.1,201.1 316.3,204.8 316.4,210.9 316.6,217.0 316.8,219.3 317.0,218.7 317.2,220.0 317.3,224.3 317.5,228.6 317.7,231.8 317.9,234.0 318.1,234.6 318.2,234.5 318.4,236.0 318.6,239.5 318.8,241.5 319.0,240.9 319.1,239.9 319.3,241.0 319.5,241.8 319.7,240.4 319.9,239.4 320.0,240.0 320.2,239.4 320.4,237.0 320.6,234.0 320.8,230.9 320.9,227.3 321.1,224.7 321.3,224.6 321.5,223.9 321.7,219.8 321.8,214.1 322.0,210.8 322.2,209.7 322.4,207.7 322.6,204.4 322.7,199.9 322.9,194.0 323.1,188.3 323.3,185.9 323.5,186.5 323.6,185.6 323.8,181.0 324.0,175.6 324.2,172.4 324.4,170.6 324.5,170.0 324.7,170.0 324.9,168.9 325.1,165.2 325.3,162.0 325.4,162.1 325.6,164.3 325.8,164.4 326.0,162.9 326.2,162.6 326.3,162.5 326.5,162.3 326.7,164.5 326.9,167.9 327.1,170.1 327.2,172.1 327.4,175.4 327.6,178.9 327.8,180.2 328.0,180.4 328.1,183.6 328.3,188.5 328.5,192.3 328.7,195.1 328.9,197.9 329.0,200.3 329.2,203.1 329.4,209.1 329.6,216.1 329.8,219.1 329.9,218.9 330.1,220.0 330.3,223.4 330.5,228.0 330.7,232.0 330.8,235.6 331.0,236.8 331.2,235.6 331.4,236.0 331.6,240.1 331.7,243.6 331.9,243.5 332.1,242.0 332.3,242.3 332.5,243.1 332.6,242.8 332.8,242.8 333.0,243.4 333.2,242.0 333.4,239.0 333.5,236.4 333.7,234.4 333.9,230.9 334.1,226.7 334.3,224.6 334.4,224.5 334.6,223.2 334.8,218.3 335.0,212.7 335.2,209.8 335.3,208.3 335.5,205.5 335.7,201.7 335.9,197.0 336.1,190.8 336.2,185.8 336.4,184.9 336.6,185.6 336.8,182.9 336.9,176.8 337.1,171.4 337.3,169.1 337.5,168.3 337.7,167.5 337.8,166.7 338.0,165.2 338.2,162.3 338.4,160.2 338.6,160.9 338.7,162.7 338.9,161.7 339.1,160.1 339.3,160.4 339.5,162.2 339.6,162.5 339.8,162.8 340.0,166.0 340.2,170.2 340.4,173.2 340.5,176.2 340.7,178.9 340.9,180.2 341.1,180.9 341.3,184.7 341.4,191.5 341.6,195.7 341.8,196.6 342.0,197.9 342.2,201.9 342.3,207.1 342.5,212.6 342.7,217.9 342.9,221.0 343.1,220.9 343.2,221.6 343.4,226.4 343.6,232.8 343.8,236.2 344.0,237.1 344.1,238.2 344.3,239.5 344.5,240.3 344.7,242.1 344.9,244.2 345.0,244.4 345.2,243.7 345.4,243.8 345.6,245.2 345.8,244.6 345.9,243.1 346.1,242.6 346.3,243.6 346.5,242.1 346.7,237.2 346.8,232.4 347.0,229.0 347.2,226.6 347.4,225.5 347.6,225.1 347.7,221.1 347.9,214.0 348.1,209.5 348.3,208.7 348.5,207.9 348.6,204.3 348.8,199.0 349.0,193.3 349.2,187.5 349.4,184.0 349.5,183.7 349.7,183.3 349.9,179.1 350.1,172.7 350.3,168.9 350.4,167.8 350.6,166.1 350.8,164.2 351.0,163.4 351.2,162.8 351.3,160.8 351.5,159.8 351.7,160.6 351.9,160.3 352.1,158.8 352.2,159.5 352.4,161.9 352.6,162.1 352.8,160.6 353.0,161.6 353.1,166.0 353.3,170.9 353.5,174.4 353.7,177.5 353.9,179.2 354.0,179.3 354.2,182.0 354.4,188.5 354.6,194.5 354.8,196.8 354.9,197.3 355.1,199.8 355.3,204.4 355.5,209.9 355.7,215.9 355.8,220.7 356.0,222.2 356.2,221.8 356.4,224.0 356.6,230.5 356.7,236.5 356.9,238.6 357.1,238.7 357.3,240.3 357.5,242.2 357.6,243.3 357.8,244.3 358.0,246.1 358.2,245.8 358.4,244.3 358.5,244.6 358.7,246.1 358.9,245.4 359.1,243.9 359.3,243.7 359.4,243.6 359.6,240.2 359.8,235.5 360.0,232.2 360.2,229.5 360.3,226.3 360.5,224.5 360.7,223.1 360.9,218.6 361.1,211.7 361.2,207.5 361.4,206.9 361.6,205.6 361.8,201.5 362.0,196.3 362.1,190.8 362.3,185.5 362.5,182.5 362.7,182.3 362.9,181.8 363.0,176.9 363.2,170.1 363.4,166.4 363.6,165.5 363.8,164.7 363.9,163.6 364.1,162.5 364.3,161.4 364.5,159.5 364.7,158.8 364.8,160.4 365.0,161.4 365.2,160.0 365.4,159.4 365.6,161.1 365.7,162.5 365.9,162.5 366.1,163.3 366.3,167.8 366.5,172.9 366.6,176.3 366.8,178.5 367.0,180.4 367.2,182.0 367.4,185.0 367.5,191.1 367.7,197.0 367.9,198.6 368.1,198.2 368.3,201.2 368.4,207.9 368.6,213.9 368.8,218.2 369.0,221.4 369.2,222.7 369.3,223.2 369.5,226.7 369.7,232.9 369.9,237.4 370.1,238.2 370.2,238.3 370.4,240.3 370.6,242.2 370.8,242.9 371.0,243.9 371.1,245.0 371.3,244.8 371.5,244.4 371.7,244.4 371.9,244.3 372.0,243.1 372.2,241.7 372.4,241.9 372.6,242.1 372.8,238.6 372.9,232.1 373.1,227.1 373.3,225.9 373.5,225.5 373.7,223.3 373.8,219.8 374.0,215.1 374.2,209.8 374.4,205.9 374.6,205.6 374.7,204.6 374.9,199.1 375.1,191.7 375.3,187.2 375.5,185.2 375.6,183.3 375.8,180.4 376.0,177.7 376.2,174.4 376.4,170.1 376.5,167.2 376.7,166.4 376.9,165.1 377.1,162.6 377.3,162.0 377.4,163.0 377.6,162.3 377.8,160.0 378.0,159.2 378.2,160.8 378.3,162.5 378.5,163.1 378.7,163.6 378.9,163.5 379.1,163.0 379.2,165.5 379.4,172.3 379.6,178.3 379.8,179.6 380.0,179.7 380.1,181.7 380.3,185.0 380.5,189.2 380.7,194.8 380.9,198.3 381.0,199.2 381.2,200.6 381.4,205.5 381.6,212.2 381.7,216.5 381.9,219.1 382.1,221.8 382.3,224.7 382.5,226.7 382.6,229.6 382.8,233.8 383.0,236.5 383.2,237.4 383.4,238.9 383.5,241.5 383.7,242.3 383.9,241.2 384.1,242.0 384.3,244.1 384.4,244.7 384.6,243.5 384.8,242.5 385.0,241.9 385.2,240.7 385.3,240.1 385.5,240.8 385.7,239.2 385.9,233.4 386.1,227.3 386.2,224.8 386.4,224.0 386.6,222.5 386.8,220.3 387.0,216.4 387.1,210.5 387.3,205.9 387.5,204.8 387.7,204.5 387.9,200.6 388.0,194.1 388.2,189.0 388.4,185.8 388.6,183.0 388.8,181.1 388.9,180.0 389.1,176.6 389.3,171.5 389.5,168.1 389.7,167.6 389.8,166.6 390.0,164.4 390.2,163.4 390.4,163.5 390.6,162.9 390.7,161.6 390.9,162.0 391.1,162.5 391.3,162.3 391.5,162.2 391.6,164.1 391.8,165.8 392.0,165.5 392.2,166.2 392.4,170.8 392.5,176.4 392.7,179.9 392.9,182.0 393.1,183.7 393.3,184.7 393.4,186.9 393.6,192.4 393.8,198.9 394.0,201.8 394.2,201.6 394.3,203.6 394.5,208.9 394.7,214.8 394.9,219.0 395.1,222.1 395.2,223.8 395.4,224.4 395.6,226.5 395.8,231.6 396.0,236.3 396.1,237.9 396.3,238.1 396.5,239.7 396.7,241.1 396.9,241.0 397.0,241.4 397.2,242.6 397.4,242.3 397.6,241.2 397.8,241.6 397.9,241.7 398.1,239.9 398.3,238.3 398.5,238.5 398.7,238.4 398.8,234.7 399.0,229.5 399.2,225.5 399.4,222.6 399.6,220.4 399.7,219.5 399.9,218.1 400.1,212.8 400.3,206.3 400.5,203.6 400.6,203.6 400.8,201.7 401.0,196.6 401.2,191.3 401.4,186.4 401.5,182.5 401.7,181.3 401.9,181.5 402.1,179.3 402.3,173.6 402.4,168.9 402.6,167.5 402.8,167.0 403.0,166.1 403.2,165.3 403.3,164.6 403.5,163.1 403.7,162.0 403.9,162.9 404.1,164.4 404.2,163.9 404.4,163.3 404.6,164.7 404.8,166.6 405.0,166.5 405.1,166.8 405.3,170.3 405.5,174.9 405.7,178.4 405.9,181.6 406.0,184.6 406.2,185.4 406.4,186.7 406.6,191.6 406.8,198.2 406.9,201.5 407.1,202.4 407.3,204.0 407.5,207.4 407.7,212.3 407.8,217.5 408.0,222.1 408.2,223.6 408.4,223.2 408.6,225.0 408.7,230.3 408.9,235.1 409.1,237.1 409.3,238.3 409.5,239.7 409.6,240.0 409.8,240.2 410.0,241.8 410.2,242.6 410.4,241.3 410.5,240.6 410.7,241.5 410.9,241.5 411.1,239.4 411.3,237.9 411.4,238.6 411.6,237.5 411.8,234.5 412.0,231.4 412.2,227.6 412.3,222.8 412.5,219.7 412.7,219.5 412.9,218.8 413.1,214.1 413.2,208.0 413.4,204.2 413.6,201.8 413.8,199.8 414.0,198.0 414.1,194.5 414.3,188.3 414.5,182.5 414.7,180.6 414.9,181.5 415.0,179.9 415.2,175.1 415.4,170.4 415.6,167.4 415.8,165.8 415.9,166.0 416.1,167.0 416.3,165.8 416.5,162.7 416.7,161.3 416.8,163.2 417.0,164.8 417.2,164.5 417.4,164.1 417.6,164.9 417.7,165.1 417.9,165.4 418.1,168.2 418.3,171.5 418.5,174.0 418.6,176.6 418.8,180.6 419.0,184.3 419.2,185.7 419.4,187.1 419.5,191.2 419.7,195.8 419.9,199.1 420.1,201.9 420.3,205.1 420.4,207.7 420.6,210.7 420.8,216.1 421.0,221.5 421.2,223.4 421.3,222.7 421.5,224.5 421.7,229.5 421.9,234.5 422.1,237.4 422.2,239.2 422.4,239.0 422.6,237.7 422.8,238.5 423.0,242.0 423.1,244.4 423.3,242.5 423.5,239.8 423.7,239.2 423.9,240.2 424.0,240.5 424.2,240.4 424.4,239.6 424.6,236.9 424.8,232.8 424.9,230.2 425.1,228.6 425.3,225.5 425.5,221.4 425.7,219.2 425.8,217.9 426.0,214.0 426.2,208.8 426.4,205.6 426.5,203.3 426.7,200.5 426.9,197.6 427.1,194.3 427.3,189.3 427.4,183.9 427.6,181.5 427.8,182.0 428.0,181.0 428.2,176.3 428.3,170.9 428.5,167.6 428.7,166.0 428.9,166.1 429.1,167.1 429.2,166.8 429.4,163.9 429.6,161.2 429.8,162.0 430.0,164.9 430.1,165.4 430.3,164.0 430.5,163.7 430.7,164.4 430.9,165.7 431.0,167.9 431.2,171.4 431.4,174.9 431.6,177.1 431.8,179.7 431.9,183.2 432.1,185.4 432.3,186.2 432.5,189.5 432.7,195.4 432.8,200.0 433.0,202.0 433.2,203.5 433.4,206.5 433.6,210.7 433.7,215.2 433.9,220.1 434.1,223.5 434.3,223.7 434.5,223.9 434.6,227.7 434.8,233.8 435.0,237.8 435.2,238.0 435.4,237.6 435.5,237.7 435.7,238.3 435.9,240.1 436.1,243.0 436.3,243.1 436.4,240.6 436.6,239.8 436.8,241.2 437.0,241.6 437.2,240.2 437.3,238.7 437.5,237.2 437.7,233.8 437.9,230.0 438.1,227.6 438.2,225.1 438.4,221.9 438.6,219.5 438.8,218.8 439.0,216.2 439.1,210.4 439.3,205.4 439.5,203.1 439.7,201.7 439.9,198.7 440.0,195.0 440.2,190.4 440.4,185.2 440.6,181.3 440.8,180.8 440.9,181.2 441.1,177.7 441.3,171.9 441.5,167.8 441.7,166.6 441.8,166.2 442.0,166.6 442.2,167.0 442.4,165.9 442.6,163.2 442.7,162.0 442.9,163.6 443.1,164.4 443.3,163.8 443.5,163.6 443.6,164.9 443.8,166.3 444.0,167.6 444.2,170.6 444.4,174.4 444.5,176.9 444.7,179.2 444.9,182.7 445.1,185.5 445.3,186.4 445.4,188.7 445.6,193.7 445.8,198.8 446.0,201.6 446.2,203.8 446.3,206.5 446.5,209.4 446.7,213.3 446.9,219.1 447.1,223.6 447.2,224.0 447.4,223.6 447.6,226.9 447.8,232.3 448.0,236.5 448.1,238.2 448.3,238.4 448.5,237.7 448.7,237.2 448.9,239.2 449.0,242.5 449.2,243.5 449.4,241.5 449.6,239.9 449.8,240.5 449.9,240.8 450.1,240.3 450.3,239.7 450.5,237.8 450.7,233.8 450.8,229.9 451.0,228.3 451.2,226.2 451.4,222.5 451.6,219.7 451.7,218.7 451.9,216.4 452.1,211.7 452.3,207.1 452.5,203.6 452.6,200.9 452.8,198.2 453.0,195.9 453.2,192.8 453.4,186.8 453.5,181.2 453.7,179.7 453.9,180.3 454.1,178.6 454.3,174.2 454.4,170.1 454.6,167.2 454.8,165.7 455.0,166.1 455.2,167.5 455.3,166.8 455.5,163.7 455.7,162.3 455.9,163.2 456.1,163.7 456.2,163.0 456.4,163.7 456.6,165.5 456.8,166.8 457.0,168.1 457.1,170.5 457.3,173.1 457.5,175.4 457.7,179.1 457.9,183.7 458.0,186.1 458.2,185.9 458.4,187.0 458.6,191.5 458.8,197.3 458.9,201.6 459.1,204.8 459.3,207.1 459.5,208.5 459.7,211.2 459.8,216.9 460.0,223.0 460.2,225.2 460.4,224.5 460.6,226.1 460.7,230.3 460.9,234.1 461.1,237.2 461.3,239.2 461.5,239.0 461.6,237.3 461.8,238.1 462.0,241.0 462.2,242.4 462.4,241.5 462.5,241.3 462.7,242.1 462.9,241.5 463.1,239.4 463.3,237.9 463.4,236.8 463.6,234.6 463.8,231.4 464.0,229.0 464.2,226.3 464.3,222.6 464.5,219.4 464.7,218.9 464.9,217.9 465.1,214.0 465.2,208.7 465.4,204.0 465.6,200.3 465.8,197.8 466.0,196.2 466.1,194.1 466.3,189.0 466.5,182.7 466.7,179.4 466.9,179.5 467.0,178.7 467.2,175.0 467.4,171.4 467.6,168.9 467.8,166.7 467.9,165.9 468.1,166.7 468.3,166.4 468.5,164.3 468.7,163.4 468.8,164.0 469.0,163.6 469.2,162.3 469.4,163.0 469.6,165.7 469.7,167.8 469.9,168.5 470.1,169.7 470.3,172.2 470.5,175.4 470.6,178.9 470.8,183.2 471.0,185.6 471.2,185.3 471.3,186.0 471.5,191.2 471.7,197.1 471.9,201.0 472.1,204.0 472.2,206.1 472.4,207.8 472.6,211.0 472.8,216.9 473.0,222.2 473.1,224.1 473.3,223.9 473.5,226.1 473.7,230.6 473.9,233.9 474.0,235.8 474.2,237.6 474.4,238.3 474.6,237.9 474.8,238.3 474.9,240.3 475.1,241.5 475.3,241.4 475.5,241.6 475.7,242.9 475.8,242.4 476.0,239.2 476.2,236.4 476.4,235.8 476.6,235.3 476.7,232.9 476.9,229.7 477.1,225.9 477.3,222.2 477.5,219.9 477.6,220.1 477.8,219.5 478.0,215.0 478.2,208.2 478.4,203.3 478.5,201.2 478.7,199.6 478.9,196.9 479.1,193.4 479.3,188.8 479.4,183.6 479.6,180.4 479.8,180.3 480.0,179.6 480.2,175.7 480.3,171.3 480.5,169.0 480.7,168.2 480.9,167.1 481.1,166.3 481.2,166.2 481.4,165.1 481.6,163.0 481.8,162.5 482.0,163.2 482.1,163.0 482.3,162.9 482.5,164.9 482.7,168.0 482.9,169.3 483.0,169.7 483.2,172.2 483.4,175.8 483.6,178.8 483.8,181.7 483.9,184.3 484.1,184.9 484.3,185.3 484.5,189.8 484.7,196.6 484.8,201.4 485.0,203.1 485.2,204.5 485.4,207.7 485.6,211.5 485.7,216.4 485.9,221.4 486.1,223.7 486.3,223.3 486.5,224.5 486.6,229.2 486.8,233.7 487.0,235.8 487.2,236.7 487.4,237.5 487.5,238.0 487.7,238.5 487.9,240.1 488.1,242.1 488.3,242.3 488.4,241.4 488.6,241.2 488.8,241.5 489.0,240.1 489.2,237.3 489.3,235.5 489.5,234.9 489.7,233.0 489.9,229.3 490.1,226.2 490.2,223.9 490.4,221.5 490.6,219.8 490.8,219.0 491.0,216.3 491.1,209.9 491.3,203.7 491.5,201.1 491.7,199.9 491.9,197.4 492.0,193.5 492.2,189.3 492.4,184.6 492.6,180.9 492.8,180.5 492.9,180.8 493.1,177.8 493.3,172.6 493.5,169.4 493.7,168.4 493.8,167.9 494.0,167.3 494.2,167.0 494.4,165.6 494.6,163.3 494.7,162.4 494.9,163.7 495.1,164.3 495.3,163.8 495.5,165.0 495.6,167.8 495.8,169.7 496.0,170.1 496.2,172.2 496.4,175.4 496.5,178.4 496.7,181.4 496.9,184.6 497.1,186.0 497.3,186.0 497.4,188.4 497.6,194.2 497.8,200.1 498.0,202.8 498.2,204.4 498.3,207.0 498.5,211.0 498.7,215.4 498.9,220.5 499.1,223.8 499.2,223.6 499.4,223.3 499.6,226.7 499.8,231.5 500.0,234.6 500.1,235.8 500.3,236.7 500.5,237.3 500.7,237.6 500.9,239.4 501.0,241.5 501.2,241.4 501.4,239.9 501.6,239.9 501.8,240.2 501.9,239.0 502.1,237.1 502.3,236.2 502.5,235.1 502.7,232.2 502.8,228.9 503.0,226.4 503.2,224.0 503.4,221.0 503.6,219.0 503.7,218.2 503.9,215.9 504.1,210.5 504.3,205.6 504.5,203.0 504.6,200.8 504.8,197.9 505.0,194.5 505.2,190.0 505.4,184.8 505.5,181.5 505.7,181.8 505.9,182.2 506.1,178.9 506.3,174.1 506.4,170.8 506.6,169.2 506.8,168.3 507.0,168.7 507.2,168.7 507.3,166.6 507.5,163.8 507.7,163.7 507.9,165.6 508.1,165.8 508.2,165.2 508.4,166.0 508.6,167.6 508.8,168.5 509.0,169.9 509.1,172.9 509.3,175.7 509.5,178.2 509.7,181.5 509.9,184.8 510.0,186.2 510.2,186.4 510.4,189.2 510.6,194.4 510.8,198.9 510.9,201.3 511.1,203.2 511.3,206.0 511.5,209.7 511.7,214.3 511.8,219.7 512.0,223.0 512.2,222.7 512.4,222.6 512.6,226.0 512.7,230.4 512.9,233.4 513.1,234.5 513.3,235.6 513.5,236.4 513.6,236.7 513.8,237.9 514.0,240.0 514.2,240.1 514.4,238.9 514.5,238.7 514.7,239.5 514.9,238.6 515.1,236.4 515.3,235.0 515.4,235.1 515.6,233.8 515.8,230.0 516.0,225.8 516.1,222.8 516.3,220.2 516.5,218.8 516.7,218.1 516.9,216.2 517.0,211.1 517.2,205.6 517.4,203.1 517.6,202.3 517.8,199.8 517.9,195.7 518.1,191.3 518.3,186.6 518.5,182.8 518.7,181.9 518.8,182.3 519.0,180.1 519.2,175.2 519.4,171.6 519.6,170.5 519.7,169.8 519.9,168.8 520.1,168.4 520.3,168.0 520.5,166.5 520.6,165.3 520.8,166.1 521.0,166.8 521.2,166.0 521.4,166.2 521.5,168.4 521.7,170.1 521.9,170.3 522.1,171.7 522.3,175.2 522.4,179.2 522.6,182.3 522.8,184.3 523.0,185.9 523.2,186.9 523.3,188.6 523.5,193.3 523.7,199.2 523.9,202.1 524.1,202.5 524.2,204.5 524.4,208.9 524.6,213.7 524.8,217.5 525.0,220.4 525.1,222.0 525.3,222.7 525.5,224.8 525.7,229.3 525.9,232.8 526.0,233.5 526.2,234.3 526.4,236.1 526.6,236.8 526.8,236.2 526.9,236.5 527.1,237.9 527.3,238.6 527.5,239.0 527.7,239.0 527.8,237.8 528.0,235.2 528.2,233.8 528.4,234.8 528.6,234.4 528.7,230.1 528.9,225.4 529.1,222.3 529.3,220.3 529.5,219.3 529.6,218.5 529.8,216.0 530.0,210.7 530.2,205.8 530.4,204.2 530.5,203.3 530.7,200.2 530.9,195.9 531.1,192.0 531.3,188.5 531.4,185.5 531.6,183.5 531.8,182.4 532.0,179.8 532.2,176.0 532.3,173.7 532.5,172.8 532.7,170.7 532.9,168.6 533.1,168.4 533.2,169.3 533.4,169.1 533.6,168.0 533.8,167.3 534.0,166.3 534.1,165.7 534.3,167.5 534.5,170.5 534.7,171.4 534.9,170.3 535.0,171.1 535.2,174.7 535.4,179.1 535.6,182.5 535.8,185.0 535.9,186.0 536.1,186.3 536.3,188.7 536.5,193.6 536.7,198.0 536.8,200.2 537.0,202.2 537.2,205.9 537.4,209.3 537.6,211.8 537.7,214.4 537.9,218.0 538.1,221.1 538.3,223.5 538.5,225.9 538.6,228.3 538.8,229.6 539.0,230.7 539.2,233.3 539.4,236.3 539.5,236.8 539.7,235.0 539.9,234.3 540.1,235.8 540.3,237.9 540.4,239.0 540.6,239.0 540.8,237.2 541.0,234.1 541.2,232.8 541.3,233.9 541.5,233.6 541.7,230.1 541.9,225.6 542.1,222.5 542.2,220.5 542.4,219.0 542.6,218.0 542.8,216.3 543.0,212.0 543.1,207.1 543.3,204.5 543.5,203.0 543.7,200.0 543.9,196.2 544.0,193.4 544.2,190.6 544.4,187.2 544.6,184.3 544.8,182.3 544.9,180.0 545.1,177.2 545.3,175.6 545.5,174.6 545.7,171.8 545.8,169.0 546.0,169.0 546.2,170.3 546.4,170.6 546.6,169.4 546.7,167.8 546.9,166.4 547.1,166.1 547.3,168.2 547.5,171.3 547.6,171.9 547.8,170.6 548.0,171.6 548.2,175.5 548.4,179.4 548.5,182.4 548.7,184.6 548.9,185.6 549.1,186.2 549.3,188.7 549.4,193.2 549.6,197.1 549.8,199.2 550.0,201.4 550.2,205.3 550.3,208.8 550.5,210.9 550.7,213.7 550.9,217.3 551.1,220.2 551.2,222.5 551.4,225.2 551.6,227.3 551.8,227.8 552.0,229.1 552.1,232.7 552.3,235.9 552.5,235.8 552.7,234.2 552.9,233.6 553.0,234.9 553.2,236.6 553.4,238.3 553.6,238.7 553.8,236.7 553.9,233.7 554.1,232.5 554.3,233.6 554.5,232.8 554.7,229.3 554.8,225.6 555.0,223.0 555.2,221.0 555.4,219.5 555.6,218.0 555.7,215.8 555.9,212.1 556.1,208.2 556.3,205.7 556.5,203.4 556.6,199.8 556.8,196.3 557.0,194.5 557.2,192.5 557.4,188.9 557.5,185.0 557.7,182.3 557.9,180.3 558.1,178.4 558.3,177.1 558.4,175.8 558.6,173.0 558.8,169.8 559.0,169.1 559.2,171.0 559.3,172.1 559.5,170.7 559.7,168.5 559.9,167.4 560.1,167.1 560.2,168.2 560.4,171.0 560.6,173.0 560.8,172.3 560.9,171.8 561.1,174.6 561.3,179.2 561.5,182.4 561.7,184.2 561.8,185.8 562.0,187.1 562.2,188.5 562.4,192.1 562.6,196.7 562.7,199.8 562.9,201.3 563.1,203.9 563.3,207.4 563.5,210.4 563.6,212.9 563.8,215.8 564.0,219.1 564.2,221.3 564.4,223.3 564.5,226.0 564.7,228.0 564.9,229.2 565.1,231.3 565.3,234.4 565.4,235.4 565.6,233.6 565.8,232.6 566.0,233.9 566.2,235.7 566.3,236.8 566.5,237.0 566.7,236.0 566.9,233.5 567.1,231.9 567.2,232.6 567.4,233.1 567.6,230.7 567.8,226.4 568.0,222.9 568.1,220.5 568.3,218.5 568.5,217.6 568.7,216.3 568.9,212.8 569.0,208.4 569.2,205.8 569.4,204.0 569.6,200.9 569.8,197.9 569.9,195.4 570.1,192.3 570.3,188.8 570.5,186.7 570.7,184.9 570.8,182.0 571.0,179.2 571.2,177.9 571.4,176.6 571.6,173.5 571.7,170.4 571.9,169.7 572.1,171.0 572.3,172.0 572.5,171.5 572.6,170.4 572.8,169.0 573.0,168.0 573.2,169.4 573.4,172.1 573.5,173.5 573.7,172.3 573.9,172.1 574.1,174.5 574.3,178.1 574.4,181.4 574.6,184.3 574.8,186.4 575.0,187.2 575.2,188.4 575.3,192.3 575.5,196.4 575.7,198.9 575.9,200.8 576.1,203.9 576.2,207.1 576.4,209.3 576.6,211.6 576.8,214.9 577.0,217.6 577.1,219.9 577.3,222.8 577.5,225.0 577.7,226.1 577.9,227.5 578.0,230.6 578.2,234.2 578.4,235.1 578.6,233.3 578.8,232.2 578.9,233.1 579.1,234.3 579.3,235.3 579.5,236.3 579.7,235.1 579.8,232.5 580.0,231.3 580.2,232.2 580.4,232.4 580.6,230.1 580.7,227.0 580.9,224.2 581.1,221.1 581.3,218.7 581.5,217.6 581.6,216.2 581.8,212.8 582.0,209.1 582.2,206.8 582.4,204.6 582.5,201.0 582.7,197.6 582.9,195.8 583.1,193.7 583.3,190.5 583.4,187.6 583.6,185.0 583.8,182.2 584.0,179.9 584.2,179.2 584.3,178.0 584.5,174.6 584.7,171.1 584.9,170.2 585.1,171.6 585.2,172.3 585.4,171.9 585.6,171.1 585.8,169.5 586.0,168.5 586.1,170.0 586.3,172.6 586.5,173.7 586.7,172.6 586.9,172.2 587.0,174.3 587.2,177.9 587.4,181.2 587.6,184.2 587.8,186.3 587.9,186.8 588.1,188.0 588.3,191.6 588.5,196.0 588.7,198.6 588.8,200.4 589.0,203.0 589.2,206.3 589.4,208.8 589.6,211.1 589.7,214.1 589.9,217.2 590.1,219.3 590.3,221.6 590.5,224.2 590.6,225.9 590.8,227.1 591.0,229.5 591.2,233.0 591.4,234.9 591.5,234.1 591.7,233.0 591.9,233.0 592.1,233.7 592.3,234.7 592.4,235.8 592.6,235.2 592.8,232.4 593.0,230.8 593.2,232.1 593.3,232.8 593.5,230.7 593.7,227.1 593.9,224.2 594.1,221.6 594.2,219.4 594.4,218.1 594.6,216.3 594.8,213.1 595.0,209.4 595.1,206.9 595.3,205.0 595.5,201.7 595.7,198.4 595.9,196.3 596.0,194.2 596.2,191.0 596.4,188.0 596.6,185.7 596.8,183.3 596.9,181.0 597.1,179.6 597.3,178.5 597.5,175.6 597.7,171.6 597.8,170.0 598.0,171.0 598.2,172.5 598.4,172.3 598.6,171.5 598.7,170.2 598.9,169.0 599.1,169.4 599.3,172.0 599.5,173.9 599.6,173.3 599.8,172.4 600.0,174.3 600.2,177.6 600.4,180.5 600.5,182.9 600.7,185.3 600.9,186.9 601.1,188.1 601.3,191.2 601.4,195.0 601.6,197.8 601.8,199.8 602.0,202.7 602.2,206.2 602.3,208.4 602.5,210.3 602.7,213.1 602.9,216.5 603.1,219.1 603.2,221.4 603.4,223.6 603.6,225.1 603.8,226.2 604.0,229.1 604.1,233.1 604.3,234.7 604.5,233.5 604.7,231.8 604.8,232.2 605.0,233.5 605.2,234.6 605.4,235.6 605.6,235.4 605.7,233.2 605.9,231.2 606.1,231.5 606.3,232.2 606.5,230.7 606.6,227.6 606.8,224.8 607.0,222.4 607.2,220.0 607.4,218.0 607.5,216.7 607.7,213.9 607.9,210.5 608.1,207.9 608.3,205.5 608.4,201.8 608.6,198.1 608.8,196.2 609.0,195.3 609.2,193.1 609.3,189.4 609.5,185.9 609.7,183.3 609.9,181.0 610.1,179.4 610.2,178.7 610.4,176.7 610.6,172.9 610.8,170.6 611.0,171.1 611.1,172.5 611.3,172.8 611.5,172.1 611.7,170.7 611.9,169.0 612.0,168.9 612.2,171.2 612.4,173.7 612.6,173.7 612.8,173.1 612.9,174.4 613.1,176.8 613.3,179.6 613.5,182.7 613.7,185.3 613.8,186.3 614.0,187.3 614.2,190.4 614.4,194.5 614.6,197.4 614.7,199.5 614.9,202.7 615.1,206.1 615.3,207.9 615.5,209.6 615.6,212.0 615.8,215.0 616.0,217.9 616.2,221.3 616.4,224.2 616.5,225.3 616.7,225.7 616.9,228.1 617.1,231.9 617.3,233.8 617.4,233.4 617.6,232.6 617.8,232.3 618.0,232.5 618.2,234.0 618.3,236.1 618.5,236.1 618.7,233.5 618.9,231.2 619.1,231.0 619.2,231.2 619.4,230.0 619.6,227.9 619.8,225.7 620.0,223.1 620.1,220.5 620.3,219.1 620.5,217.4 620.7,214.2 620.9,210.6 621.0,208.2 621.2,205.7 621.4,202.0 621.6,199.0 621.8,197.3 621.9,195.9 622.1,193.3 622.3,190.3 622.5,187.3 622.7,184.0 622.8,181.1 623.0,179.8 623.2,179.3 623.4,177.0 623.6,173.3 623.7,171.2 623.9,171.5 624.1,172.5 624.3,172.8 624.5,172.5 624.6,171.2 624.8,169.3 625.0,168.6 625.2,170.8 625.4,173.6 625.5,174.2 625.7,173.9 625.9,174.7 626.1,176.6 626.3,178.6 626.4,181.6 626.6,184.7 626.8,186.1 627.0,187.2 627.2,190.3 627.3,194.0 627.5,196.7 627.7,198.9 627.9,202.2 628.1,205.6 628.2,207.6 628.4,209.0 628.6,211.4 628.8,213.9 629.0,216.4 629.1,220.4 629.3,224.2 629.5,225.8 629.7,225.9 629.9,227.1 630.0,230.0 630.2,232.5 630.4,233.4 630.6,233.3 630.8,232.7 630.9,231.9 631.1,232.8 631.3,235.4 631.5,236.5 631.7,234.5 631.8,231.6 632.0,230.6 632.2,230.5 632.4,229.6 632.6,228.4 632.7,226.8 632.9,223.9 633.1,220.7 633.3,218.7 633.5,217.4 633.6,214.7 633.8,211.0 634.0,208.2 634.2,206.1 634.4,203.1 634.5,199.9 634.7,197.8 634.9,196.3 635.1,193.7 635.3,190.7 635.4,188.1 635.6,185.0 635.8,181.3 636.0,179.1 636.2,178.8 636.3,178.1 636.5,175.3 636.7,172.4 636.9,171.6 637.1,172.3 637.2,172.7 637.4,172.6 637.6,171.6 637.8,169.6 638.0,168.5 638.1,170.6 638.3,173.8 638.5,174.9 638.7,174.3 638.9,174.5 639.0,176.2 639.2,178.3 639.4,181.1 639.6,184.3 639.8,186.4 639.9,187.4 640.1,189.7 640.3,193.6 640.5,197.2 640.7,199.4 640.8,201.5 641.0,204.6 641.2,207.1 641.4,208.6 641.6,210.8 641.7,213.9 641.9,216.9 642.1,220.1 642.3,223.7 642.5,225.8 642.6,226.1 642.8,226.9 643.0,229.5 643.2,231.9 643.4,232.8 643.5,233.0 643.7,232.6 643.9,232.0 644.1,232.7 644.3,235.1 644.4,236.5 644.6,234.6 644.8,231.6 645.0,230.2 645.2,230.1 645.3,229.8 645.5,228.7 645.7,226.9 645.9,223.6 646.1,220.3 646.2,218.8 646.4,217.8 646.6,214.9 646.8,211.3 647.0,208.5 647.1,205.7 647.3,202.6 647.5,200.5 647.7,199.0 647.9,196.5 648.0,193.2 648.2,190.6 648.4,188.4 648.6,184.9 648.8,181.3 648.9,179.6 649.1,179.2 649.3,177.8 649.5,175.0 649.6,173.1 649.8,172.5 650.0,172.5 650.2,172.7 650.4,173.1 650.5,171.9 650.7,169.2 650.9,168.6 651.1,171.0 651.3,173.8 651.4,174.5 651.6,174.5 651.8,174.9 652.0,176.0 652.2,178.4 652.3,182.1 652.5,185.2 652.7,185.8 652.9,186.5 653.1,189.7 653.2,193.5 653.4,196.7 653.6,199.5 653.8,202.2 654.0,204.5 654.1,206.1 654.3,208.5 654.5,211.5 654.7,213.8 654.9,216.0 655.0,219.7 655.2,223.4 655.4,225.1 655.6,225.8 655.8,227.1 655.9,229.4 656.1,231.0 656.3,232.5 656.5,233.6 656.7,232.9 656.8,231.5 657.0,232.4 657.2,234.9 657.4,235.9 657.6,234.3 657.7,232.0 657.9,230.4 658.1,229.1 658.3,228.7 658.5,228.9 658.6,227.8 658.8,224.1 659.0,220.2 659.2,218.5 659.4,217.6 659.5,215.1 659.7,211.6 659.9,208.7 660.1,205.7 660.3,202.4 660.4,200.4 660.6,199.0 660.8,196.5 661.0,193.4 661.2,191.3 661.3,189.3 661.5,185.5 661.7,181.6 661.9,179.8 662.1,179.1 662.2,177.8 662.4,175.9 662.6,174.2 662.8,172.4 663.0,171.2 663.1,171.9 663.3,173.5 663.5,172.9 663.7,170.4 663.9,169.2 664.0,170.6 664.2,172.9 664.4,174.5 664.6,175.9 664.8,176.5 664.9,176.2 665.1,177.1 665.3,180.8 665.5,184.4 665.7,186.1 665.8,187.4 666.0,189.9 666.2,193.0 666.4,196.0 666.6,199.3 666.7,202.4 666.9,204.5 667.1,205.9 667.3,208.4 667.5,211.4 667.6,213.4 667.8,215.7 668.0,219.5 668.2,223.1 668.4,224.7 668.5,225.3 668.7,227.0 668.9,229.1 669.1,231.0 669.3,232.5 669.4,233.1 669.6,232.2 669.8,231.4 670.0,232.8 670.2,235.3 670.3,235.7 670.5,233.6 670.7,231.5 670.9,230.0 671.1,229.4 671.2,229.2 671.4,228.9 671.6,227.1 671.8,223.5 672.0,220.4 672.1,219.2 672.3,218.1 672.5,215.0 672.7,211.4 672.9,208.6 673.0,206.0 673.2,202.8 673.4,200.5 673.6,199.0 673.8,196.9 673.9,193.9 674.1,191.4 674.3,188.9 674.5,185.3 674.7,181.8 674.8,180.0 675.0,179.6 675.2,178.4 675.4,175.9 675.6,173.9 675.7,172.9 675.9,172.2 676.1,172.6 676.3,173.5 676.5,172.8 676.6,170.3 676.8,169.0 677.0,170.8 677.2,173.7 677.4,175.2 677.5,175.3 677.7,175.7 677.9,176.2 678.1,177.8 678.3,181.2 678.4,184.7 678.6,186.2 678.8,186.9 679.0,189.3 679.2,193.3 679.3,196.6 679.5,198.9 679.7,201.4 679.9,204.3 680.1,206.1 680.2,208.0 680.4,210.7 680.6,213.4 680.8,215.9 681.0,219.2 681.1,223.0 681.3,224.8 681.5,225.1 681.7,226.4 681.9,229.1 682.0,231.3 682.2,232.2 682.4,232.3 682.6,232.2 682.8,231.5 682.9,231.9" fill="none" stroke="#FFF900" stroke-width="1.55" stroke-linejoin="round"/><polyline points="35.2,199.4 35.4,199.7 35.6,200.1 35.8,200.4 35.9,200.7 36.1,201.1 36.3,201.4 36.5,201.7 36.7,201.9 36.8,202.2 37.0,202.4 37.2,202.5 37.4,202.6 37.6,202.7 37.7,202.7 37.9,202.7 38.1,202.6 38.3,202.5 38.5,202.3 38.6,202.0 38.8,201.7 39.0,201.4 39.2,201.0 39.4,200.5 39.5,200.1 39.7,199.6 39.9,199.1 40.1,198.5 40.3,198.0 40.4,197.4 40.6,196.9 40.8,196.4 41.0,195.9 41.2,195.3 41.3,194.7 41.5,194.4 41.7,194.1 41.9,193.7 42.1,193.3 42.2,192.9 42.4,192.7 42.6,192.5 42.8,192.5 43.0,192.5 43.1,192.5 43.3,192.4 43.5,192.6 43.7,193.0 43.9,193.5 44.0,193.9 44.2,194.3 44.4,194.8 44.6,195.4 44.8,196.2 44.9,197.0 45.1,198.0 45.3,199.0 45.5,199.9 45.7,201.0 45.8,202.2 46.0,203.3 46.2,204.4 46.4,205.6 46.6,206.8 46.7,207.8 46.9,208.9 47.1,210.0 47.3,211.1 47.5,212.0 47.6,213.0 47.8,213.9 48.0,214.5 48.2,214.9 48.4,215.5 48.5,216.3 48.7,216.8 48.9,217.1 49.1,217.1 49.3,217.1 49.4,216.9 49.6,216.8 49.8,216.8 50.0,216.3 50.2,215.3 50.3,214.4 50.5,213.6 50.7,213.0 50.9,212.1 51.1,211.0 51.2,209.8 51.4,208.4 51.6,206.9 51.8,205.7 52.0,204.4 52.1,202.9 52.3,201.2 52.5,199.7 52.7,198.3 52.9,196.8 53.0,195.3 53.2,194.0 53.4,192.6 53.6,191.2 53.8,190.0 53.9,188.8 54.1,187.7 54.3,186.6 54.5,186.0 54.7,185.6 54.8,184.9 55.0,184.1 55.2,183.6 55.4,183.4 55.6,183.4 55.7,183.7 55.9,184.1 56.1,184.4 56.3,184.6 56.5,185.2 56.6,186.4 56.8,187.6 57.0,188.6 57.2,189.6 57.4,190.7 57.5,191.8 57.7,193.2 57.9,195.0 58.1,196.8 58.3,198.4 58.4,200.0 58.6,201.8 58.8,203.7 59.0,205.3 59.2,207.0 59.3,208.8 59.5,210.5 59.7,212.0 59.9,213.5 60.1,215.0 60.2,216.2 60.4,217.3 60.6,218.7 60.8,220.0 61.0,220.7 61.1,221.0 61.3,221.5 61.5,222.2 61.7,222.8 61.9,223.2 62.0,223.3 62.2,222.8 62.4,222.0 62.6,221.6 62.8,221.4 62.9,220.7 63.1,219.5 63.3,218.2 63.5,217.0 63.7,215.7 63.8,214.6 64.0,213.5 64.2,211.9 64.4,209.9 64.6,208.0 64.7,206.4 64.9,204.5 65.1,202.4 65.3,200.6 65.5,199.0 65.6,197.3 65.8,195.3 66.0,193.5 66.2,191.8 66.4,190.1 66.5,188.8 66.7,187.7 66.9,186.4 67.1,184.8 67.3,183.4 67.4,182.7 67.6,182.5 67.8,182.0 68.0,181.3 68.2,180.7 68.3,180.3 68.5,180.2 68.7,180.8 68.9,181.6 69.0,182.0 69.2,182.3 69.4,183.2 69.6,184.5 69.8,185.7 69.9,187.0 70.1,188.4 70.3,189.8 70.5,191.2 70.7,192.8 70.8,194.6 71.0,196.5 71.2,198.3 71.4,200.5 71.6,202.9 71.7,204.9 71.9,206.4 72.1,208.0 72.3,210.1 72.5,212.2 72.6,214.0 72.8,215.7 73.0,217.1 73.2,218.1 73.4,219.4 73.5,221.2 73.7,222.8 73.9,223.4 74.1,223.7 74.3,224.2 74.4,224.7 74.6,225.2 74.8,225.7 75.0,225.7 75.2,225.1 75.3,224.3 75.5,223.8 75.7,223.2 75.9,222.2 76.1,220.9 76.2,219.6 76.4,218.3 76.6,216.8 76.8,215.3 77.0,213.9 77.1,212.2 77.3,210.2 77.5,208.3 77.7,206.4 77.9,204.1 78.0,201.6 78.2,199.6 78.4,198.2 78.6,196.4 78.8,194.3 78.9,192.2 79.1,190.3 79.3,188.5 79.5,187.3 79.7,186.4 79.8,184.8 80.0,183.0 80.2,181.7 80.4,181.1 80.6,180.8 80.7,180.4 80.9,179.9 81.1,179.3 81.3,178.7 81.5,178.8 81.6,179.7 81.8,180.5 82.0,180.9 82.2,181.5 82.4,182.6 82.5,183.9 82.7,185.2 82.9,186.7 83.1,188.3 83.3,189.7 83.4,191.1 83.6,193.0 83.8,194.9 84.0,196.7 84.2,198.7 84.3,201.2 84.5,203.6 84.7,205.4 84.9,207.0 85.1,208.9 85.2,211.0 85.4,213.1 85.6,215.1 85.8,216.8 86.0,218.0 86.1,218.9 86.3,220.4 86.5,222.3 86.7,223.6 86.9,224.1 87.0,224.3 87.2,224.7 87.4,225.3 87.6,225.9 87.8,226.5 87.9,226.3 88.1,225.4 88.3,224.5 88.5,224.1 88.7,223.6 88.8,222.5 89.0,220.9 89.2,219.6 89.4,218.3 89.6,216.6 89.7,214.9 89.9,213.5 90.1,211.8 90.3,209.8 90.5,207.9 90.6,205.8 90.8,203.3 91.0,200.8 91.2,199.1 91.4,197.7 91.5,195.8 91.7,193.3 91.9,191.1 92.1,189.4 92.3,188.0 92.4,186.8 92.6,185.7 92.8,184.1 93.0,182.2 93.2,180.9 93.3,180.7 93.5,180.7 93.7,180.1 93.9,179.3 94.1,178.7 94.2,178.5 94.4,178.6 94.6,179.5 94.8,180.5 95.0,181.1 95.1,181.5 95.3,182.5 95.5,184.2 95.7,185.7 95.9,187.0 96.0,188.5 96.2,190.1 96.4,191.5 96.6,193.3 96.8,195.5 96.9,197.6 97.1,199.6 97.3,201.8 97.5,204.2 97.7,206.0 97.8,207.5 98.0,209.4 98.2,211.8 98.4,214.1 98.6,215.7 98.7,217.1 98.9,218.3 99.1,219.5 99.3,221.0 99.5,222.8 99.6,223.9 99.8,224.1 100.0,224.1 100.2,224.8 100.4,225.8 100.5,226.4 100.7,226.4 100.9,225.9 101.1,225.2 101.3,224.3 101.4,223.6 101.6,223.1 101.8,222.0 102.0,220.3 102.2,218.9 102.3,217.8 102.5,216.3 102.7,214.6 102.9,213.0 103.1,211.3 103.2,209.2 103.4,206.9 103.6,204.8 103.8,202.7 104.0,200.5 104.1,198.6 104.3,197.2 104.5,195.3 104.7,192.7 104.9,190.4 105.0,188.9 105.2,187.8 105.4,186.5 105.6,185.2 105.8,183.7 105.9,182.0 106.1,181.0 106.3,180.8 106.5,180.7 106.7,180.0 106.8,179.1 107.0,178.7 107.2,178.8 107.4,179.0 107.6,179.6 107.7,180.5 107.9,181.3 108.1,182.0 108.3,183.2 108.5,184.6 108.6,185.7 108.8,186.7 109.0,188.5 109.2,190.6 109.4,192.3 109.5,193.6 109.7,195.1 109.9,197.2 110.1,199.5 110.3,201.9 110.4,204.3 110.6,206.1 110.8,207.4 111.0,208.8 111.2,211.2 111.3,213.8 111.5,215.7 111.7,216.9 111.9,218.0 112.1,219.2 112.2,220.6 112.4,222.0 112.6,223.5 112.8,224.2 113.0,224.1 113.1,224.3 113.3,225.2 113.5,226.1 113.7,226.3 113.8,226.0 114.0,225.4 114.2,224.6 114.4,223.8 114.6,223.3 114.7,222.7 114.9,221.2 115.1,219.4 115.3,218.0 115.5,217.0 115.6,215.4 115.8,213.6 116.0,212.1 116.2,210.6 116.4,208.6 116.5,206.3 116.7,204.1 116.9,201.8 117.1,199.6 117.3,198.2 117.4,196.9 117.6,194.8 117.8,192.2 118.0,190.1 118.2,188.7 118.3,187.5 118.5,186.4 118.7,185.2 118.9,183.6 119.1,181.8 119.2,180.8 119.4,180.9 119.6,180.9 119.8,180.2 120.0,179.2 120.1,178.9 120.3,178.9 120.5,179.2 120.7,180.0 120.9,180.8 121.0,181.4 121.2,181.9 121.4,183.1 121.6,184.8 121.8,186.3 121.9,187.4 122.1,188.7 122.3,190.5 122.5,192.1 122.7,193.6 122.8,195.3 123.0,197.5 123.2,199.8 123.4,201.9 123.6,204.1 123.7,206.2 123.9,207.8 124.1,209.1 124.3,211.2 124.5,213.7 124.6,215.7 124.8,216.8 125.0,217.8 125.2,219.0 125.4,220.4 125.5,222.0 125.7,223.6 125.9,224.5 126.1,224.3 126.3,224.2 126.4,225.0 126.6,225.9 126.8,226.1 127.0,225.7 127.2,225.4 127.3,224.7 127.5,223.7 127.7,223.0 127.9,222.3 128.1,221.0 128.2,219.3 128.4,218.0 128.6,216.8 128.8,215.2 129.0,213.4 129.1,211.8 129.3,210.4 129.5,208.6 129.7,206.3 129.9,204.1 130.0,201.6 130.2,199.3 130.4,197.7 130.6,196.5 130.8,195.0 130.9,192.5 131.1,190.0 131.3,188.5 131.5,187.6 131.7,186.5 131.8,185.1 132.0,183.7 132.2,182.2 132.4,180.9 132.6,180.5 132.7,180.7 132.9,180.3 133.1,179.6 133.3,179.2 133.5,179.3 133.6,179.4 133.8,179.8 134.0,180.6 134.2,181.6 134.4,182.5 134.5,183.6 134.7,185.0 134.9,186.3 135.1,187.3 135.3,188.8 135.4,191.0 135.6,192.8 135.8,194.0 136.0,195.4 136.2,197.3 136.3,199.7 136.5,202.1 136.7,204.7 136.9,206.7 137.1,207.9 137.2,209.0 137.4,211.1 137.6,213.7 137.8,215.7 138.0,216.8 138.1,217.8 138.3,219.0 138.5,220.3 138.7,221.8 138.9,223.3 139.0,224.0 139.2,224.0 139.4,224.3 139.6,225.0 139.8,225.4 139.9,225.4 140.1,225.3 140.3,225.2 140.5,224.5 140.7,223.5 140.8,222.5 141.0,221.5 141.2,220.3 141.4,219.1 141.6,217.9 141.7,216.7 141.9,214.8 142.1,212.8 142.3,211.4 142.5,210.2 142.6,208.5 142.8,206.1 143.0,203.7 143.2,201.3 143.4,199.1 143.5,197.5 143.7,196.4 143.9,194.8 144.1,192.2 144.3,189.9 144.4,188.6 144.6,187.8 144.8,186.6 145.0,185.2 145.2,183.7 145.3,182.2 145.5,181.1 145.7,181.0 145.9,181.1 146.1,180.6 146.2,179.7 146.4,179.4 146.6,179.7 146.8,180.0 147.0,180.4 147.1,181.3 147.3,182.5 147.5,183.4 147.7,184.3 147.9,185.6 148.0,187.1 148.2,188.3 148.4,189.7 148.6,191.7 148.8,193.4 148.9,194.5 149.1,195.9 149.3,198.4 149.5,201.0 149.7,203.4 149.8,205.4 150.0,207.0 150.2,208.2 150.4,209.6 150.6,211.9 150.7,214.5 150.9,216.1 151.1,216.9 151.3,218.0 151.5,219.4 151.6,220.7 151.8,222.1 152.0,223.3 152.2,223.8 152.4,223.8 152.5,224.1 152.7,224.8 152.9,225.0 153.1,224.8 153.3,224.7 153.4,224.7 153.6,223.8 153.8,222.5 154.0,221.4 154.2,220.3 154.3,219.1 154.5,218.1 154.7,217.1 154.9,215.6 155.1,213.3 155.2,211.5 155.4,210.5 155.6,209.3 155.8,207.3 156.0,204.8 156.1,202.3 156.3,200.1 156.5,198.3 156.7,197.1 156.9,196.1 157.0,194.3 157.2,191.6 157.4,189.4 157.6,188.5 157.8,187.6 157.9,186.5 158.1,185.1 158.3,183.8 158.5,182.5 158.6,181.5 158.8,181.2 159.0,181.4 159.2,180.9 159.4,180.2 159.5,180.0 159.7,180.3 159.9,180.5 160.1,180.7 160.3,181.4 160.4,182.7 160.6,183.9 160.8,184.9 161.0,186.0 161.2,187.2 161.3,188.1 161.5,189.3 161.7,191.3 161.9,193.6 162.1,194.9 162.2,195.9 162.4,197.6 162.6,199.9 162.8,202.3 163.0,204.7 163.1,206.8 163.3,208.1 163.5,208.9 163.7,210.4 163.9,212.9 164.0,215.2 164.2,216.5 164.4,217.2 164.6,218.2 164.8,219.5 164.9,220.9 165.1,222.2 165.3,223.3 165.5,223.6 165.7,223.3 165.8,223.7 166.0,224.5 166.2,224.9 166.4,224.7 166.6,224.3 166.7,223.9 166.9,223.1 167.1,222.0 167.3,221.0 167.5,220.0 167.6,218.8 167.8,217.6 168.0,216.7 168.2,215.5 168.4,213.5 168.5,211.4 168.7,209.9 168.9,208.8 169.1,207.2 169.3,204.9 169.4,202.5 169.6,200.1 169.8,198.0 170.0,196.7 170.2,195.9 170.3,194.3 170.5,191.7 170.7,189.5 170.9,188.3 171.1,187.3 171.2,186.3 171.4,185.2 171.6,184.0 171.8,182.4 172.0,181.6 172.1,181.5 172.3,181.5 172.5,180.7 172.7,180.2 172.9,180.4 173.0,180.5 173.2,180.5 173.4,180.8 173.6,181.9 173.8,183.0 173.9,184.2 174.1,185.5 174.3,186.7 174.5,187.3 174.7,188.0 174.8,189.8 175.0,192.3 175.2,194.1 175.4,195.3 175.6,196.4 175.7,198.3 175.9,200.4 176.1,202.9 176.3,205.5 176.5,207.4 176.6,208.3 176.8,209.4 177.0,211.5 177.2,213.8 177.4,215.5 177.5,216.9 177.7,218.2 177.9,219.3 178.1,220.2 178.3,221.3 178.4,222.3 178.6,223.1 178.8,223.5 179.0,224.1 179.2,224.7 179.3,224.6 179.5,224.0 179.7,224.0 179.9,224.5 180.1,224.4 180.2,223.3 180.4,221.6 180.6,220.2 180.8,218.9 181.0,218.0 181.1,217.5 181.3,216.6 181.5,214.5 181.7,212.0 181.9,210.3 182.0,209.4 182.2,208.1 182.4,206.1 182.6,203.7 182.8,201.3 182.9,198.8 183.1,197.1 183.3,196.2 183.5,194.9 183.7,192.8 183.8,190.6 184.0,189.2 184.2,187.9 184.4,186.4 184.6,185.3 184.7,184.4 184.9,183.3 185.1,182.1 185.3,181.5 185.5,181.2 185.6,180.6 185.8,180.0 186.0,180.3 186.2,180.8 186.4,180.8 186.5,180.5 186.7,181.0 186.9,182.1 187.1,183.4 187.3,184.9 187.4,186.5 187.6,187.4 187.8,187.6 188.0,188.5 188.2,190.6 188.3,193.0 188.5,194.8 188.7,196.2 188.9,197.7 189.1,199.4 189.2,201.5 189.4,204.2 189.6,206.9 189.8,208.4 190.0,209.2 190.1,210.5 190.3,212.5 190.5,214.5 190.7,216.0 190.9,217.6 191.0,219.0 191.2,219.8 191.4,220.6 191.6,221.9 191.8,223.1 191.9,223.6 192.1,223.9 192.3,224.5 192.5,225.0 192.7,224.7 192.8,224.1 193.0,223.9 193.2,224.1 193.4,223.7 193.6,222.6 193.7,221.2 193.9,219.7 194.1,218.3 194.3,217.5 194.5,217.1 194.6,216.2 194.8,213.8 195.0,211.2 195.2,209.6 195.4,208.3 195.5,206.8 195.7,204.8 195.9,202.7 196.1,200.1 196.3,197.6 196.4,196.1 196.6,195.4 196.8,194.0 197.0,191.8 197.2,189.8 197.3,188.2 197.5,186.9 197.7,185.6 197.9,184.9 198.1,184.0 198.2,182.6 198.4,181.5 198.6,181.2 198.8,180.9 199.0,180.3 199.1,179.8 199.3,180.2 199.5,180.7 199.7,180.7 199.9,180.7 200.0,181.6 200.2,182.9 200.4,184.2 200.6,185.4 200.8,186.8 200.9,187.3 201.1,187.8 201.3,189.3 201.5,192.0 201.7,194.1 201.8,195.4 202.0,196.6 202.2,198.4 202.4,200.6 202.6,203.0 202.7,206.0 202.9,208.0 203.1,208.8 203.3,209.6 203.4,211.5 203.6,214.0 203.8,216.1 204.0,217.4 204.2,218.6 204.3,219.7 204.5,220.6 204.7,221.8 204.9,223.3 205.1,224.3 205.2,224.4 205.4,224.6 205.6,225.4 205.8,225.7 206.0,225.2 206.1,224.7 206.3,225.0 206.5,224.8 206.7,223.7 206.9,222.3 207.0,220.8 207.2,219.4 207.4,218.4 207.6,218.0 207.8,217.4 207.9,215.3 208.1,212.4 208.3,210.5 208.5,209.5 208.7,208.1 208.8,206.2 209.0,204.0 209.2,201.2 209.4,198.3 209.6,196.4 209.7,195.8 209.9,194.9 210.1,192.8 210.3,190.1 210.5,188.2 210.6,186.8 210.8,185.5 211.0,184.5 211.2,183.7 211.4,182.4 211.5,180.9 211.7,180.2 211.9,180.0 212.1,179.3 212.3,178.5 212.4,178.7 212.6,179.3 212.8,179.2 213.0,179.0 213.2,179.6 213.3,180.7 213.5,181.9 213.7,183.5 213.9,185.1 214.1,186.0 214.2,186.0 214.4,186.9 214.6,189.4 214.8,192.0 215.0,193.7 215.1,194.9 215.3,196.5 215.5,198.3 215.7,200.8 215.9,203.9 216.0,207.0 216.2,208.3 216.4,208.6 216.6,210.0 216.8,212.6 216.9,215.2 217.1,217.0 217.3,218.6 217.5,219.8 217.7,220.4 217.8,221.4 218.0,223.3 218.2,225.0 218.4,225.5 218.6,225.4 218.7,226.0 218.9,226.8 219.1,226.8 219.3,226.4 219.5,226.7 219.6,226.7 219.8,226.0 220.0,225.0 220.2,223.9 220.4,222.0 220.5,220.2 220.7,219.6 220.9,219.6 221.1,218.4 221.3,215.7 221.4,213.2 221.6,211.7 221.8,210.4 222.0,208.9 222.2,206.9 222.3,204.0 222.5,200.5 222.7,197.7 222.9,196.8 223.1,196.3 223.2,194.4 223.4,191.6 223.6,189.3 223.8,187.7 224.0,186.0 224.1,184.7 224.3,183.8 224.5,182.4 224.7,180.5 224.9,179.4 225.0,179.2 225.2,178.6 225.4,177.6 225.6,177.4 225.8,177.7 225.9,177.6 226.1,177.2 226.3,177.5 226.5,178.6 226.7,179.8 226.8,181.1 227.0,183.0 227.2,184.3 227.4,184.4 227.6,184.9 227.7,187.2 227.9,190.1 228.1,192.0 228.3,193.1 228.5,194.4 228.6,196.1 228.8,198.4 229.0,202.0 229.2,205.7 229.4,207.7 229.5,208.2 229.7,209.1 229.9,211.8 230.1,214.8 230.3,216.7 230.4,218.1 230.6,219.5 230.8,220.4 231.0,221.6 231.2,223.9 231.3,225.8 231.5,226.6 231.7,226.4 231.9,226.9 232.1,227.9 232.2,228.2 232.4,227.8 232.6,228.0 232.8,228.4 233.0,227.8 233.1,226.5 233.3,225.3 233.5,223.9 233.7,222.3 233.9,221.4 234.0,221.2 234.2,219.8 234.4,216.8 234.6,214.1 234.8,213.2 234.9,212.5 235.1,210.6 235.3,208.0 235.5,204.8 235.7,201.2 235.8,198.4 236.0,197.3 236.2,197.0 236.4,195.0 236.6,191.5 236.7,188.4 236.9,187.2 237.1,186.1 237.3,184.7 237.5,183.1 237.6,181.6 237.8,179.8 238.0,178.2 238.2,178.0 238.4,177.8 238.5,176.8 238.7,176.0 238.9,176.4 239.1,176.4 239.3,175.6 239.4,175.5 239.6,177.0 239.8,178.8 240.0,180.0 240.2,181.2 240.3,182.5 240.5,183.1 240.7,184.1 240.9,187.0 241.1,190.0 241.2,191.1 241.4,191.3 241.6,192.9 241.8,196.1 242.0,200.0 242.1,203.1 242.3,205.7 242.5,207.1 242.7,207.9 242.9,209.8 243.0,213.6 243.2,216.7 243.4,217.7 243.6,218.3 243.8,219.8 243.9,221.7 244.1,223.7 244.3,226.0 244.5,227.6 244.7,227.8 244.8,227.5 245.0,228.2 245.2,229.5 245.4,229.5 245.6,229.1 245.7,229.6 245.9,230.0 246.1,228.9 246.3,227.0 246.5,225.6 246.6,224.4 246.8,223.1 247.0,222.5 247.2,221.9 247.4,219.5 247.5,215.8 247.7,213.6 247.9,213.2 248.1,212.5 248.2,210.2 248.4,206.8 248.6,203.0 248.8,199.4 249.0,197.2 249.1,196.7 249.3,195.6 249.5,192.5 249.7,188.8 249.9,186.9 250.0,185.9 250.2,184.7 250.4,183.0 250.6,181.3 250.8,179.5 250.9,177.4 251.1,176.1 251.3,176.0 251.5,175.4 251.7,174.5 251.8,174.5 252.0,175.5 252.2,175.3 252.4,174.1 252.6,173.9 252.7,175.9 252.9,178.4 253.1,179.8 253.3,180.6 253.5,181.4 253.6,182.1 253.8,184.1 254.0,187.9 254.2,190.8 254.4,191.3 254.5,191.3 254.7,193.5 254.9,197.2 255.1,201.3 255.3,204.7 255.4,207.4 255.6,208.6 255.8,209.5 256.0,212.3 256.2,215.9 256.3,217.8 256.5,218.7 256.7,220.4 256.9,222.6 257.1,224.4 257.2,225.7 257.4,227.8 257.6,229.7 257.8,230.4 258.0,230.7 258.1,231.4 258.3,231.5 258.5,230.4 258.7,230.1 258.9,231.6 259.0,232.2 259.2,230.3 259.4,228.0 259.6,226.4 259.8,224.9 259.9,224.0 260.1,223.9 260.3,222.7 260.5,219.1 260.7,214.9 260.8,213.2 261.0,213.3 261.2,212.2 261.4,209.1 261.6,205.3 261.7,201.4 261.9,197.8 262.1,195.7 262.3,194.8 262.5,193.2 262.6,190.0 262.8,186.6 263.0,185.2 263.2,184.4 263.4,182.4 263.5,179.8 263.7,178.5 263.9,177.2 264.1,175.1 264.3,173.4 264.4,172.8 264.6,172.4 264.8,172.2 265.0,172.9 265.2,174.0 265.3,173.2 265.5,171.5 265.7,172.0 265.9,175.3 266.1,178.1 266.2,179.2 266.4,179.5 266.6,180.2 266.8,181.6 267.0,184.3 267.1,188.2 267.3,191.0 267.5,191.3 267.7,191.4 267.9,194.3 268.0,199.1 268.2,203.0 268.4,206.3 268.6,209.1 268.8,210.6 268.9,211.6 269.1,214.4 269.3,218.1 269.5,220.3 269.7,221.1 269.8,222.8 270.0,225.5 270.2,227.1 270.4,228.3 270.6,230.2 270.7,232.2 270.9,233.1 271.1,233.5 271.3,233.9 271.5,233.0 271.6,231.9 271.8,232.5 272.0,234.4 272.2,234.6 272.4,231.9 272.5,228.4 272.7,226.5 272.9,225.7 273.1,225.0 273.3,224.6 273.4,222.8 273.6,218.7 273.8,214.9 274.0,214.1 274.2,213.8 274.3,210.9 274.5,206.4 274.7,202.6 274.9,199.5 275.1,196.5 275.2,194.4 275.4,193.2 275.6,190.7 275.8,187.3 276.0,184.9 276.1,183.7 276.3,181.3 276.5,178.4 276.7,176.7 276.9,176.3 277.0,174.8 277.2,172.5 277.4,170.9 277.6,170.5 277.8,170.4 277.9,170.5 278.1,171.4 278.3,171.4 278.5,169.5 278.7,168.7 278.8,171.4 279.0,175.4 279.2,177.4 279.4,177.8 279.6,178.3 279.7,179.4 279.9,181.4 280.1,185.3 280.3,189.2 280.5,190.3 280.6,189.9 280.8,192.5 281.0,197.4 281.2,202.0 281.4,205.1 281.5,208.0 281.7,210.4 281.9,211.6 282.1,213.6 282.3,217.3 282.4,220.1 282.6,221.4 282.8,223.2 283.0,226.3 283.2,228.7 283.3,229.7 283.5,231.3 283.7,233.8 283.9,235.3 284.1,235.6 284.2,235.7 284.4,235.4 284.6,234.2 284.8,233.7 285.0,235.5 285.1,237.1 285.3,235.0 285.5,230.5 285.7,228.6 285.9,228.9 286.0,228.7 286.2,227.1 286.4,224.6 286.6,220.7 286.8,217.0 286.9,215.8 287.1,215.8 287.3,213.3 287.5,208.0 287.7,203.2 287.8,200.3 288.0,197.8 288.2,195.3 288.4,193.3 288.6,191.1 288.7,188.0 288.9,184.8 289.1,183.3 289.3,181.4 289.5,178.1 289.6,175.5 289.8,174.8 290.0,173.5 290.2,170.5 290.4,168.0 290.5,168.2 290.7,168.8 290.9,169.2 291.1,169.3 291.3,168.8 291.4,167.3 291.6,167.0 291.8,170.0 292.0,173.7 292.1,174.9 292.3,174.3 292.5,174.6 292.7,176.8 292.9,179.8 293.0,183.4 293.2,186.6 293.4,187.6 293.6,187.6 293.8,190.3 293.9,196.3 294.1,201.7 294.3,204.3 294.5,206.3 294.7,209.2 294.8,211.7 295.0,213.6 295.2,216.6 295.4,219.9 295.6,222.0 295.7,223.5 295.9,226.6 296.1,229.7 296.3,231.0 296.5,232.1 296.6,234.8 296.8,237.5 297.0,237.9 297.2,237.2 297.4,236.9 297.5,236.7 297.7,236.7 297.9,238.1 298.1,239.4 298.3,237.7 298.4,233.3 298.6,230.4 298.8,230.7 299.0,231.2 299.2,229.7 299.3,227.1 299.5,223.7 299.7,219.8 299.9,216.8 300.1,216.2 300.2,215.3 300.4,210.9 300.6,205.3 300.8,201.3 301.0,198.4 301.1,195.5 301.3,193.0 301.5,191.3 301.7,188.9 301.9,185.5 302.0,182.7 302.2,181.0 302.4,177.8 302.6,174.3 302.8,172.9 302.9,173.0 303.1,170.9 303.3,167.3 303.5,165.9 303.7,166.1 303.8,166.2 304.0,167.2 304.2,167.7 304.4,166.2 304.6,164.2 304.7,165.7 304.9,170.0 305.1,173.1 305.3,173.5 305.5,173.3 305.6,174.4 305.8,176.5 306.0,179.8 306.2,184.3 306.4,186.8 306.5,187.1 306.7,188.3 306.9,193.1 307.1,199.2 307.3,203.2 307.4,206.0 307.6,208.8 307.8,211.1 308.0,212.7 308.2,215.7 308.3,219.8 308.5,222.6 308.7,224.0 308.9,226.6 309.1,230.3 309.2,232.6 309.4,233.4 309.6,235.3 309.8,238.3 310.0,239.7 310.1,239.5 310.3,239.1 310.5,239.0 310.7,238.4 310.9,239.4 311.0,241.5 311.2,240.9 311.4,236.4 311.6,232.6 311.8,232.4 311.9,233.2 312.1,232.0 312.3,229.5 312.5,226.1 312.7,222.0 312.8,218.5 313.0,218.0 313.2,217.6 313.4,213.8 313.6,207.2 313.7,201.9 313.9,199.1 314.1,196.6 314.3,194.1 314.5,192.2 314.6,189.5 314.8,185.3 315.0,182.0 315.2,180.5 315.4,178.4 315.5,174.8 315.7,171.7 315.9,170.6 316.1,169.2 316.3,166.4 316.4,163.9 316.6,163.8 316.8,165.0 317.0,165.5 317.2,165.4 317.3,164.9 317.5,163.1 317.7,162.6 317.9,166.0 318.1,170.7 318.2,172.4 318.4,171.2 318.6,171.1 318.8,174.1 319.0,178.1 319.1,181.8 319.3,184.9 319.5,186.6 319.7,187.2 319.9,189.8 320.0,196.0 320.2,202.1 320.4,205.1 320.6,207.2 320.8,210.6 320.9,213.5 321.1,215.4 321.3,218.6 321.5,222.1 321.7,224.5 321.8,227.0 322.0,230.8 322.2,233.7 322.4,234.4 322.6,235.7 322.7,239.2 322.9,242.3 323.1,242.3 323.3,240.8 323.5,240.0 323.6,240.2 323.8,241.0 324.0,242.7 324.2,243.4 324.4,240.4 324.5,235.6 324.7,233.4 324.9,234.6 325.1,235.1 325.3,232.5 325.4,228.6 325.6,224.6 325.8,221.2 326.0,219.1 326.2,218.3 326.3,216.2 326.5,210.5 326.7,203.3 326.9,199.4 327.1,197.9 327.2,196.0 327.4,192.6 327.6,189.6 327.8,186.5 328.0,182.5 328.1,179.8 328.3,178.5 328.5,175.8 328.7,171.5 328.9,168.9 329.0,167.8 329.2,165.3 329.4,162.2 329.6,161.4 329.8,162.8 329.9,163.7 330.1,163.7 330.3,163.3 330.5,162.2 330.7,160.9 330.8,161.9 331.0,166.4 331.2,170.5 331.4,170.0 331.6,168.5 331.7,170.6 331.9,175.5 332.1,179.4 332.3,182.9 332.5,185.1 332.6,185.8 332.8,187.4 333.0,193.3 333.2,200.7 333.4,204.8 333.5,206.3 333.7,208.7 333.9,211.5 334.1,214.3 334.3,218.2 334.4,222.6 334.6,225.4 334.8,226.6 335.0,228.9 335.2,233.6 335.3,236.8 335.5,238.2 335.7,240.3 335.9,242.8 336.1,243.6 336.2,242.6 336.4,242.4 336.6,242.8 336.8,242.8 336.9,243.6 337.1,245.0 337.3,243.9 337.5,239.4 337.7,236.1 337.8,236.6 338.0,237.7 338.2,235.4 338.4,230.5 338.6,226.3 338.7,223.3 338.9,221.0 339.1,220.2 339.3,218.5 339.5,212.8 339.6,204.8 339.8,199.9 340.0,198.8 340.2,197.6 340.4,193.9 340.5,190.0 340.7,187.1 340.9,183.5 341.1,179.9 341.3,177.8 341.4,175.4 341.6,171.6 341.8,167.8 342.0,166.1 342.2,164.7 342.3,161.6 342.5,159.7 342.7,161.2 342.9,162.9 343.1,162.1 343.2,160.4 343.4,159.5 343.6,159.4 343.8,160.9 344.0,164.7 344.1,168.1 344.3,167.7 344.5,165.9 344.7,168.1 344.9,174.2 345.0,178.6 345.2,180.6 345.4,181.9 345.6,183.6 345.8,185.8 345.9,190.6 346.1,198.1 346.3,204.6 346.5,206.2 346.7,207.1 346.8,210.6 347.0,214.5 347.2,218.2 347.4,221.7 347.6,225.2 347.7,226.7 347.9,228.2 348.1,232.5 348.3,237.1 348.5,239.5 348.6,240.5 348.8,242.9 349.0,244.9 349.2,244.2 349.4,243.2 349.5,244.4 349.7,245.9 349.9,246.3 350.1,246.0 350.3,244.8 350.4,241.2 350.6,237.9 350.8,237.7 351.0,239.5 351.2,237.7 351.3,232.3 351.5,227.3 351.7,225.0 351.9,223.4 352.1,222.2 352.2,220.5 352.4,215.6 352.6,207.5 352.8,201.8 353.0,199.9 353.1,198.8 353.3,194.7 353.5,189.9 353.7,186.4 353.9,182.9 354.0,179.7 354.2,178.0 354.4,177.0 354.6,173.5 354.8,168.3 354.9,165.3 355.1,164.4 355.3,162.5 355.5,160.2 355.7,159.7 355.8,160.6 356.0,159.8 356.2,158.2 356.4,158.0 356.6,158.4 356.7,159.0 356.9,161.7 357.1,165.4 357.3,167.0 357.5,165.9 357.6,166.3 357.8,170.8 358.0,176.0 358.2,179.4 358.4,181.5 358.5,182.8 358.7,183.7 358.9,186.6 359.1,194.0 359.3,202.3 359.4,206.2 359.6,206.8 359.8,208.8 360.0,212.7 360.2,216.8 360.3,220.9 360.5,225.4 360.7,227.6 360.9,227.8 361.1,230.1 361.2,235.3 361.4,239.5 361.6,240.8 361.8,242.4 362.0,244.9 362.1,245.3 362.3,244.6 362.5,245.0 362.7,245.6 362.9,245.5 363.0,246.0 363.2,247.2 363.4,245.5 363.6,240.7 363.8,236.9 363.9,236.8 364.1,237.4 364.3,235.6 364.5,231.9 364.7,227.9 364.8,223.0 365.0,219.8 365.2,219.8 365.4,219.3 365.6,214.0 365.7,205.8 365.9,199.7 366.1,196.8 366.3,195.2 366.5,192.6 366.6,189.7 366.8,185.8 367.0,180.4 367.2,177.1 367.4,176.5 367.5,176.1 367.7,172.4 367.9,167.2 368.1,164.6 368.3,163.6 368.4,161.6 368.6,159.8 368.8,160.1 369.0,160.8 369.2,160.1 369.3,159.5 369.5,159.8 369.7,159.8 369.9,159.6 370.1,161.9 370.2,167.0 370.4,170.2 370.6,169.4 370.8,168.9 371.0,172.0 371.1,176.4 371.3,180.5 371.5,184.4 371.7,186.9 371.9,186.9 372.0,189.1 372.2,196.3 372.4,204.3 372.6,208.2 372.8,209.7 372.9,211.9 373.1,214.6 373.3,217.6 373.5,221.9 373.7,226.4 373.8,228.7 374.0,229.4 374.2,232.5 374.4,236.8 374.6,239.0 374.7,240.0 374.9,242.2 375.1,244.6 375.3,244.8 375.5,243.9 375.6,243.8 375.8,244.3 376.0,244.0 376.2,244.9 376.4,245.5 376.5,242.4 376.7,237.0 376.9,234.4 377.1,235.4 377.3,235.8 377.4,232.6 377.6,227.9 377.8,224.0 378.0,221.0 378.2,218.9 378.3,218.1 378.5,215.4 378.7,208.3 378.9,200.4 379.1,196.7 379.2,195.9 379.4,194.5 379.6,191.2 379.8,187.7 380.0,183.3 380.1,178.7 380.3,176.9 380.5,176.4 380.7,173.6 380.9,168.8 381.0,165.7 381.2,164.7 381.4,163.6 381.6,161.7 381.7,161.4 381.9,162.1 382.1,161.4 382.3,160.5 382.5,161.0 382.6,161.2 382.8,161.2 383.0,163.3 383.2,167.6 383.4,169.8 383.5,169.0 383.7,169.7 383.9,173.0 384.1,177.1 384.3,180.6 384.4,183.8 384.6,185.5 384.8,186.2 385.0,189.5 385.2,197.2 385.3,204.4 385.5,207.4 385.7,208.1 385.9,210.0 386.1,212.9 386.2,216.8 386.4,221.8 386.6,226.0 386.8,227.0 387.0,227.3 387.1,230.2 387.3,235.4 387.5,239.0 387.7,240.0 387.9,240.6 388.0,242.0 388.2,242.4 388.4,242.3 388.6,243.2 388.8,244.4 388.9,244.1 389.1,243.7 389.3,243.4 389.5,241.2 389.7,236.8 389.8,234.2 390.0,234.8 390.2,235.2 390.4,232.1 390.6,227.3 390.7,223.8 390.9,221.5 391.1,219.9 391.3,218.8 391.5,215.5 391.6,208.5 391.8,201.0 392.0,197.7 392.2,197.6 392.4,195.8 392.5,192.0 392.7,188.1 392.9,183.7 393.1,179.8 393.3,178.0 393.4,178.1 393.6,175.8 393.8,170.8 394.0,166.9 394.2,166.0 394.3,165.3 394.5,163.4 394.7,162.6 394.9,163.1 395.1,163.0 395.2,161.5 395.4,161.0 395.6,161.6 395.8,162.0 396.0,163.7 396.1,168.1 396.3,171.3 396.5,170.8 396.7,170.3 396.9,173.0 397.0,177.5 397.2,181.0 397.4,183.9 397.6,185.4 397.8,186.3 397.9,188.6 398.1,195.2 398.3,202.9 398.5,206.4 398.7,207.2 398.8,209.3 399.0,213.0 399.2,216.5 399.4,220.7 399.6,224.6 399.7,225.7 399.9,226.1 400.1,229.1 400.3,233.8 400.5,236.6 400.6,237.5 400.8,239.3 401.0,241.4 401.2,241.4 401.4,241.1 401.5,241.8 401.7,242.7 401.9,242.6 402.1,243.0 402.3,243.1 402.4,240.3 402.6,236.1 402.8,234.4 403.0,235.3 403.2,234.3 403.3,230.9 403.5,227.3 403.7,223.6 403.9,220.5 404.1,220.0 404.2,220.0 404.4,216.2 404.6,208.5 404.8,202.4 405.0,199.7 405.1,198.0 405.3,195.6 405.5,192.6 405.7,188.4 405.9,183.5 406.0,180.2 406.2,180.6 406.4,180.0 406.6,175.7 406.8,170.8 406.9,168.1 407.1,167.1 407.3,165.8 407.5,164.9 407.7,164.7 407.8,163.4 408.0,161.4 408.2,161.3 408.4,162.7 408.6,163.2 408.7,163.0 408.9,164.2 409.1,167.2 409.3,168.9 409.5,169.4 409.6,171.5 409.8,175.4 410.0,178.1 410.2,180.7 410.4,183.6 410.5,184.7 410.7,185.1 410.9,188.4 411.1,195.5 411.3,201.8 411.4,204.7 411.6,206.2 411.8,208.6 412.0,211.7 412.2,215.7 412.3,221.1 412.5,225.1 412.7,225.4 412.9,225.1 413.1,228.1 413.2,233.0 413.4,236.2 413.6,237.8 413.8,239.0 414.0,240.0 414.1,240.3 414.3,240.7 414.5,242.6 414.7,243.3 414.9,242.4 415.0,242.1 415.2,242.5 415.4,241.0 415.6,237.5 415.8,235.4 415.9,235.3 416.1,233.8 416.3,230.8 416.5,227.5 416.7,224.1 416.8,220.6 417.0,219.1 417.2,219.6 417.4,217.2 417.6,210.8 417.7,203.9 417.9,200.7 418.1,198.9 418.3,196.4 418.5,193.5 418.6,189.6 418.8,184.1 419.0,179.6 419.2,179.5 419.4,179.8 419.5,177.1 419.7,172.4 419.9,169.2 420.1,167.2 420.3,165.6 420.4,165.2 420.6,165.6 420.8,164.5 421.0,162.4 421.2,162.2 421.3,163.0 421.5,162.5 421.7,161.6 421.9,163.6 422.1,167.1 422.2,169.4 422.4,170.2 422.6,171.7 422.8,173.9 423.0,176.5 423.1,179.9 423.3,184.0 423.5,186.1 423.7,185.7 423.9,187.2 424.0,193.4 424.2,199.9 424.4,204.1 424.6,206.8 424.8,208.7 424.9,210.7 425.1,214.4 425.3,220.1 425.5,224.9 425.7,225.6 425.8,225.2 426.0,227.7 426.2,232.0 426.4,235.1 426.5,237.6 426.7,239.2 426.9,239.3 427.1,239.1 427.3,240.6 427.4,242.5 427.6,242.6 427.8,241.9 428.0,242.6 428.2,243.3 428.3,240.9 428.5,237.7 428.7,236.2 428.9,235.6 429.1,233.8 429.2,231.1 429.4,228.1 429.6,223.9 429.8,220.3 430.0,219.8 430.1,220.5 430.3,217.9 430.5,211.2 430.7,204.9 430.9,201.6 431.0,199.1 431.2,196.6 431.4,194.5 431.6,190.7 431.8,184.7 431.9,180.6 432.1,180.1 432.3,179.8 432.5,177.0 432.7,173.4 432.8,170.9 433.0,168.4 433.2,165.8 433.4,164.8 433.6,165.0 433.7,164.0 433.9,162.8 434.1,163.3 434.3,163.8 434.5,162.4 434.6,161.5 434.8,163.3 435.0,166.9 435.2,168.9 435.4,169.9 435.5,171.3 435.7,173.4 435.9,175.7 436.1,179.3 436.3,184.2 436.4,186.4 436.6,185.6 436.8,186.6 437.0,192.0 437.2,198.4 437.3,203.2 437.5,206.5 437.7,208.9 437.9,210.4 438.1,213.6 438.2,219.4 438.4,224.0 438.6,225.0 438.8,224.6 439.0,227.1 439.1,231.1 439.3,234.3 439.5,236.9 439.7,238.9 439.9,239.9 440.0,239.6 440.2,240.3 440.4,241.9 440.6,242.2 440.8,241.6 440.9,242.0 441.1,243.4 441.3,242.1 441.5,238.1 441.7,235.5 441.8,235.0 442.0,234.3 442.2,232.1 442.4,229.0 442.6,225.1 442.7,220.7 442.9,218.8 443.1,219.4 443.3,218.7 443.5,213.6 443.6,206.5 443.8,201.9 444.0,199.4 444.2,197.1 444.4,194.6 444.5,191.3 444.7,186.4 444.9,181.2 445.1,179.2 445.3,179.6 445.4,178.0 445.6,174.0 445.8,170.9 446.0,169.5 446.2,167.5 446.3,164.9 446.5,164.2 446.7,164.4 446.9,164.0 447.1,163.5 447.2,163.4 447.4,162.9 447.6,161.8 447.8,162.7 448.0,166.7 448.1,169.7 448.3,169.4 448.5,169.1 448.7,172.0 448.9,176.1 449.0,180.4 449.2,184.1 449.4,186.2 449.6,185.8 449.8,186.3 449.9,191.3 450.1,198.2 450.3,202.4 450.5,204.0 450.7,206.1 450.8,210.3 451.0,214.5 451.2,218.5 451.4,222.6 451.6,224.6 451.7,225.1 451.9,227.3 452.1,231.4 452.3,233.6 452.5,234.9 452.6,237.3 452.8,239.8 453.0,240.4 453.2,240.1 453.4,240.7 453.5,241.2 453.7,241.2 453.9,242.0 454.1,243.5 454.3,242.2 454.4,238.3 454.6,235.8 454.8,236.3 455.0,236.0 455.2,233.0 455.3,228.7 455.5,224.4 455.7,220.7 455.9,219.1 456.1,219.6 456.2,218.5 456.4,213.0 456.6,206.7 456.8,203.5 457.0,201.7 457.1,198.8 457.3,195.4 457.5,191.6 457.7,186.4 457.9,181.9 458.0,180.1 458.2,180.1 458.4,178.3 458.6,174.1 458.8,171.0 458.9,169.7 459.1,167.7 459.3,165.6 459.5,165.3 459.7,165.3 459.8,164.3 460.0,163.2 460.2,163.6 460.4,163.3 460.6,162.4 460.7,163.2 460.9,166.0 461.1,168.0 461.3,168.2 461.5,169.6 461.6,172.3 461.8,175.5 462.0,179.5 462.2,184.1 462.4,186.0 462.5,185.4 462.7,186.4 462.9,191.4 463.1,197.3 463.3,201.0 463.4,203.5 463.6,205.8 463.8,208.5 464.0,212.6 464.2,218.6 464.3,223.3 464.5,224.2 464.7,224.1 464.9,226.6 465.1,230.5 465.2,232.9 465.4,234.9 465.6,237.6 465.8,239.0 466.0,239.1 466.1,239.9 466.3,241.5 466.5,241.5 466.7,241.0 466.9,242.0 467.0,243.0 467.2,241.1 467.4,238.1 467.6,236.9 467.8,236.9 467.9,235.5 468.1,232.9 468.3,229.4 468.5,224.8 468.7,220.6 468.8,220.3 469.0,221.4 469.2,218.9 469.4,213.1 469.6,207.9 469.7,204.7 469.9,201.7 470.1,198.9 470.3,196.5 470.5,192.1 470.6,186.3 470.8,182.7 471.0,181.8 471.2,180.8 471.3,177.7 471.5,174.6 471.7,172.9 471.9,170.6 472.1,167.5 472.2,166.1 472.4,165.9 472.6,164.9 472.8,164.0 473.0,164.5 473.1,164.2 473.3,162.2 473.5,161.4 473.7,164.4 473.9,167.5 474.0,167.8 474.2,167.3 474.4,168.8 474.6,171.4 474.8,175.7 474.9,180.6 475.1,184.1 475.3,184.0 475.5,183.5 475.7,186.7 475.8,192.4 476.0,196.7 476.2,199.7 476.4,202.7 476.6,204.8 476.7,207.7 476.9,213.4 477.1,219.0 477.3,221.5 477.5,222.2 477.6,224.3 477.8,227.5 478.0,229.8 478.2,231.6 478.4,234.7 478.5,237.0 478.7,237.8 478.9,238.7 479.1,240.5 479.3,241.2 479.4,240.5 479.6,241.3 479.8,243.1 480.0,242.6 480.2,239.7 480.3,237.9 480.5,237.7 480.7,237.2 480.9,235.9 481.1,233.7 481.2,230.0 481.4,224.7 481.6,221.2 481.8,221.2 482.0,221.5 482.1,218.4 482.3,212.8 482.5,208.5 482.7,205.3 482.9,202.4 483.0,200.4 483.2,197.6 483.4,192.2 483.6,186.2 483.8,183.1 483.9,182.7 484.1,181.3 484.3,178.5 484.5,175.7 484.7,173.4 484.8,170.4 485.0,167.9 485.2,167.2 485.4,166.5 485.6,164.5 485.7,164.0 485.9,164.9 486.1,164.0 486.3,161.7 486.5,161.8 486.6,164.4 486.8,166.9 487.0,167.8 487.2,168.3 487.4,169.2 487.5,171.0 487.7,174.7 487.9,180.4 488.1,183.7 488.3,183.3 488.4,183.1 488.6,186.0 488.8,191.2 489.0,195.5 489.2,199.6 489.3,202.7 489.5,204.3 489.7,207.0 489.9,212.6 490.1,218.0 490.2,220.5 490.4,221.6 490.6,224.1 490.8,226.7 491.0,228.7 491.1,230.8 491.3,234.0 491.5,236.5 491.7,237.7 491.9,238.7 492.0,240.0 492.2,239.8 492.4,238.7 492.6,240.1 492.8,243.0 492.9,243.3 493.1,240.6 493.3,237.9 493.5,236.9 493.7,236.0 493.8,235.1 494.0,233.8 494.2,230.5 494.4,224.9 494.6,221.3 494.7,221.6 494.9,222.1 495.1,219.1 495.3,214.2 495.5,209.6 495.6,205.5 495.8,201.8 496.0,200.3 496.2,198.2 496.4,193.2 496.5,187.6 496.7,184.7 496.9,183.8 497.1,182.0 497.3,179.1 497.4,176.8 497.6,174.2 497.8,171.0 498.0,168.7 498.2,168.2 498.3,167.3 498.5,165.5 498.7,165.1 498.9,165.8 499.1,165.0 499.2,162.7 499.4,162.5 499.6,164.8 499.8,166.6 500.0,167.9 500.1,169.5 500.3,170.8 500.5,171.4 500.7,174.3 500.9,179.8 501.0,183.6 501.2,183.9 501.4,183.7 501.6,185.7 501.8,190.0 501.9,194.6 502.1,199.3 502.3,203.1 502.5,204.6 502.7,206.2 502.8,210.8 503.0,216.7 503.2,220.3 503.4,221.2 503.6,222.2 503.7,224.9 503.9,227.3 504.1,229.8 504.3,233.0 504.5,235.6 504.6,236.4 504.8,237.1 505.0,238.8 505.2,239.7 505.4,238.9 505.5,239.2 505.7,241.3 505.9,242.1 506.1,240.2 506.3,237.6 506.4,236.1 506.6,235.0 506.8,234.3 507.0,233.5 507.2,230.9 507.3,225.7 507.5,221.3 507.7,220.6 507.9,221.3 508.1,219.4 508.2,215.2 508.4,210.8 508.6,206.2 508.8,202.1 509.0,200.2 509.1,199.0 509.3,194.7 509.5,189.1 509.7,185.9 509.9,184.3 510.0,182.3 510.2,179.9 510.4,177.8 510.6,175.7 510.8,172.8 510.9,170.2 511.1,169.2 511.3,167.9 511.5,166.4 511.7,166.2 511.8,167.1 512.0,166.5 512.2,164.2 512.4,163.3 512.6,164.9 512.7,167.1 512.9,168.8 513.1,170.6 513.3,171.7 513.5,171.8 513.6,174.0 513.8,178.7 514.0,183.4 514.2,184.6 514.4,183.9 514.5,185.3 514.7,189.3 514.9,193.9 515.1,198.7 515.3,202.6 515.4,204.7 515.6,205.8 515.8,209.4 516.0,214.9 516.1,218.8 516.3,220.1 516.5,221.5 516.7,224.1 516.9,226.6 517.0,228.8 517.2,231.8 517.4,234.3 517.6,235.3 517.8,236.1 517.9,237.7 518.1,238.3 518.3,237.6 518.5,238.1 518.7,240.1 518.8,241.3 519.0,239.6 519.2,236.8 519.4,235.3 519.6,234.6 519.7,233.7 519.9,232.4 520.1,230.3 520.3,226.1 520.5,221.6 520.6,220.7 520.8,221.7 521.0,220.1 521.2,215.4 521.4,210.6 521.5,206.8 521.7,203.5 521.9,200.8 522.1,199.2 522.3,195.7 522.4,190.5 522.6,186.6 522.8,185.3 523.0,183.9 523.2,181.1 523.3,178.3 523.5,176.7 523.7,174.2 523.9,171.3 524.1,169.9 524.2,169.1 524.4,167.7 524.6,167.2 524.8,167.9 525.0,167.6 525.1,165.2 525.3,163.5 525.5,165.3 525.7,168.3 525.9,169.9 526.0,170.7 526.2,171.5 526.4,172.2 526.6,174.4 526.8,179.0 526.9,183.5 527.1,184.5 527.3,183.6 527.5,185.0 527.7,189.2 527.8,193.7 528.0,198.0 528.2,201.6 528.4,203.4 528.6,204.7 528.7,208.4 528.9,214.4 529.1,218.3 529.3,219.1 529.5,220.1 529.6,222.5 529.8,224.9 530.0,227.7 530.2,230.6 530.4,233.2 530.5,234.3 530.7,235.1 530.9,236.5 531.1,237.5 531.3,237.1 531.4,237.0 531.6,238.9 531.8,240.2 532.0,238.7 532.2,236.2 532.3,234.9 532.5,233.9 532.7,232.8 532.9,232.1 533.1,230.6 533.2,226.4 533.4,221.8 533.6,220.3 533.8,221.0 534.0,219.6 534.1,216.3 534.3,212.2 534.5,207.6 534.7,203.0 534.9,200.7 535.0,199.9 535.2,196.9 535.4,191.8 535.6,187.6 535.8,185.7 535.9,184.3 536.1,182.5 536.3,180.6 536.5,178.1 536.7,174.7 536.8,171.8 537.0,171.2 537.2,171.3 537.4,169.6 537.6,168.0 537.7,167.8 537.9,167.8 538.1,166.7 538.3,165.9 538.5,167.1 538.6,168.4 538.8,169.1 539.0,170.9 539.2,172.8 539.4,173.7 539.5,174.5 539.7,178.0 539.9,182.8 540.1,185.2 540.3,185.2 540.4,185.8 540.6,188.4 540.8,192.4 541.0,196.8 541.2,201.1 541.3,203.8 541.5,204.6 541.7,206.8 541.9,212.2 542.1,217.5 542.2,219.5 542.4,220.1 542.6,221.8 542.8,224.0 543.0,226.5 543.1,229.4 543.3,232.2 543.5,233.5 543.7,233.7 543.9,235.0 544.0,236.4 544.2,236.4 544.4,235.9 544.6,237.1 544.8,238.7 544.9,238.5 545.1,236.5 545.3,234.5 545.5,233.4 545.7,232.3 545.8,231.3 546.0,230.3 546.2,227.6 546.4,222.6 546.6,219.2 546.7,219.2 546.9,219.6 547.1,217.0 547.3,212.7 547.5,208.7 547.6,204.6 547.8,201.2 548.0,199.6 548.2,197.8 548.4,193.7 548.5,188.7 548.7,186.3 548.9,185.3 549.1,183.2 549.3,180.3 549.4,178.9 549.6,177.1 549.8,174.2 550.0,172.2 550.2,171.0 550.3,169.5 550.5,168.2 550.7,168.9 550.9,169.9 551.1,168.5 551.2,166.2 551.4,166.4 551.6,168.8 551.8,171.1 552.0,172.4 552.1,173.2 552.3,173.6 552.5,174.2 552.7,177.3 552.9,182.3 553.0,185.3 553.2,185.3 553.4,185.6 553.6,188.2 553.8,192.2 553.9,195.9 554.1,200.0 554.3,203.2 554.5,205.1 554.7,207.1 554.8,211.3 555.0,215.8 555.2,218.0 555.4,218.9 555.6,221.0 555.7,223.7 555.9,225.6 556.1,227.0 556.3,229.7 556.5,232.4 556.6,234.0 556.8,235.0 557.0,235.9 557.2,235.4 557.4,234.8 557.5,236.0 557.7,238.2 557.9,238.2 558.1,235.5 558.3,233.0 558.4,232.4 558.6,232.5 558.8,231.6 559.0,229.8 559.2,227.0 559.3,223.0 559.5,219.7 559.7,219.3 559.9,219.8 560.1,217.5 560.2,212.7 560.4,208.5 560.6,205.5 560.8,202.8 560.9,199.9 561.1,197.3 561.3,194.3 561.5,190.4 561.7,187.1 561.8,186.0 562.0,184.8 562.2,182.0 562.4,179.3 562.6,178.1 562.7,176.1 562.9,173.0 563.1,170.8 563.3,170.1 563.5,169.7 563.6,169.7 563.8,170.2 564.0,169.8 564.2,167.6 564.4,166.6 564.5,168.8 564.7,171.9 564.9,173.3 565.1,173.3 565.3,173.9 565.4,175.2 565.6,177.6 565.8,181.8 566.0,185.0 566.2,185.3 566.3,184.9 566.5,187.2 566.7,192.2 566.9,196.5 567.1,199.3 567.2,202.1 567.4,205.0 567.6,207.3 567.8,210.1 568.0,213.8 568.1,216.8 568.3,218.1 568.5,219.7 568.7,222.8 568.9,225.2 569.0,226.3 569.2,228.3 569.4,231.6 569.6,233.7 569.8,234.0 569.9,234.3 570.1,234.5 570.3,234.5 570.5,235.2 570.7,237.2 570.8,237.7 571.0,235.1 571.2,232.2 571.4,231.4 571.6,231.5 571.7,231.0 571.9,229.7 572.1,227.1 572.3,223.1 572.5,220.1 572.6,220.0 572.8,220.3 573.0,217.6 573.2,212.9 573.4,208.7 573.5,205.5 573.7,202.6 573.9,200.4 574.1,198.5 574.3,195.3 574.4,190.8 574.6,188.3 574.8,187.5 575.0,185.7 575.2,182.8 575.3,180.6 575.5,178.9 575.7,176.5 575.9,173.8 576.1,172.9 576.2,172.1 576.4,170.8 576.6,170.2 576.8,170.7 577.0,170.4 577.1,168.4 577.3,167.9 577.5,169.7 577.7,171.6 577.9,172.8 578.0,174.0 578.2,175.0 578.4,175.5 578.6,177.4 578.8,181.8 578.9,185.1 579.1,185.2 579.3,185.0 579.5,187.2 579.7,191.5 579.8,195.7 580.0,199.4 580.2,202.3 580.4,204.1 580.6,205.8 580.7,209.1 580.9,213.8 581.1,216.9 581.3,217.6 581.5,218.4 581.6,220.7 581.8,223.8 582.0,226.4 582.2,228.6 582.4,230.8 582.5,232.0 582.7,232.2 582.9,233.2 583.1,234.7 583.3,235.1 583.4,234.8 583.6,235.2 583.8,236.0 584.0,235.0 584.2,233.0 584.3,231.8 584.5,231.5 584.7,230.5 584.9,228.7 585.1,226.8 585.2,224.0 585.4,220.8 585.6,219.4 585.8,219.9 586.0,218.5 586.1,214.0 586.3,208.9 586.5,205.5 586.7,203.2 586.9,201.2 587.0,199.3 587.2,196.4 587.4,192.2 587.6,188.2 587.8,186.8 587.9,186.9 588.1,184.9 588.3,181.4 588.5,178.5 588.7,176.8 588.8,174.6 589.0,173.1 589.2,172.7 589.4,172.0 589.6,170.7 589.7,170.3 589.9,170.3 590.1,169.5 590.3,168.3 590.5,169.4 590.6,171.9 590.8,173.6 591.0,174.0 591.2,174.6 591.4,175.7 591.5,177.3 591.7,180.1 591.9,183.9 592.1,186.0 592.3,185.6 592.4,186.2 592.6,190.0 592.8,195.4 593.0,199.2 593.2,201.9 593.3,203.9 593.5,205.6 593.7,207.8 593.9,211.8 594.1,216.0 594.2,217.8 594.4,218.1 594.6,220.1 594.8,223.3 595.0,225.9 595.1,227.7 595.3,229.8 595.5,231.8 595.7,232.5 595.9,232.8 596.0,233.8 596.2,234.6 596.4,234.7 596.6,235.0 596.8,236.2 596.9,235.8 597.1,233.3 597.3,231.2 597.5,230.6 597.7,230.1 597.8,229.0 598.0,227.6 598.2,225.1 598.4,221.7 598.6,219.3 598.7,219.3 598.9,218.9 599.1,215.1 599.3,209.7 599.5,205.7 599.6,203.4 599.8,201.3 600.0,199.5 600.2,197.3 600.4,193.8 600.5,189.7 600.7,187.1 600.9,186.5 601.1,185.2 601.3,182.2 601.4,179.1 601.6,177.1 601.8,175.3 602.0,173.6 602.2,173.0 602.3,172.9 602.5,171.5 602.7,169.7 602.9,169.7 603.1,170.1 603.2,169.4 603.4,169.3 603.6,171.3 603.8,173.2 604.0,173.8 604.1,174.6 604.3,176.3 604.5,177.5 604.7,179.4 604.8,183.0 605.0,185.5 605.2,185.6 605.4,186.0 605.6,189.4 605.7,194.4 605.9,198.4 606.1,201.4 606.3,203.7 606.5,204.9 606.6,206.9 606.8,210.9 607.0,215.5 607.2,217.7 607.4,217.9 607.5,219.1 607.7,222.3 607.9,225.3 608.1,227.6 608.3,229.9 608.4,231.2 608.6,231.2 608.8,231.9 609.0,233.7 609.2,234.9 609.3,234.7 609.5,234.8 609.7,235.8 609.9,235.5 610.1,233.4 610.2,232.1 610.4,231.6 610.6,230.8 610.8,229.0 611.0,227.0 611.1,224.5 611.3,221.6 611.5,220.0 611.7,220.2 611.9,219.3 612.0,215.1 612.2,210.0 612.4,206.7 612.6,204.6 612.8,202.7 612.9,200.4 613.1,197.7 613.3,193.7 613.5,189.4 613.7,187.7 613.8,187.5 614.0,186.0 614.2,182.8 614.4,179.7 614.6,177.2 614.7,175.0 614.9,174.0 615.1,174.1 615.3,173.4 615.5,171.5 615.6,170.0 615.8,170.2 616.0,170.0 616.2,169.2 616.4,169.6 616.5,171.6 616.7,173.1 616.9,173.7 617.1,174.5 617.3,176.0 617.4,177.6 617.6,179.5 617.8,182.6 618.0,184.6 618.2,184.8 618.3,185.8 618.5,189.5 618.7,194.1 618.9,197.9 619.1,200.7 619.2,202.7 619.4,203.9 619.6,206.1 619.8,210.6 620.0,215.3 620.1,216.9 620.3,217.1 620.5,218.6 620.7,221.9 620.9,225.2 621.0,228.0 621.2,229.9 621.4,230.0 621.6,229.2 621.8,230.5 621.9,233.6 622.1,235.9 622.3,235.6 622.5,234.7 622.7,234.4 622.8,234.2 623.0,233.4 623.2,233.1 623.4,232.4 623.6,230.2 623.7,227.7 623.9,226.3 624.1,225.5 624.3,223.4 624.5,221.2 624.6,219.9 624.8,218.5 625.0,215.3 625.2,211.1 625.4,208.0 625.5,204.9 625.7,202.3 625.9,200.7 626.1,198.9 626.3,195.1 626.4,190.5 626.6,187.5 626.8,187.0 627.0,186.4 627.2,183.8 627.3,180.4 627.5,177.5 627.7,175.2 627.9,174.4 628.1,175.2 628.2,175.2 628.4,172.5 628.6,169.4 628.8,168.9 629.0,169.8 629.1,170.2 629.3,170.8 629.5,171.7 629.7,172.0 629.9,172.4 630.0,174.4 630.2,177.1 630.4,178.4 630.6,179.2 630.8,181.2 630.9,183.6 631.1,185.1 631.3,186.3 631.5,189.1 631.7,193.2 631.8,196.8 632.0,199.5 632.2,202.2 632.4,204.5 632.6,206.0 632.7,208.9 632.9,213.5 633.1,217.1 633.3,218.1 633.5,218.4 633.6,220.8 633.8,224.4 634.0,227.4 634.2,229.1 634.4,229.8 634.5,229.6 634.7,229.7 634.9,232.0 635.1,235.3 635.3,236.5 635.4,235.3 635.6,234.1 635.8,233.8 636.0,233.5 636.2,232.6 636.3,231.8 636.5,230.6 636.7,228.3 636.9,226.2 637.1,225.4 637.2,224.3 637.4,221.8 637.6,219.5 637.8,217.9 638.0,215.5 638.1,211.7 638.3,207.9 638.5,205.4 638.7,203.3 638.9,201.1 639.0,198.8 639.2,196.1 639.4,191.8 639.6,187.8 639.8,186.4 639.9,186.2 640.1,184.5 640.3,181.1 640.5,177.8 640.7,176.0 640.8,175.4 641.0,175.2 641.2,175.1 641.4,173.4 641.6,169.9 641.7,167.9 641.9,169.0 642.1,171.2 642.3,171.9 642.5,171.8 642.6,172.3 642.8,173.0 643.0,174.1 643.2,176.5 643.4,179.3 643.5,180.4 643.7,180.2 643.9,181.9 644.1,184.9 644.3,187.6 644.4,189.9 644.6,193.4 644.8,196.7 645.0,198.9 645.2,201.3 645.3,204.5 645.5,206.7 645.7,208.8 645.9,212.4 646.1,216.1 646.2,218.0 646.4,218.7 646.6,220.7 646.8,223.9 647.0,226.7 647.1,228.5 647.3,229.6 647.5,229.6 647.7,229.7 647.9,231.7 648.0,235.2 648.2,236.8 648.4,235.4 648.6,233.3 648.8,232.9 648.9,233.4 649.1,233.2 649.3,232.4 649.5,230.7 649.6,227.8 649.8,225.0 650.0,224.5 650.2,225.0 650.4,223.5 650.5,220.1 650.7,217.0 650.9,214.5 651.1,211.5 651.3,208.8 651.4,206.8 651.6,203.9 651.8,200.3 652.0,197.6 652.2,195.7 652.3,192.7 652.5,189.1 652.7,187.2 652.9,186.0 653.1,183.5 653.2,180.4 653.4,178.2 653.6,176.9 653.8,175.8 654.0,175.3 654.1,175.3 654.3,173.4 654.5,170.1 654.7,168.5 654.9,169.8 655.0,171.6 655.2,171.9 655.4,171.6 655.6,171.8 655.8,172.2 655.9,174.1 656.1,177.4 656.3,180.3 656.5,180.4 656.7,179.9 656.8,181.4 657.0,184.4 657.2,187.5 657.4,190.6 657.6,193.8 657.7,196.1 657.9,197.8 658.1,200.9 658.3,204.7 658.5,207.3 658.6,209.1 658.8,212.3 659.0,215.5 659.2,217.2 659.4,218.8 659.5,221.3 659.7,223.9 659.9,225.8 660.1,228.0 660.3,229.8 660.4,230.0 660.6,229.6 660.8,231.2 661.0,234.4 661.2,236.1 661.3,235.2 661.5,233.7 661.7,233.1 661.9,232.5 662.1,232.5 662.2,232.9 662.4,231.4 662.6,227.5 662.8,224.6 663.0,224.4 663.1,224.7 663.3,223.4 663.5,220.7 663.7,217.6 663.9,213.9 664.0,210.8 664.2,209.3 664.4,207.9 664.6,204.3 664.8,200.0 664.9,197.4 665.1,195.6 665.3,193.1 665.5,190.0 665.7,188.0 665.8,186.2 666.0,183.5 666.2,180.9 666.4,179.0 666.6,177.1 666.7,175.4 666.9,174.7 667.1,175.1 667.3,174.0 667.5,171.0 667.6,169.0 667.8,169.5 668.0,171.0 668.2,171.8 668.4,172.5 668.5,172.7 668.7,172.3 668.9,173.3 669.1,176.8 669.3,180.4 669.4,181.1 669.6,180.6 669.8,181.6 670.0,184.0 670.2,187.1 670.3,190.8 670.5,194.1 670.7,196.0 670.9,197.1 671.1,199.9 671.2,204.3 671.4,207.5 671.6,209.4 671.8,211.7 672.0,214.7 672.1,217.0 672.3,218.8 672.5,221.5 672.7,224.1 672.9,225.6 673.0,227.5 673.2,229.5 673.4,229.9 673.6,229.5 673.8,230.7 673.9,233.6 674.1,235.4 674.3,235.2 674.5,234.5 674.7,233.3 674.8,232.0 675.0,232.2 675.2,232.9 675.4,231.7 675.6,227.9 675.7,224.6 675.9,223.9 676.1,224.2 676.3,223.1 676.5,221.0 676.6,218.2 676.8,214.2 677.0,210.8 677.2,209.3 677.4,207.9 677.5,204.4 677.7,200.6 677.9,198.0 678.1,195.7 678.3,192.7 678.4,190.2 678.6,188.3 678.8,185.9 679.0,183.4 679.2,181.5 679.3,179.8 679.5,177.0 679.7,174.9 679.9,175.3 680.1,176.0 680.2,174.5 680.4,171.7 680.6,170.0 680.8,169.7 681.0,170.1 681.1,171.7 681.3,173.1 681.5,172.8 681.7,171.8 681.9,173.2 682.0,176.7 682.2,179.8 682.4,181.1 682.6,182.1 682.8,182.9 682.9,183.6" fill="none" stroke="#1C93F6" stroke-width="1.55" stroke-linejoin="round"/><polyline points="35.2,203.7 35.4,203.5 35.6,203.3 35.8,203.2 35.9,203.1 36.1,203.0 36.3,202.9 36.5,202.9 36.7,203.0 36.8,203.2 37.0,203.3 37.2,203.5 37.4,203.7 37.6,204.0 37.7,204.4 37.9,204.7 38.1,205.1 38.3,205.5 38.5,205.9 38.6,206.3 38.8,206.7 39.0,207.2 39.2,207.7 39.4,208.0 39.5,208.4 39.7,208.9 39.9,209.2 40.1,209.4 40.3,209.7 40.4,209.8 40.6,209.9 40.8,209.9 41.0,209.9 41.2,209.8 41.3,209.6 41.5,209.5 41.7,209.4 41.9,209.1 42.1,208.6 42.2,208.0 42.4,207.6 42.6,207.1 42.8,206.6 43.0,205.9 43.1,205.1 43.3,204.2 43.5,203.3 43.7,202.6 43.9,201.8 44.0,200.8 44.2,199.7 44.4,198.7 44.6,197.8 44.8,196.8 44.9,196.0 45.1,195.2 45.3,194.2 45.5,193.3 45.7,192.5 45.8,191.8 46.0,191.1 46.2,190.4 46.4,190.0 46.6,189.8 46.7,189.4 46.9,189.2 47.1,189.1 47.3,189.2 47.5,189.5 47.6,189.9 47.8,190.4 48.0,190.6 48.2,191.0 48.4,191.7 48.5,192.8 48.7,193.8 48.9,194.7 49.1,195.7 49.3,196.6 49.4,197.8 49.6,199.3 49.8,200.8 50.0,202.1 50.2,203.2 50.3,204.5 50.5,206.1 50.7,207.7 50.9,209.1 51.1,210.5 51.2,211.6 51.4,212.6 51.6,213.8 51.8,215.0 52.0,216.1 52.1,216.9 52.3,217.7 52.5,218.6 52.7,219.2 52.9,219.6 53.0,219.9 53.2,220.3 53.4,220.4 53.6,220.3 53.8,220.0 53.9,219.5 54.1,218.9 54.3,218.4 54.5,218.1 54.7,217.3 54.8,216.0 55.0,214.6 55.2,213.5 55.4,212.4 55.6,211.1 55.7,209.8 55.9,208.1 56.1,206.1 56.3,204.5 56.5,203.2 56.6,201.8 56.8,200.0 57.0,198.1 57.2,196.2 57.4,194.5 57.5,193.0 57.7,191.8 57.9,190.6 58.1,189.1 58.3,187.7 58.4,186.6 58.6,185.8 58.8,184.9 59.0,184.0 59.2,183.4 59.3,182.9 59.5,182.4 59.7,182.2 59.9,182.3 60.1,182.5 60.2,182.8 60.4,183.6 60.6,184.4 60.8,184.9 61.0,185.4 61.1,186.3 61.3,187.7 61.5,189.3 61.7,190.7 61.9,192.1 62.0,193.4 62.2,194.7 62.4,196.5 62.6,198.7 62.8,200.7 62.9,202.2 63.1,203.6 63.3,205.5 63.5,207.6 63.7,209.5 63.8,211.3 64.0,213.0 64.2,214.3 64.4,215.5 64.6,217.0 64.7,218.4 64.9,219.5 65.1,220.4 65.3,221.5 65.5,222.5 65.6,223.0 65.8,223.3 66.0,223.6 66.2,224.0 66.4,224.1 66.5,223.8 66.7,223.3 66.9,222.5 67.1,221.5 67.3,221.0 67.4,220.6 67.6,219.6 67.8,217.9 68.0,216.1 68.2,214.7 68.3,213.3 68.5,211.9 68.7,210.4 68.9,208.4 69.0,206.2 69.2,204.2 69.4,202.6 69.6,200.9 69.8,198.8 69.9,196.7 70.1,194.7 70.3,193.0 70.5,191.1 70.7,189.5 70.8,188.2 71.0,186.8 71.2,185.5 71.4,184.5 71.6,183.4 71.7,182.1 71.9,181.0 72.1,180.6 72.3,180.4 72.5,180.1 72.6,179.7 72.8,179.7 73.0,179.9 73.2,180.5 73.4,181.6 73.5,182.6 73.7,183.0 73.9,183.4 74.1,184.6 74.3,186.4 74.4,188.2 74.6,189.7 74.8,191.1 75.0,192.8 75.2,194.5 75.3,196.6 75.5,198.9 75.7,201.1 75.9,202.7 76.1,204.5 76.2,206.6 76.4,208.8 76.6,210.6 76.8,212.5 77.0,214.5 77.1,216.1 77.3,217.5 77.5,218.9 77.7,220.1 77.9,221.0 78.0,222.2 78.2,223.7 78.4,224.8 78.6,225.0 78.8,225.0 78.9,225.3 79.1,225.6 79.3,225.7 79.5,225.5 79.7,224.9 79.8,223.6 80.0,222.4 80.2,221.8 80.4,221.4 80.6,220.3 80.7,218.7 80.9,216.9 81.1,215.0 81.3,213.2 81.5,211.9 81.6,210.4 81.8,208.3 82.0,205.7 82.2,203.5 82.4,201.7 82.5,199.9 82.7,198.0 82.9,196.0 83.1,193.9 83.3,191.7 83.4,189.9 83.6,188.6 83.8,187.3 84.0,185.7 84.2,184.3 84.3,183.4 84.5,182.2 84.7,181.0 84.9,180.1 85.1,179.6 85.2,179.3 85.4,179.1 85.6,179.1 85.8,179.1 86.0,179.2 86.1,179.9 86.3,181.2 86.5,182.4 86.7,182.9 86.9,183.4 87.0,184.6 87.2,186.3 87.4,188.1 87.6,190.1 87.8,191.8 87.9,193.1 88.1,194.6 88.3,196.9 88.5,199.7 88.7,201.8 88.8,203.4 89.0,205.1 89.2,207.2 89.4,209.3 89.6,211.5 89.7,213.8 89.9,215.4 90.1,216.6 90.3,218.0 90.5,219.7 90.6,221.0 90.8,222.0 91.0,223.1 91.2,224.2 91.4,224.8 91.5,225.3 91.7,225.8 91.9,226.1 92.1,226.1 92.3,226.1 92.4,225.9 92.6,224.8 92.8,223.4 93.0,222.4 93.2,222.0 93.3,221.4 93.5,220.1 93.7,218.3 93.9,216.5 94.1,214.6 94.2,213.1 94.4,211.8 94.6,210.0 94.8,207.2 95.0,204.7 95.1,203.0 95.3,201.3 95.5,199.3 95.7,197.4 95.9,195.3 96.0,193.1 96.2,191.1 96.4,189.6 96.6,188.1 96.8,186.4 96.9,184.9 97.1,184.0 97.3,182.9 97.5,181.4 97.7,180.4 97.8,180.1 98.0,179.7 98.2,179.3 98.4,179.0 98.6,178.7 98.7,178.5 98.9,179.2 99.1,180.6 99.3,181.9 99.5,182.3 99.6,182.8 99.8,183.9 100.0,185.5 100.2,187.2 100.4,189.0 100.5,190.5 100.7,191.6 100.9,193.1 101.1,195.6 101.3,198.3 101.4,200.4 101.6,202.1 101.8,204.0 102.0,205.9 102.2,207.8 102.3,209.9 102.5,212.1 102.7,213.9 102.9,215.4 103.1,217.1 103.2,218.8 103.4,220.0 103.6,221.0 103.8,222.3 104.0,223.7 104.1,224.4 104.3,224.7 104.5,225.1 104.7,225.5 104.9,225.9 105.0,226.3 105.2,226.4 105.4,225.3 105.6,223.8 105.8,223.0 105.9,222.7 106.1,221.9 106.3,220.7 106.5,219.2 106.7,217.3 106.8,215.5 107.0,214.3 107.2,213.4 107.4,211.7 107.6,209.2 107.7,206.7 107.9,204.5 108.1,202.6 108.3,200.9 108.5,199.2 108.6,197.2 108.8,194.9 109.0,192.8 109.2,191.3 109.4,189.9 109.5,188.1 109.7,186.4 109.9,185.2 110.1,184.1 110.3,182.8 110.4,181.6 110.6,180.9 110.8,180.4 111.0,179.8 111.2,179.5 111.3,179.4 111.5,178.9 111.7,178.5 111.9,179.0 112.1,180.3 112.2,181.5 112.4,182.2 112.6,182.8 112.8,183.7 113.0,185.0 113.1,186.7 113.3,188.6 113.5,190.3 113.7,191.2 113.8,192.3 114.0,194.4 114.2,197.2 114.4,199.6 114.6,201.4 114.7,203.0 114.9,204.7 115.1,206.6 115.3,208.8 115.5,211.2 115.6,213.3 115.8,214.6 116.0,215.8 116.2,217.5 116.4,219.3 116.5,220.5 116.7,221.5 116.9,222.7 117.1,223.6 117.3,224.2 117.4,224.7 117.6,225.2 117.8,225.5 118.0,225.7 118.2,226.0 118.3,226.1 118.5,225.3 118.7,223.9 118.9,222.9 119.1,222.2 119.2,221.4 119.4,220.4 119.6,219.2 119.8,217.4 120.0,215.3 120.1,213.8 120.3,213.0 120.5,211.6 120.7,209.2 120.9,206.5 121.0,204.3 121.2,202.4 121.4,200.8 121.6,199.3 121.8,197.4 121.9,194.9 122.1,192.6 122.3,191.0 122.5,189.7 122.7,188.1 122.8,186.3 123.0,185.0 123.2,184.0 123.4,182.8 123.6,181.7 123.7,181.1 123.9,180.6 124.1,180.0 124.3,179.6 124.5,179.4 124.6,179.2 124.8,178.7 125.0,179.0 125.2,180.3 125.4,181.8 125.5,182.5 125.7,183.0 125.9,183.9 126.1,185.2 126.3,186.7 126.4,188.7 126.6,190.6 126.8,191.8 127.0,192.7 127.2,194.4 127.3,197.0 127.5,199.7 127.7,201.7 127.9,203.3 128.1,205.0 128.2,206.7 128.4,208.7 128.6,211.1 128.8,213.4 129.0,214.8 129.1,216.0 129.3,217.5 129.5,219.3 129.7,220.5 129.9,221.5 130.0,222.6 130.2,223.5 130.4,224.1 130.6,224.5 130.8,225.0 130.9,225.4 131.1,225.4 131.3,225.8 131.5,226.1 131.7,225.4 131.8,223.9 132.0,222.7 132.2,222.1 132.4,221.3 132.6,220.2 132.7,218.9 132.9,217.1 133.1,215.0 133.3,213.5 133.5,212.7 133.6,211.5 133.8,209.2 134.0,206.4 134.2,204.1 134.4,202.4 134.5,200.8 134.7,199.1 134.9,197.3 135.1,194.9 135.3,192.5 135.4,190.7 135.6,189.7 135.8,188.6 136.0,186.7 136.2,184.9 136.3,183.9 136.5,182.8 136.7,181.8 136.9,181.2 137.1,180.8 137.2,180.3 137.4,179.8 137.6,179.8 137.8,179.6 138.0,179.2 138.1,179.3 138.3,180.4 138.5,181.8 138.7,182.6 138.9,183.2 139.0,184.2 139.2,185.6 139.4,187.3 139.6,189.2 139.8,191.1 139.9,192.0 140.1,192.8 140.3,194.6 140.5,197.4 140.7,200.0 140.8,201.7 141.0,203.2 141.2,205.0 141.4,206.8 141.6,208.9 141.7,211.3 141.9,213.3 142.1,214.5 142.3,215.7 142.5,217.4 142.6,219.2 142.8,220.4 143.0,221.3 143.2,222.5 143.4,223.4 143.5,223.8 143.7,224.1 143.9,224.7 144.1,225.0 144.3,225.0 144.4,225.3 144.6,225.5 144.8,224.6 145.0,223.3 145.2,222.4 145.3,221.8 145.5,220.8 145.7,219.6 145.9,218.0 146.1,216.0 146.2,214.1 146.4,213.1 146.6,212.4 146.8,210.8 147.0,208.2 147.1,205.6 147.3,203.6 147.5,201.9 147.7,200.2 147.9,198.6 148.0,196.6 148.2,194.2 148.4,192.1 148.6,190.7 148.8,189.5 148.9,187.7 149.1,186.1 149.3,185.0 149.5,183.9 149.7,182.7 149.8,181.8 150.0,181.3 150.2,180.9 150.4,180.6 150.6,180.5 150.7,180.2 150.9,179.5 151.1,179.4 151.3,180.5 151.5,181.9 151.6,182.6 151.8,183.0 152.0,183.9 152.2,185.1 152.4,186.8 152.5,188.9 152.7,190.7 152.9,191.6 153.1,192.3 153.3,193.9 153.4,196.4 153.6,198.8 153.8,200.8 154.0,202.5 154.2,204.4 154.3,206.1 154.5,208.2 154.7,210.5 154.9,212.4 155.1,213.6 155.2,215.0 155.4,216.8 155.6,218.3 155.8,219.2 156.0,220.3 156.1,221.8 156.3,222.8 156.5,223.3 156.7,223.7 156.9,223.9 157.0,223.9 157.2,224.2 157.4,225.0 157.6,225.5 157.8,224.8 157.9,223.4 158.1,222.5 158.3,222.0 158.5,221.5 158.6,220.5 158.8,219.0 159.0,217.2 159.2,215.1 159.4,213.7 159.5,213.0 159.7,212.2 159.9,210.2 160.1,207.9 160.3,205.9 160.4,204.0 160.6,202.0 160.8,200.3 161.0,198.7 161.2,196.6 161.3,194.4 161.5,192.7 161.7,191.5 161.9,189.9 162.1,188.1 162.2,186.8 162.4,186.1 162.6,185.0 162.8,183.4 163.0,182.1 163.1,181.6 163.3,181.4 163.5,181.4 163.7,181.4 163.9,180.9 164.0,180.1 164.2,179.6 164.4,180.4 164.6,181.7 164.8,182.6 164.9,182.9 165.1,183.4 165.3,184.5 165.5,185.9 165.7,187.8 165.8,189.8 166.0,191.2 166.2,191.9 166.4,192.9 166.6,194.8 166.7,197.2 166.9,199.1 167.1,200.7 167.3,202.7 167.5,204.8 167.6,206.5 167.8,208.2 168.0,210.2 168.2,212.0 168.4,213.5 168.5,215.2 168.7,216.9 168.9,218.0 169.1,218.7 169.3,219.9 169.4,221.7 169.6,222.9 169.8,223.3 170.0,223.4 170.2,223.4 170.3,223.5 170.5,224.1 170.7,225.1 170.9,225.4 171.1,224.3 171.2,222.9 171.4,222.4 171.6,222.1 171.8,221.4 172.0,220.0 172.1,218.5 172.3,216.6 172.5,214.8 172.7,213.8 172.9,213.1 173.0,211.6 173.2,209.4 173.4,207.2 173.6,205.6 173.8,203.7 173.9,201.5 174.1,199.6 174.3,198.1 174.5,196.3 174.7,194.3 174.8,192.6 175.0,190.9 175.2,189.0 175.4,187.5 175.6,186.8 175.7,185.9 175.9,184.1 176.1,182.4 176.3,181.8 176.5,181.7 176.6,181.7 176.8,181.7 177.0,181.3 177.2,180.3 177.4,179.5 177.5,179.9 177.7,181.2 177.9,182.1 178.1,182.3 178.3,182.8 178.4,183.7 178.6,185.1 178.8,186.8 179.0,188.8 179.2,190.5 179.3,191.3 179.5,192.2 179.7,194.1 179.9,196.3 180.1,198.2 180.2,199.8 180.4,201.7 180.6,203.8 180.8,205.7 181.0,207.2 181.1,209.0 181.3,211.1 181.5,212.8 181.7,214.5 181.9,216.3 182.0,217.7 182.2,218.5 182.4,219.4 182.6,221.3 182.8,222.9 182.9,223.4 183.1,223.3 183.3,223.3 183.5,223.4 183.7,223.9 183.8,224.8 184.0,225.2 184.2,224.5 184.4,223.2 184.6,222.6 184.7,222.7 184.9,222.3 185.1,221.0 185.3,219.2 185.5,217.4 185.6,215.5 185.8,214.4 186.0,213.7 186.2,212.5 186.4,210.2 186.5,207.7 186.7,206.1 186.9,204.6 187.1,202.7 187.3,200.9 187.4,199.1 187.6,196.9 187.8,194.8 188.0,193.2 188.2,191.9 188.3,190.3 188.5,188.4 188.7,186.9 188.9,185.9 189.1,184.6 189.2,183.0 189.4,182.1 189.6,181.9 189.8,181.8 190.0,181.4 190.1,181.1 190.3,180.6 190.5,179.8 190.7,179.7 190.9,180.7 191.0,181.9 191.2,182.3 191.4,182.2 191.6,182.8 191.8,184.3 191.9,186.2 192.1,188.1 192.3,189.7 192.5,190.8 192.7,191.5 192.8,192.8 193.0,195.1 193.2,197.7 193.4,199.6 193.6,200.8 193.7,202.4 193.9,204.5 194.1,206.5 194.3,208.4 194.5,210.4 194.6,212.3 194.8,213.6 195.0,215.1 195.2,216.9 195.4,218.5 195.5,219.5 195.7,220.5 195.9,222.1 196.1,223.3 196.3,223.3 196.4,223.1 196.6,223.3 196.8,223.9 197.0,224.5 197.2,225.2 197.3,225.3 197.5,224.4 197.7,222.9 197.9,222.2 198.1,222.2 198.2,221.9 198.4,220.3 198.6,218.2 198.8,216.4 199.0,215.0 199.1,213.8 199.3,213.0 199.5,211.6 199.7,209.2 199.9,206.7 200.0,205.0 200.2,203.6 200.4,201.5 200.6,199.4 200.8,197.9 200.9,196.4 201.1,194.4 201.3,192.2 201.5,190.5 201.7,188.8 201.8,187.1 202.0,186.0 202.2,185.3 202.4,183.9 202.6,182.0 202.7,180.9 202.9,181.2 203.1,181.6 203.3,181.3 203.4,180.6 203.6,179.7 203.8,179.1 204.0,179.3 204.2,180.6 204.3,181.8 204.5,182.1 204.7,182.0 204.9,183.0 205.1,185.0 205.2,186.8 205.4,188.4 205.6,190.0 205.8,191.2 206.0,192.1 206.1,193.7 206.3,196.2 206.5,198.4 206.7,200.0 206.9,201.9 207.0,204.2 207.2,206.0 207.4,207.4 207.6,209.0 207.8,211.2 207.9,213.4 208.1,215.3 208.3,217.2 208.5,218.7 208.7,219.3 208.8,220.3 209.0,222.4 209.2,224.1 209.4,224.4 209.6,224.0 209.7,224.0 209.9,224.3 210.1,224.9 210.3,226.0 210.5,226.9 210.6,226.3 210.8,224.6 211.0,223.4 211.2,223.5 211.4,223.3 211.5,222.2 211.7,220.6 211.9,218.8 212.1,216.8 212.3,215.4 212.4,214.6 212.6,213.5 212.8,211.2 213.0,208.2 213.2,206.2 213.3,204.8 213.5,202.9 213.7,200.9 213.9,199.3 214.1,197.6 214.2,195.4 214.4,193.2 214.6,191.4 214.8,189.6 215.0,187.5 215.1,185.9 215.3,185.1 215.5,183.6 215.7,181.6 215.9,180.4 216.0,180.5 216.2,180.8 216.4,180.3 216.6,179.5 216.8,178.5 216.9,177.6 217.1,177.4 217.3,178.8 217.5,180.3 217.7,180.5 217.8,179.9 218.0,180.4 218.2,182.1 218.4,184.0 218.6,186.0 218.7,187.7 218.9,188.8 219.1,189.4 219.3,190.9 219.5,193.7 219.6,196.5 219.8,198.2 220.0,199.6 220.2,201.7 220.4,203.9 220.5,205.5 220.7,207.4 220.9,209.9 221.1,211.9 221.3,213.5 221.4,215.6 221.6,217.8 221.8,218.9 222.0,219.8 222.2,222.1 222.3,224.5 222.5,225.4 222.7,225.0 222.9,224.5 223.1,225.0 223.2,226.0 223.4,227.2 223.6,228.2 223.8,227.8 224.0,226.3 224.1,225.2 224.3,225.6 224.5,226.1 224.7,225.1 224.9,222.7 225.0,220.7 225.2,219.3 225.4,217.8 225.6,216.6 225.8,215.4 225.9,213.5 226.1,210.6 226.3,208.4 226.5,206.8 226.7,204.9 226.8,202.3 227.0,200.2 227.2,198.9 227.4,197.3 227.6,194.7 227.7,192.1 227.9,190.0 228.1,188.3 228.3,186.7 228.5,185.5 228.6,184.0 228.8,181.4 229.0,179.0 229.2,178.6 229.4,179.4 229.5,179.7 229.7,178.9 229.9,177.7 230.1,176.8 230.3,176.2 230.4,177.0 230.6,178.5 230.8,179.1 231.0,178.3 231.2,178.1 231.3,179.7 231.5,182.3 231.7,184.3 231.9,185.8 232.1,187.3 232.2,188.3 232.4,189.4 232.6,191.8 232.8,194.7 233.0,196.6 233.1,198.2 233.3,200.6 233.5,203.4 233.7,205.2 233.9,206.5 234.0,208.8 234.2,211.5 234.4,213.6 234.6,215.8 234.8,217.9 234.9,219.2 235.1,219.8 235.3,221.8 235.5,224.9 235.7,226.9 235.8,226.8 236.0,226.0 236.2,226.1 236.4,226.6 236.6,227.7 236.7,229.3 236.9,229.9 237.1,228.5 237.3,226.6 237.5,226.6 237.6,227.4 237.8,226.9 238.0,224.9 238.2,222.5 238.4,220.3 238.5,218.3 238.7,217.3 238.9,216.7 239.1,214.9 239.3,211.9 239.4,209.2 239.6,207.5 239.8,205.7 240.0,203.0 240.2,200.5 240.3,198.8 240.5,196.6 240.7,193.8 240.9,191.7 241.1,189.8 241.2,187.4 241.4,185.5 241.6,184.6 241.8,183.2 242.0,180.3 242.1,177.8 242.3,177.4 242.5,178.4 242.7,178.6 242.9,177.6 243.0,176.5 243.2,175.1 243.4,174.4 243.6,175.5 243.8,177.5 243.9,177.9 244.1,176.8 244.3,176.7 244.5,178.7 244.7,181.5 244.8,184.0 245.0,186.2 245.2,187.4 245.4,187.6 245.6,188.7 245.7,192.1 245.9,195.5 246.1,197.4 246.3,198.8 246.5,201.0 246.6,203.4 246.8,205.5 247.0,208.4 247.2,211.3 247.4,213.2 247.5,214.6 247.7,216.9 247.9,219.4 248.1,221.0 248.2,222.3 248.4,224.7 248.6,226.8 248.8,227.4 249.0,227.4 249.1,227.9 249.3,228.1 249.5,228.3 249.7,229.6 249.9,231.1 250.0,230.7 250.2,228.9 250.4,227.7 250.6,228.5 250.8,228.9 250.9,227.5 251.1,225.0 251.3,222.0 251.5,219.4 251.7,217.7 251.8,217.6 252.0,217.4 252.2,214.6 252.4,210.4 252.6,207.8 252.7,206.6 252.9,204.8 253.1,202.2 253.3,199.7 253.5,196.9 253.6,193.8 253.8,191.2 254.0,190.0 254.2,188.5 254.4,185.6 254.5,183.1 254.7,182.0 254.9,180.2 255.1,177.9 255.3,176.3 255.4,176.3 255.6,176.6 255.8,176.1 256.0,175.4 256.2,174.6 256.3,172.9 256.5,172.1 256.7,173.8 256.9,176.1 257.1,176.4 257.2,175.3 257.4,175.8 257.6,178.6 257.8,181.8 258.0,184.5 258.1,186.2 258.3,186.8 258.5,186.8 258.7,188.5 258.9,192.7 259.0,196.5 259.2,198.0 259.4,199.3 259.6,201.8 259.8,204.9 259.9,207.8 260.1,211.1 260.3,214.2 260.5,215.5 260.7,216.5 260.8,219.0 261.0,221.9 261.2,223.6 261.4,224.8 261.6,227.1 261.7,229.0 261.9,229.2 262.1,229.1 262.3,230.0 262.5,230.9 262.6,231.3 262.8,232.7 263.0,233.6 263.2,232.5 263.4,230.4 263.5,229.9 263.7,230.6 263.9,230.0 264.1,228.0 264.3,225.4 264.4,222.1 264.6,218.9 264.8,217.9 265.0,218.7 265.2,217.7 265.3,213.9 265.5,210.0 265.7,207.2 265.9,205.2 266.1,203.4 266.2,201.5 266.4,198.5 266.6,194.0 266.8,190.4 267.0,189.2 267.1,188.4 267.3,186.1 267.5,183.1 267.7,180.9 267.9,179.3 268.0,176.9 268.2,175.3 268.4,174.8 268.6,174.4 268.8,173.9 268.9,173.6 269.1,173.3 269.3,171.3 269.5,169.6 269.7,170.9 269.8,173.4 270.0,173.9 270.2,173.2 270.4,173.5 270.6,175.5 270.7,178.4 270.9,181.9 271.1,184.9 271.3,185.5 271.5,184.7 271.6,186.2 271.8,190.7 272.0,195.1 272.2,197.2 272.4,198.4 272.5,200.3 272.7,202.9 272.9,206.3 273.1,210.6 273.3,214.3 273.4,215.4 273.6,216.1 273.8,218.5 274.0,222.2 274.2,224.7 274.3,226.4 274.5,228.5 274.7,230.2 274.9,230.6 275.1,231.0 275.2,231.9 275.4,232.6 275.6,232.8 275.8,233.9 276.0,235.6 276.1,235.7 276.3,233.6 276.5,232.0 276.7,232.2 276.9,232.0 277.0,230.7 277.2,228.4 277.4,225.3 277.6,221.5 277.8,219.3 277.9,219.7 278.1,220.0 278.3,216.5 278.5,211.2 278.7,207.8 278.8,206.6 279.0,205.1 279.2,202.4 279.4,199.2 279.6,195.3 279.7,191.1 279.9,188.9 280.1,188.5 280.3,187.0 280.5,182.9 280.6,179.3 280.8,177.5 281.0,176.3 281.2,174.2 281.4,172.9 281.5,172.9 281.7,172.8 281.9,171.6 282.1,170.6 282.3,169.9 282.4,168.6 282.6,168.0 282.8,169.4 283.0,171.8 283.2,172.2 283.3,171.4 283.5,172.3 283.7,175.6 283.9,179.2 284.1,181.8 284.2,183.7 284.4,184.2 284.6,184.3 284.8,186.9 285.0,192.4 285.1,197.0 285.3,198.2 285.5,198.8 285.7,201.6 285.9,205.5 286.0,209.2 286.2,212.9 286.4,215.7 286.6,216.9 286.8,218.1 286.9,221.7 287.1,226.0 287.3,228.1 287.5,229.2 287.7,231.0 287.8,232.5 288.0,232.7 288.2,232.9 288.4,234.2 288.6,235.5 288.7,236.1 288.9,237.1 289.1,237.9 289.3,236.6 289.5,234.5 289.6,234.1 289.8,235.1 290.0,234.2 290.2,230.4 290.4,226.3 290.5,224.0 290.7,222.6 290.9,222.0 291.1,221.5 291.3,219.3 291.4,213.9 291.6,208.9 291.8,207.1 292.0,206.8 292.1,204.5 292.3,200.0 292.5,195.9 292.7,192.6 292.9,189.8 293.0,187.4 293.2,185.9 293.4,183.7 293.6,179.7 293.8,176.4 293.9,175.1 294.1,174.0 294.3,172.0 294.5,170.4 294.7,170.8 294.8,171.2 295.0,169.4 295.2,167.3 295.4,166.2 295.6,165.9 295.7,166.5 295.9,168.7 296.1,170.8 296.3,170.2 296.5,169.3 296.6,171.4 296.8,176.2 297.0,180.1 297.2,181.5 297.4,182.2 297.5,183.1 297.7,184.8 297.9,188.5 298.1,194.0 298.3,198.2 298.4,199.0 298.6,199.9 298.8,203.5 299.0,208.1 299.2,211.8 299.3,215.1 299.5,217.9 299.7,219.4 299.9,221.1 300.1,224.8 300.2,229.0 300.4,230.7 300.6,231.4 300.8,233.2 301.0,235.1 301.1,235.1 301.3,234.9 301.5,236.4 301.7,238.5 301.9,239.6 302.0,240.2 302.2,240.2 302.4,238.2 302.6,235.4 302.8,234.6 302.9,235.7 303.1,235.0 303.3,230.6 303.5,226.1 303.7,223.9 303.8,222.6 304.0,222.0 304.2,221.7 304.4,219.1 304.6,213.4 304.7,207.9 304.9,205.6 305.1,204.1 305.3,201.4 305.5,198.0 305.6,194.3 305.8,190.0 306.0,186.4 306.2,184.6 306.4,183.5 306.5,180.2 306.7,176.6 306.9,174.6 307.1,173.5 307.3,171.0 307.4,168.5 307.6,168.2 307.8,168.8 308.0,167.9 308.2,166.4 308.3,165.3 308.5,163.8 308.7,162.8 308.9,164.7 309.1,168.3 309.2,169.5 309.4,168.4 309.6,168.8 309.8,172.1 310.0,176.3 310.1,179.5 310.3,182.1 310.5,183.5 310.7,183.1 310.9,184.3 311.0,189.5 311.2,196.2 311.4,199.4 311.6,200.2 311.8,202.1 311.9,205.7 312.1,209.9 312.3,214.1 312.5,218.6 312.7,220.6 312.8,221.2 313.0,223.7 313.2,228.5 313.4,232.2 313.6,233.1 313.7,234.3 313.9,236.5 314.1,237.4 314.3,237.0 314.5,237.8 314.6,239.4 314.8,240.1 315.0,240.6 315.2,242.3 315.4,242.7 315.5,239.8 315.7,236.7 315.9,236.1 316.1,236.2 316.3,234.5 316.4,231.4 316.6,228.2 316.8,224.0 317.0,220.9 317.2,221.0 317.3,221.3 317.5,217.8 317.7,211.1 317.9,206.1 318.1,204.1 318.2,202.1 318.4,199.7 318.6,197.1 318.8,192.3 319.0,186.9 319.1,183.7 319.3,182.8 319.5,180.6 319.7,176.4 319.9,173.5 320.0,172.2 320.2,170.4 320.4,167.6 320.6,165.9 320.8,166.2 320.9,166.3 321.1,165.6 321.3,164.8 321.5,163.4 321.7,161.2 321.8,160.7 322.0,163.6 322.2,167.3 322.4,168.0 322.6,167.3 322.7,168.5 322.9,171.9 323.1,175.8 323.3,179.8 323.5,183.0 323.6,184.0 323.8,183.2 324.0,185.1 324.2,191.2 324.4,197.6 324.5,200.8 324.7,202.7 324.9,205.0 325.1,207.9 325.3,211.6 325.4,216.4 325.6,221.1 325.8,223.1 326.0,224.5 326.2,227.8 326.3,231.7 326.5,233.6 326.7,234.7 326.9,237.2 327.1,239.8 327.2,240.2 327.4,239.6 327.6,240.0 327.8,240.8 328.0,241.4 328.1,243.2 328.3,245.3 328.5,244.5 328.7,240.4 328.9,237.1 329.0,237.3 329.2,237.6 329.4,235.1 329.6,230.3 329.8,226.5 329.9,223.2 330.1,221.4 330.3,221.4 330.5,220.8 330.7,215.8 330.8,208.7 331.0,204.2 331.2,203.1 331.4,201.2 331.6,197.3 331.7,192.8 331.9,188.5 332.1,183.9 332.3,181.5 332.5,180.8 332.6,178.7 332.8,173.9 333.0,170.0 333.2,168.6 333.4,167.3 333.5,165.1 333.7,164.1 333.9,164.4 334.1,164.0 334.3,161.9 334.4,160.9 334.6,161.3 334.8,161.1 335.0,160.9 335.2,162.8 335.3,165.3 335.5,165.5 335.7,165.4 335.9,168.1 336.1,173.9 336.2,178.4 336.4,180.5 336.6,181.9 336.8,182.4 336.9,183.4 337.1,188.1 337.3,195.4 337.5,199.9 337.7,200.8 337.8,202.5 338.0,206.7 338.2,211.7 338.4,216.7 338.6,221.2 338.7,223.6 338.9,223.9 339.1,225.3 339.3,230.5 339.5,235.8 339.6,237.7 339.8,238.2 340.0,239.6 340.2,240.8 340.4,241.2 340.5,242.3 340.7,244.2 340.9,244.7 341.1,244.4 341.3,245.2 341.4,245.6 341.6,243.4 341.8,240.7 342.0,240.1 342.2,240.3 342.3,237.7 342.5,232.5 342.7,228.1 342.9,225.7 343.1,224.3 343.2,223.2 343.4,222.0 343.6,217.5 343.8,210.4 344.0,205.1 344.1,204.0 344.3,203.7 344.5,199.6 344.7,193.8 344.9,188.4 345.0,184.1 345.2,181.2 345.4,180.8 345.6,179.8 345.8,174.8 345.9,169.1 346.1,166.7 346.3,166.5 346.5,165.2 346.7,163.3 346.8,163.0 347.0,163.0 347.2,161.3 347.4,159.6 347.6,159.1 347.7,158.8 347.9,158.8 348.1,160.1 348.3,163.3 348.5,165.1 348.6,164.4 348.8,165.5 349.0,170.4 349.2,176.1 349.4,178.9 349.5,180.1 349.7,181.3 349.9,182.3 350.1,185.2 350.3,191.7 350.4,198.6 350.6,201.7 350.8,201.8 351.0,203.7 351.2,209.8 351.3,215.8 351.5,219.8 351.7,222.8 351.9,225.1 352.1,226.1 352.2,228.7 352.4,234.2 352.6,239.3 352.8,240.1 353.0,239.5 353.1,240.6 353.3,242.5 353.5,243.0 353.7,243.9 353.9,245.7 354.0,246.6 354.2,245.7 354.4,245.5 354.6,246.0 354.8,244.8 354.9,242.0 355.1,240.2 355.3,239.2 355.5,236.0 355.7,230.6 355.8,227.3 356.0,226.7 356.2,224.9 356.4,222.3 356.6,219.0 356.7,214.1 356.9,207.9 357.1,204.4 357.3,203.9 357.5,202.1 357.6,196.3 357.8,189.6 358.0,185.2 358.2,182.5 358.4,180.9 358.5,179.9 358.7,176.7 358.9,169.9 359.1,164.2 359.3,164.0 359.4,165.7 359.6,164.9 359.8,162.6 360.0,161.2 360.2,160.0 360.3,158.7 360.5,158.3 360.7,159.2 360.9,159.1 361.1,158.3 361.2,159.6 361.4,162.4 361.6,163.8 361.8,164.9 362.0,169.1 362.1,174.1 362.3,176.8 362.5,177.6 362.7,179.1 362.9,181.5 363.0,185.1 363.2,190.7 363.4,196.7 363.6,199.5 363.8,199.5 363.9,201.9 364.1,208.4 364.3,215.4 364.5,218.8 364.7,220.6 364.8,222.5 365.0,224.4 365.2,227.8 365.4,234.0 365.6,239.2 365.7,239.9 365.9,238.6 366.1,239.1 366.3,241.6 366.5,243.2 366.6,244.0 366.8,245.5 367.0,246.1 367.2,245.1 367.4,244.9 367.5,246.0 367.7,245.4 367.9,242.6 368.1,240.5 368.3,239.6 368.4,236.3 368.6,231.5 368.8,228.5 369.0,227.4 369.2,225.9 369.3,223.2 369.5,220.0 369.7,215.4 369.9,209.2 370.1,204.9 370.2,204.6 370.4,203.8 370.6,198.5 370.8,191.7 371.0,187.2 371.1,184.2 371.3,182.1 371.5,181.0 371.7,178.7 371.9,172.8 372.0,166.6 372.2,165.2 372.4,166.7 372.6,166.6 372.8,164.9 372.9,163.7 373.1,161.7 373.3,159.7 373.5,159.0 373.7,160.2 373.8,160.5 374.0,159.4 374.2,160.2 374.4,163.0 374.6,165.0 374.7,165.2 374.9,167.6 375.1,172.7 375.3,176.7 375.5,178.1 375.6,179.9 375.8,181.9 376.0,183.9 376.2,188.4 376.4,195.2 376.5,200.1 376.7,200.9 376.9,201.6 377.1,205.3 377.3,211.1 377.4,216.3 377.6,220.2 377.8,222.8 378.0,223.5 378.2,225.2 378.3,230.8 378.5,237.3 378.7,239.8 378.9,238.9 379.1,238.2 379.2,239.3 379.4,240.7 379.6,242.3 379.8,244.4 380.0,245.1 380.1,243.6 380.3,242.9 380.5,244.2 380.7,244.5 380.9,242.0 381.0,239.9 381.2,238.9 381.4,236.6 381.6,232.5 381.7,229.2 381.9,227.5 382.1,224.9 382.3,222.4 382.5,220.3 382.6,216.6 382.8,210.2 383.0,205.1 383.2,204.0 383.4,203.6 383.5,200.0 383.7,194.4 383.9,189.3 384.1,185.5 384.3,183.0 384.4,182.0 384.6,180.3 384.8,175.6 385.0,169.1 385.2,165.8 385.3,166.4 385.5,166.6 385.7,166.1 385.9,165.4 386.1,163.5 386.2,160.9 386.4,160.7 386.6,162.2 386.8,162.4 387.0,161.0 387.1,161.6 387.3,163.7 387.5,164.9 387.7,165.8 387.9,168.5 388.0,172.5 388.2,175.4 388.4,178.0 388.6,181.3 388.8,182.7 388.9,183.3 389.1,187.1 389.3,194.3 389.5,199.9 389.7,201.8 389.8,202.8 390.0,205.0 390.2,207.9 390.4,212.5 390.6,218.8 390.7,222.6 390.9,223.2 391.1,224.4 391.3,228.9 391.5,234.2 391.6,236.6 391.8,237.6 392.0,239.0 392.2,239.5 392.4,239.3 392.5,240.0 392.7,242.2 392.9,243.4 393.1,242.7 393.3,243.0 393.4,243.8 393.6,242.4 393.8,239.5 394.0,238.4 394.2,238.4 394.3,236.5 394.5,233.2 394.7,229.8 394.9,226.7 395.1,223.3 395.2,221.4 395.4,221.2 395.6,218.2 395.8,211.2 396.0,205.0 396.1,202.9 396.3,202.4 396.5,200.6 396.7,196.9 396.9,192.3 397.0,186.9 397.2,183.1 397.4,182.4 397.6,181.8 397.8,177.6 397.9,171.0 398.1,167.1 398.3,167.0 398.5,167.6 398.7,167.1 398.8,166.2 399.0,164.8 399.2,162.7 399.4,161.8 399.6,163.3 399.7,164.1 399.9,162.9 400.1,162.3 400.3,164.2 400.5,166.1 400.6,166.7 400.8,168.9 401.0,172.6 401.2,176.1 401.4,178.3 401.5,180.1 401.7,182.5 401.9,184.5 402.1,187.6 402.3,193.4 402.4,199.5 402.6,201.8 402.8,201.4 403.0,203.4 403.2,208.6 403.3,213.7 403.5,217.6 403.7,220.5 403.9,221.9 404.1,223.1 404.2,226.6 404.4,232.8 404.6,237.5 404.8,237.8 405.0,236.8 405.1,237.6 405.3,238.8 405.5,239.7 405.7,241.5 405.9,243.1 406.0,242.3 406.2,240.7 406.4,241.4 406.6,242.4 406.8,241.2 406.9,238.7 407.1,237.8 407.3,236.8 407.5,233.2 407.7,229.0 407.8,226.7 408.0,224.8 408.2,222.5 408.4,220.3 408.6,217.5 408.7,212.4 408.9,206.2 409.1,203.4 409.3,203.4 409.5,201.6 409.6,196.9 409.8,191.9 410.0,187.8 410.2,184.5 410.4,182.8 410.5,182.2 410.7,179.0 410.9,172.8 411.1,167.3 411.3,166.5 411.4,167.9 411.6,168.1 411.8,166.9 412.0,165.2 412.2,162.5 412.3,161.1 412.5,163.0 412.7,165.0 412.9,163.8 413.1,162.4 413.2,163.6 413.4,165.7 413.6,167.0 413.8,169.4 414.0,172.7 414.1,175.2 414.3,176.9 414.5,179.3 414.7,182.6 414.9,184.5 415.0,187.0 415.2,192.5 415.4,198.6 415.6,201.1 415.8,201.3 415.9,203.5 416.1,208.2 416.3,212.8 416.5,216.8 416.7,220.2 416.8,221.2 417.0,221.8 417.2,225.7 417.4,232.6 417.6,237.0 417.7,237.2 417.9,236.5 418.1,237.0 418.3,237.8 418.5,239.5 418.6,242.2 418.8,242.9 419.0,241.1 419.2,240.3 419.4,242.0 419.5,242.4 419.7,240.7 419.9,239.5 420.1,238.7 420.3,236.0 420.4,232.5 420.6,230.1 420.8,227.9 421.0,224.7 421.2,222.2 421.3,220.7 421.5,218.0 421.7,212.8 421.9,207.9 422.1,205.5 422.2,203.8 422.4,200.9 422.6,197.1 422.8,192.9 423.0,188.3 423.1,184.4 423.3,183.2 423.5,183.3 423.7,179.8 423.9,173.1 424.0,168.2 424.2,167.6 424.4,168.4 424.6,167.9 424.8,167.0 424.9,165.4 425.1,162.8 425.3,161.7 425.5,163.7 425.7,165.3 425.8,164.2 426.0,162.4 426.2,162.9 426.4,165.1 426.5,166.7 426.7,168.4 426.9,171.6 427.1,175.2 427.3,177.5 427.4,179.5 427.6,182.3 427.8,184.4 428.0,186.3 428.2,191.1 428.3,197.2 428.5,200.6 428.7,201.5 428.9,203.1 429.1,207.1 429.2,211.5 429.4,215.9 429.6,219.9 429.8,222.0 430.0,221.9 430.1,224.4 430.3,230.5 430.5,236.2 430.7,238.3 430.9,237.1 431.0,236.5 431.2,237.4 431.4,238.8 431.6,241.3 431.8,243.5 431.9,242.5 432.1,239.7 432.3,239.3 432.5,241.5 432.7,242.6 432.8,240.6 433.0,238.2 433.2,235.8 433.4,233.0 433.6,230.0 433.7,228.4 433.9,226.5 434.1,223.3 434.3,220.0 434.5,217.5 434.6,214.3 434.8,209.3 435.0,204.9 435.2,203.4 435.4,201.9 435.5,198.1 435.7,193.3 435.9,189.7 436.1,186.1 436.3,183.4 436.4,182.6 436.6,180.8 436.8,175.3 437.0,169.1 437.2,166.9 437.3,167.9 437.5,168.3 437.7,167.9 437.9,166.6 438.1,163.7 438.2,161.5 438.4,162.4 438.6,165.3 438.8,165.7 439.0,163.3 439.1,162.4 439.3,164.1 439.5,166.9 439.7,169.5 439.9,172.7 440.0,174.6 440.2,174.7 440.4,176.6 440.6,181.4 440.8,185.5 440.9,188.1 441.1,190.7 441.3,194.8 441.5,198.7 441.7,201.1 441.8,203.4 442.0,207.3 442.2,211.2 442.4,214.3 442.6,217.7 442.7,220.9 442.9,222.5 443.1,224.2 443.3,228.7 443.5,234.8 443.6,238.1 443.8,237.1 444.0,236.0 444.2,237.1 444.4,239.1 444.5,241.1 444.7,243.0 444.9,243.0 445.1,240.4 445.3,238.9 445.4,240.8 445.6,242.3 445.8,241.1 446.0,238.3 446.2,235.8 446.3,233.1 446.5,230.4 446.7,228.6 446.9,227.4 447.1,224.4 447.2,220.3 447.4,217.4 447.6,215.1 447.8,210.4 448.0,205.5 448.1,202.9 448.3,201.9 448.5,199.2 448.7,195.0 448.9,190.9 449.0,186.8 449.2,183.4 449.4,181.7 449.6,181.0 449.8,177.2 449.9,171.0 450.1,167.2 450.3,167.1 450.5,168.3 450.7,168.4 450.8,167.3 451.0,165.2 451.2,162.1 451.4,161.4 451.6,163.8 451.7,165.8 451.9,164.7 452.1,162.7 452.3,163.3 452.5,165.7 452.6,168.6 452.8,171.8 453.0,175.0 453.2,176.8 453.4,177.8 453.5,180.4 453.7,184.6 453.9,187.1 454.1,189.2 454.3,193.4 454.4,198.0 454.6,200.9 454.8,203.0 455.0,206.2 455.2,209.8 455.3,213.4 455.5,217.8 455.7,222.1 455.9,223.5 456.1,223.8 456.2,226.7 456.4,232.6 456.6,237.0 456.8,237.9 457.0,237.2 457.1,236.8 457.3,237.4 457.5,239.5 457.7,242.3 457.9,243.3 458.0,241.1 458.2,239.0 458.4,240.0 458.6,242.0 458.8,241.6 458.9,239.1 459.1,236.3 459.3,233.1 459.5,230.2 459.7,228.5 459.8,227.5 460.0,224.7 460.2,220.3 460.4,217.5 460.6,215.6 460.7,211.8 460.9,207.4 461.1,204.4 461.3,202.5 461.5,199.3 461.6,195.2 461.8,191.4 462.0,187.4 462.2,183.6 462.4,182.0 462.5,181.7 462.7,178.6 462.9,172.6 463.1,168.2 463.3,167.3 463.4,167.7 463.6,168.0 463.8,167.7 464.0,166.0 464.2,162.8 464.3,161.3 464.5,163.7 464.7,166.5 464.9,165.4 465.1,163.0 465.2,162.8 465.4,164.9 465.6,167.9 465.8,171.7 466.0,175.5 466.1,176.5 466.3,176.9 466.5,179.6 466.7,184.3 466.9,187.9 467.0,189.7 467.2,192.7 467.4,196.3 467.6,199.1 467.8,202.1 467.9,206.5 468.1,210.7 468.3,213.2 468.5,216.3 468.7,220.2 468.8,222.8 469.0,224.0 469.2,227.0 469.4,231.9 469.6,235.6 469.7,236.6 469.9,236.6 470.1,237.1 470.3,237.6 470.5,239.4 470.6,242.3 470.8,243.1 471.0,240.6 471.2,238.4 471.3,239.9 471.5,242.5 471.7,242.5 471.9,240.0 472.1,236.5 472.2,232.6 472.4,229.5 472.6,228.8 472.8,228.6 473.0,225.3 473.1,220.4 473.3,217.1 473.5,215.6 473.7,212.9 473.9,209.4 474.0,206.6 474.2,203.2 474.4,198.7 474.6,194.6 474.8,191.9 474.9,188.3 475.1,184.1 475.3,182.2 475.5,181.6 475.7,178.7 475.8,173.6 476.0,169.9 476.2,168.5 476.4,167.9 476.6,168.1 476.7,168.2 476.9,166.1 477.1,162.5 477.3,161.3 477.5,163.9 477.6,165.7 477.8,164.9 478.0,163.4 478.2,163.1 478.4,164.2 478.5,167.2 478.7,172.2 478.9,176.1 479.1,176.4 479.3,176.4 479.4,179.4 479.6,183.4 479.8,186.4 480.0,189.4 480.2,192.7 480.3,195.6 480.5,198.1 480.7,201.7 480.9,206.2 481.1,209.4 481.2,212.0 481.4,216.2 481.6,220.5 481.8,221.9 482.0,222.7 482.1,226.0 482.3,231.6 482.5,235.4 482.7,236.6 482.9,236.7 483.0,236.4 483.2,236.5 483.4,238.7 483.6,242.2 483.8,243.3 483.9,241.0 484.1,238.9 484.3,239.9 484.5,241.4 484.7,241.3 484.8,240.2 485.0,237.8 485.2,233.6 485.4,230.0 485.6,228.7 485.7,228.3 485.9,225.4 486.1,221.4 486.3,219.0 486.5,216.9 486.6,213.0 486.8,208.7 487.0,206.1 487.2,203.5 487.4,199.5 487.5,196.3 487.7,193.2 487.9,188.5 488.1,184.5 488.3,183.4 488.4,182.8 488.6,179.0 488.8,173.8 489.0,170.1 489.2,168.3 489.3,167.9 489.5,168.8 489.7,169.1 489.9,166.5 490.1,162.7 490.2,162.0 490.4,164.4 490.6,165.8 490.8,164.9 491.0,163.8 491.1,163.9 491.3,164.8 491.5,167.1 491.7,171.2 491.9,174.8 492.0,176.0 492.2,176.8 492.4,179.7 492.6,183.4 492.8,185.9 492.9,188.3 493.1,192.0 493.3,195.5 493.5,198.0 493.7,201.0 493.8,205.0 494.0,208.5 494.2,211.3 494.4,215.6 494.6,219.8 494.7,221.5 494.9,221.9 495.1,224.9 495.3,230.4 495.5,234.3 495.6,235.6 495.8,235.8 496.0,235.6 496.2,235.8 496.4,238.3 496.5,241.9 496.7,242.2 496.9,239.4 497.1,237.9 497.3,239.3 497.4,241.2 497.6,241.4 497.8,239.9 498.0,236.9 498.2,233.1 498.3,229.9 498.5,229.0 498.7,228.8 498.9,225.7 499.1,221.1 499.2,218.0 499.4,216.4 499.6,213.8 499.8,210.2 500.0,207.2 500.1,204.3 500.3,200.1 500.5,196.0 500.7,193.2 500.9,190.0 501.0,186.0 501.2,183.9 501.4,183.1 501.6,180.2 501.8,175.3 501.9,171.4 502.1,170.4 502.3,169.7 502.5,169.5 502.7,169.7 502.8,167.8 503.0,164.2 503.2,162.7 503.4,164.8 503.6,166.8 503.7,166.1 503.9,164.3 504.1,164.2 504.3,165.7 504.5,168.3 504.6,172.1 504.8,175.3 505.0,176.5 505.2,176.7 505.4,179.3 505.5,183.1 505.7,185.5 505.9,187.8 506.1,191.4 506.3,195.3 506.4,197.8 506.6,200.8 506.8,204.1 507.0,207.2 507.2,210.1 507.3,214.6 507.5,219.3 507.7,221.0 507.9,221.2 508.1,224.0 508.2,228.7 508.4,232.4 508.6,234.6 508.8,235.2 509.0,234.4 509.1,233.8 509.3,235.9 509.5,240.1 509.7,241.6 509.9,239.8 510.0,238.1 510.2,238.7 510.4,239.7 510.6,239.7 510.8,239.1 510.9,237.0 511.1,232.9 511.3,229.4 511.5,228.4 511.7,227.7 511.8,224.8 512.0,221.8 512.2,219.7 512.4,217.4 512.6,213.4 512.7,209.7 512.9,207.1 513.1,204.3 513.3,200.9 513.5,198.0 513.6,195.2 513.8,191.0 514.0,186.0 514.2,183.9 514.4,184.1 514.5,181.8 514.7,177.3 514.9,173.4 515.1,170.9 515.3,169.7 515.4,169.9 515.6,171.1 515.8,170.2 516.0,166.6 516.1,163.9 516.3,164.6 516.5,166.1 516.7,166.5 516.9,166.3 517.0,166.8 517.2,167.2 517.4,167.9 517.6,170.8 517.8,174.4 517.9,176.6 518.1,178.0 518.3,181.3 518.5,184.2 518.7,185.2 518.8,186.3 519.0,189.7 519.2,194.4 519.4,198.1 519.6,201.7 519.7,204.3 519.9,205.8 520.1,208.2 520.3,213.3 520.5,218.9 520.6,221.0 520.8,221.1 521.0,222.5 521.2,226.0 521.4,229.6 521.5,232.9 521.7,235.2 521.9,235.2 522.1,233.7 522.3,234.1 522.4,237.3 522.6,239.8 522.8,239.4 523.0,238.4 523.2,238.3 523.3,238.5 523.5,237.9 523.7,237.5 523.9,236.5 524.1,233.6 524.2,230.5 524.4,228.7 524.6,226.8 524.8,223.5 525.0,220.9 525.1,220.2 525.3,218.7 525.5,214.9 525.7,210.3 525.9,206.7 526.0,203.8 526.2,201.5 526.4,199.7 526.6,197.1 526.8,192.2 526.9,186.7 527.1,184.2 527.3,184.2 527.5,182.6 527.7,179.3 527.8,175.6 528.0,172.5 528.2,170.1 528.4,169.9 528.6,171.4 528.7,171.0 528.9,168.3 529.1,166.4 529.3,166.4 529.5,166.6 529.6,166.4 529.8,166.9 530.0,167.7 530.2,167.9 530.4,168.9 530.5,171.5 530.7,174.1 530.9,175.6 531.1,178.1 531.3,182.0 531.4,184.6 531.6,184.9 531.8,186.0 532.0,189.3 532.2,194.0 532.3,197.9 532.5,201.0 532.7,203.5 532.9,204.8 533.1,207.1 533.2,212.2 533.4,217.6 533.6,220.0 533.8,220.3 534.0,221.9 534.1,225.1 534.3,228.5 534.5,231.8 534.7,234.1 534.9,234.3 535.0,233.1 535.2,233.4 535.4,236.1 535.6,238.3 535.8,238.2 535.9,237.3 536.1,237.8 536.3,238.2 536.5,237.3 536.7,236.0 536.8,235.0 537.0,233.6 537.2,231.1 537.4,228.4 537.6,226.0 537.7,223.4 537.9,221.0 538.1,220.0 538.3,219.4 538.5,216.1 538.6,210.4 538.8,206.3 539.0,204.5 539.2,202.8 539.4,200.5 539.5,197.7 539.7,193.0 539.9,188.0 540.1,185.4 540.3,185.4 540.4,184.2 540.6,179.7 540.8,175.4 541.0,173.3 541.2,172.6 541.3,171.9 541.5,171.9 541.7,171.6 541.9,169.6 542.1,167.5 542.2,167.3 542.4,167.8 542.6,167.0 542.8,166.6 543.0,168.0 543.1,170.0 543.3,170.8 543.5,171.5 543.7,173.6 543.9,176.4 544.0,178.6 544.2,181.1 544.4,183.9 544.6,185.5 544.8,186.0 544.9,188.5 545.1,193.9 545.3,199.1 545.5,200.9 545.7,201.7 545.8,203.5 546.0,206.9 546.2,210.7 546.4,215.2 546.6,219.0 546.7,220.3 546.9,220.9 547.1,223.8 547.3,228.2 547.5,231.2 547.6,231.9 547.8,232.5 548.0,233.3 548.2,233.6 548.4,234.2 548.5,235.9 548.7,237.1 548.9,237.3 549.1,237.6 549.3,238.3 549.4,237.4 549.6,234.2 549.8,232.0 550.0,232.0 550.2,232.4 550.3,230.4 550.5,226.7 550.7,223.5 550.9,220.7 551.1,218.8 551.2,218.3 551.4,216.9 551.6,212.5 551.8,206.7 552.0,203.4 552.1,202.5 552.3,201.1 552.5,198.5 552.7,195.3 552.9,191.1 553.0,186.7 553.2,183.9 553.4,183.4 553.6,181.7 553.8,177.9 553.9,174.6 554.1,173.3 554.3,172.9 554.5,171.9 554.7,171.4 554.8,171.1 555.0,169.8 555.2,168.5 555.4,168.1 555.6,167.8 555.7,167.0 555.9,167.6 556.1,170.7 556.3,172.8 556.5,172.8 556.6,173.0 556.8,175.2 557.0,178.4 557.2,181.4 557.4,184.1 557.5,185.9 557.7,186.3 557.9,187.8 558.1,192.2 558.3,197.8 558.4,201.1 558.6,202.3 558.8,203.7 559.0,206.0 559.2,209.1 559.3,213.6 559.5,218.1 559.7,220.2 559.9,220.6 560.1,222.6 560.2,226.6 560.4,229.7 560.6,231.0 560.8,231.8 560.9,232.6 561.1,232.6 561.3,233.1 561.5,235.0 561.7,236.7 561.8,236.6 562.0,236.3 562.2,236.8 562.4,236.7 562.6,234.6 562.7,232.3 562.9,231.8 563.1,231.5 563.3,229.3 563.5,226.2 563.6,223.6 563.8,221.3 564.0,219.2 564.2,218.1 564.4,216.9 564.5,212.9 564.7,207.5 564.9,204.0 565.1,203.1 565.3,201.9 565.4,199.2 565.6,195.4 565.8,191.2 566.0,187.2 566.2,185.2 566.3,184.7 566.5,183.1 566.7,179.0 566.9,175.4 567.1,174.6 567.2,174.4 567.4,173.4 567.6,172.6 567.8,171.9 568.0,170.3 568.1,168.4 568.3,168.2 568.5,168.8 568.7,168.6 568.9,168.7 569.0,170.5 569.2,172.6 569.4,173.3 569.6,173.7 569.8,176.3 569.9,179.4 570.1,181.6 570.3,183.5 570.5,185.1 570.7,185.7 570.8,187.5 571.0,192.3 571.2,197.6 571.4,200.3 571.6,201.2 571.7,202.7 571.9,205.6 572.1,209.0 572.3,213.7 572.5,217.8 572.6,219.1 572.8,219.2 573.0,221.7 573.2,225.5 573.4,228.2 573.5,230.0 573.7,231.1 573.9,230.8 574.1,230.7 574.3,232.4 574.4,235.3 574.6,236.2 574.8,235.8 575.0,236.1 575.2,236.5 575.3,235.3 575.5,233.3 575.7,232.4 575.9,231.7 576.1,230.1 576.2,228.5 576.4,226.9 576.6,224.2 576.8,220.9 577.0,219.2 577.1,219.1 577.3,217.2 577.5,212.6 577.7,208.0 577.9,205.2 578.0,203.6 578.2,202.0 578.4,200.3 578.6,197.0 578.8,191.9 578.9,187.5 579.1,186.2 579.3,185.7 579.5,183.3 579.7,179.9 579.8,177.4 580.0,176.0 580.2,174.8 580.4,174.1 580.6,174.1 580.7,172.7 580.9,170.5 581.1,169.4 581.3,169.5 581.5,169.0 581.6,168.6 581.8,169.5 582.0,171.9 582.2,173.4 582.4,173.5 582.5,174.1 582.7,175.9 582.9,178.1 583.1,180.5 583.3,183.8 583.4,186.3 583.6,186.8 583.8,187.5 584.0,191.3 584.2,196.2 584.3,199.5 584.5,201.6 584.7,203.2 584.9,204.6 585.1,206.9 585.2,211.4 585.4,216.6 585.6,219.4 585.8,220.0 586.0,221.4 586.1,224.3 586.3,227.1 586.5,228.7 586.7,230.1 586.9,230.9 587.0,230.8 587.2,231.5 587.4,233.8 587.6,235.8 587.8,235.9 587.9,235.3 588.1,235.6 588.3,235.4 588.5,233.6 588.7,231.7 588.8,231.1 589.0,230.7 589.2,228.9 589.4,227.1 589.6,225.0 589.7,221.8 589.9,218.8 590.1,217.8 590.3,217.2 590.5,214.2 590.6,209.4 590.8,205.5 591.0,203.4 591.2,202.0 591.4,200.2 591.5,198.0 591.7,194.1 591.9,188.7 592.1,185.5 592.3,185.0 592.4,184.3 592.6,181.5 592.8,178.5 593.0,176.5 593.2,174.9 593.3,173.7 593.5,173.8 593.7,173.7 593.9,171.7 594.1,169.4 594.2,169.1 594.4,169.4 594.6,169.1 594.8,169.3 595.0,171.1 595.1,173.0 595.3,174.1 595.5,175.1 595.7,176.5 595.9,177.6 596.0,179.1 596.2,182.3 596.4,185.9 596.6,187.4 596.8,187.9 596.9,189.9 597.1,193.9 597.3,198.1 597.5,201.6 597.7,204.3 597.8,205.4 598.0,206.4 598.2,209.7 598.4,215.1 598.6,219.0 598.7,220.1 598.9,220.8 599.1,223.2 599.3,225.8 599.5,227.7 599.6,229.6 599.8,231.1 600.0,231.2 600.2,231.5 600.4,233.4 600.5,235.1 600.7,235.4 600.9,235.3 601.1,235.9 601.3,235.7 601.4,233.9 601.6,231.8 601.8,230.9 602.0,229.6 602.2,228.2 602.3,227.0 602.5,225.7 602.7,222.7 602.9,219.6 603.1,218.1 603.2,217.6 603.4,215.3 603.6,210.9 603.8,206.8 604.0,203.6 604.1,201.1 604.3,199.8 604.5,198.7 604.7,195.7 604.8,190.3 605.0,185.9 605.2,184.5 605.4,184.0 605.6,182.3 605.7,179.9 605.9,177.5 606.1,175.4 606.3,173.8 606.5,173.6 606.6,173.7 606.8,172.1 607.0,169.8 607.2,169.2 607.4,169.5 607.5,169.3 607.7,169.6 607.9,171.1 608.1,173.0 608.3,174.2 608.4,174.9 608.6,176.0 608.8,177.3 609.0,178.9 609.2,181.9 609.3,185.7 609.5,187.5 609.7,187.5 609.9,189.3 610.1,193.6 610.2,197.8 610.4,200.9 610.6,203.2 610.8,204.5 611.0,205.9 611.1,209.3 611.3,214.6 611.5,218.6 611.7,219.9 611.9,220.3 612.0,222.3 612.2,225.0 612.4,227.1 612.6,228.6 612.8,230.3 612.9,231.3 613.1,231.7 613.3,232.9 613.5,235.0 613.7,235.9 613.8,235.3 614.0,235.3 614.2,235.2 614.4,233.8 614.6,231.6 614.7,230.4 614.9,230.0 615.1,229.3 615.3,227.8 615.5,226.1 615.6,223.3 615.8,219.8 616.0,217.4 616.2,217.1 616.4,216.0 616.5,212.1 616.7,207.3 616.9,204.2 617.1,202.3 617.3,200.5 617.4,198.6 617.6,195.8 617.8,191.3 618.0,186.8 618.2,184.8 618.3,184.5 618.5,183.2 618.7,180.3 618.9,178.1 619.1,176.8 619.2,175.2 619.4,173.8 619.6,173.1 619.8,172.3 620.0,170.6 620.1,169.2 620.3,169.4 620.5,169.9 620.7,169.8 620.9,170.3 621.0,173.0 621.2,175.3 621.4,175.5 621.6,175.1 621.8,176.2 621.9,178.7 622.1,181.8 622.3,184.8 622.5,187.3 622.7,188.0 622.8,188.7 623.0,192.0 623.2,197.0 623.4,200.7 623.6,202.3 623.7,203.6 623.9,205.8 624.1,208.8 624.3,212.8 624.5,217.5 624.6,220.5 624.8,220.9 625.0,221.4 625.2,224.0 625.4,226.9 625.5,228.3 625.7,229.3 625.9,230.7 626.1,231.7 626.3,232.4 626.4,233.5 626.6,235.1 626.8,235.5 627.0,235.0 627.2,234.9 627.3,234.7 627.5,232.8 627.7,230.5 627.9,229.6 628.1,229.5 628.2,228.4 628.4,226.1 628.6,223.4 628.8,220.6 629.0,218.1 629.1,216.5 629.3,215.7 629.5,213.3 629.7,208.4 629.9,204.1 630.0,202.6 630.2,201.9 630.4,199.8 630.6,196.5 630.8,192.8 630.9,188.1 631.1,184.9 631.3,184.1 631.5,183.4 631.7,180.9 631.8,178.0 632.0,176.6 632.2,176.0 632.4,174.6 632.6,173.2 632.7,172.6 632.9,171.7 633.1,170.2 633.3,169.5 633.5,169.9 633.6,170.0 633.8,170.2 634.0,172.1 634.2,174.6 634.4,175.5 634.5,175.1 634.7,176.2 634.9,179.0 635.1,181.9 635.3,184.2 635.4,186.4 635.6,187.5 635.8,188.5 636.0,191.8 636.2,197.1 636.3,200.7 636.5,202.0 636.7,203.0 636.9,205.2 637.1,208.6 637.2,212.4 637.4,216.8 637.6,219.9 637.8,220.4 638.0,220.8 638.1,223.5 638.3,227.3 638.5,228.9 638.7,229.1 638.9,229.6 639.0,230.6 639.2,231.8 639.4,233.3 639.6,235.4 639.8,235.9 639.9,234.8 640.1,234.3 640.3,234.3 640.5,232.8 640.7,230.4 640.8,229.6 641.0,229.7 641.2,228.3 641.4,225.4 641.6,223.0 641.7,220.9 641.9,218.9 642.1,217.4 642.3,216.0 642.5,212.7 642.6,207.8 642.8,204.3 643.0,203.7 643.2,203.1 643.4,199.9 643.5,195.4 643.7,191.4 643.9,188.2 644.1,185.8 644.3,185.1 644.4,184.0 644.6,181.1 644.8,177.5 645.0,176.2 645.2,176.4 645.3,175.4 645.5,173.9 645.7,172.6 645.9,171.3 646.1,169.8 646.2,169.6 646.4,170.4 646.6,170.9 646.8,171.0 647.0,172.3 647.1,174.2 647.3,174.7 647.5,174.7 647.7,176.3 647.9,179.6 648.0,182.3 648.2,184.2 648.4,186.0 648.6,187.5 648.8,189.0 648.9,192.4 649.1,197.4 649.3,200.4 649.5,201.0 649.6,201.8 649.8,204.9 650.0,208.9 650.2,213.0 650.4,216.7 650.5,219.1 650.7,219.7 650.9,220.9 651.1,223.8 651.3,226.8 651.4,227.8 651.6,228.3 651.8,229.9 652.0,231.6 652.2,232.3 652.3,232.9 652.5,234.2 652.7,235.4 652.9,235.3 653.1,234.7 653.2,233.9 653.4,231.9 653.6,230.0 653.8,229.5 654.0,230.1 654.1,228.8 654.3,225.4 654.5,222.2 654.7,220.6 654.9,219.3 655.0,217.9 655.2,216.1 655.4,212.7 655.6,207.8 655.8,204.3 655.9,203.8 656.1,203.0 656.3,199.8 656.5,195.7 656.7,192.2 656.8,188.8 657.0,186.2 657.2,185.2 657.4,184.0 657.6,181.0 657.7,178.4 657.9,177.5 658.1,176.6 658.3,174.8 658.5,173.6 658.6,173.1 658.8,172.2 659.0,170.8 659.2,170.2 659.4,169.9 659.5,169.4 659.7,170.2 659.9,173.0 660.1,175.6 660.3,175.9 660.4,175.2 660.6,176.3 660.8,178.9 661.0,181.7 661.2,184.6 661.3,186.9 661.5,187.6 661.7,188.2 661.9,191.7 662.1,196.6 662.2,200.2 662.4,201.6 662.6,202.9 662.8,205.2 663.0,208.0 663.1,211.7 663.3,216.2 663.5,219.2 663.7,220.0 663.9,221.0 664.0,223.7 664.2,226.2 664.4,227.1 664.6,228.1 664.8,230.1 664.9,231.4 665.1,231.8 665.3,232.7 665.5,233.9 665.7,234.3 665.8,234.6 666.0,235.2 666.2,234.7 666.4,232.0 666.6,229.3 666.7,229.0 666.9,229.8 667.1,228.8 667.3,226.3 667.5,223.4 667.6,220.3 667.8,217.9 668.0,217.0 668.2,216.5 668.4,213.4 668.5,208.5 668.7,205.2 668.9,203.6 669.1,201.8 669.3,199.5 669.4,196.9 669.6,193.3 669.8,189.2 670.0,186.3 670.2,184.9 670.3,183.4 670.5,181.0 670.7,179.0 670.9,178.2 671.1,177.3 671.2,174.9 671.4,172.7 671.6,172.5 671.8,172.6 672.0,171.5 672.1,170.9 672.3,170.2 672.5,169.7 672.7,170.1 672.9,172.6 673.0,175.7 673.2,176.6 673.4,175.6 673.6,175.9 673.8,178.3 673.9,181.5 674.1,184.3 674.3,186.7 674.5,188.1 674.7,188.8 674.8,191.1 675.0,195.7 675.2,200.2 675.4,202.2 675.6,202.9 675.7,205.0 675.9,208.3 676.1,211.8 676.3,215.3 676.5,218.6 676.6,220.3 676.8,221.1 677.0,222.9 677.2,225.5 677.4,227.1 677.5,227.7 677.7,229.3 677.9,231.4 678.1,232.4 678.3,232.5 678.4,233.3 678.6,234.5 678.8,235.2 679.0,234.8 679.2,233.9 679.3,232.3 679.5,229.7 679.7,228.2 679.9,228.7 680.1,229.2 680.2,226.8 680.4,222.7 680.6,220.0 680.8,218.8 681.0,217.8 681.1,215.9 681.3,213.4 681.5,209.5 681.7,205.2 681.9,202.5 682.0,201.8 682.2,200.6 682.4,196.8 682.6,192.3 682.8,189.4 682.9,187.0" fill="none" stroke="#FF5A1C" stroke-width="1.55" stroke-linejoin="round"/></g>
<g stroke="#333333" stroke-width="0.6"><line x1="36.0" y1="12.65" x2="683.3" y2="12.65"/><line x1="36.0" y1="136.3" x2="683.3" y2="136.3"/></g><g stroke="#333333" stroke-width="0.5"><line x1="36.3" y1="12.65" x2="36.3" y2="136.3"/><line x1="683.0" y1="12.65" x2="683.0" y2="136.3"/></g>
<g stroke="#333333" stroke-width="0.6"><line x1="35.0" y1="145.8" x2="683.3" y2="145.8"/><line x1="35.0" y1="259.9" x2="683.3" y2="259.9"/></g><g stroke="#333333" stroke-width="0.5"><line x1="35.3" y1="145.8" x2="35.3" y2="259.9"/><line x1="683.0" y1="145.8" x2="683.0" y2="259.9"/></g>
<g font-family="Liberation Sans, Arial, sans-serif" font-weight="bold" font-size="9.8" fill="#262626">
<text transform="translate(32.9,28.0) scale(1,1.0)" text-anchor="end">400</text><text transform="translate(32.9,53.0) scale(1,1.0)" text-anchor="end">200</text><text transform="translate(32.9,79.0) scale(1,1.0)" text-anchor="end">0</text><text transform="translate(32.9,104.0) scale(1,1.0)" text-anchor="end">-200</text><text transform="translate(32.9,129.0) scale(1,1.0)" text-anchor="end">-400</text><text transform="translate(31.9,163.0) scale(1,1.0)" text-anchor="end">200</text><text transform="translate(31.9,185.0) scale(1,1.0)" text-anchor="end">100</text><text transform="translate(31.9,206.0) scale(1,1.0)" text-anchor="end">0</text><text transform="translate(31.9,228.0) scale(1,1.0)" text-anchor="end">-100</text><text transform="translate(31.9,250.0) scale(1,1.0)" text-anchor="end">-200</text><text transform="translate(35.2,273.0) scale(1,1.0)" text-anchor="middle">0</text><text transform="translate(100.0,273.0) scale(1,1.0)" text-anchor="middle">0.1</text><text transform="translate(164.8,273.0) scale(1,1.0)" text-anchor="middle">0.2</text><text transform="translate(229.5,273.0) scale(1,1.0)" text-anchor="middle">0.3</text><text transform="translate(294.3,273.0) scale(1,1.0)" text-anchor="middle">0.4</text><text transform="translate(359.1,273.0) scale(1,1.0)" text-anchor="middle">0.5</text><text transform="translate(423.9,273.0) scale(1,1.0)" text-anchor="middle">0.6</text><text transform="translate(488.6,273.0) scale(1,1.0)" text-anchor="middle">0.7</text><text transform="translate(553.4,273.0) scale(1,1.0)" text-anchor="middle">0.8</text><text transform="translate(618.2,273.0) scale(1,1.0)" text-anchor="middle">0.9</text><text transform="translate(682.9,273.0) scale(1,1.0)" text-anchor="middle">1</text>
</g>
<g font-family="Liberation Sans, Arial, sans-serif" font-weight="bold" font-size="10.4" fill="#262626" text-anchor="middle">
<text x="359.3" y="8" fill="#000">Grid side Parameters</text>
<text x="360.5" y="286.5">Time in Sec</text>
<text transform="translate(8.7,74.8) rotate(-90)" font-size="10.65">Voltage in Volts</text>
<text transform="translate(8.1,202.6) rotate(-90)" font-size="10.5">Current in Amps</text>
</g>
</g>
</svg>
</body></html>
